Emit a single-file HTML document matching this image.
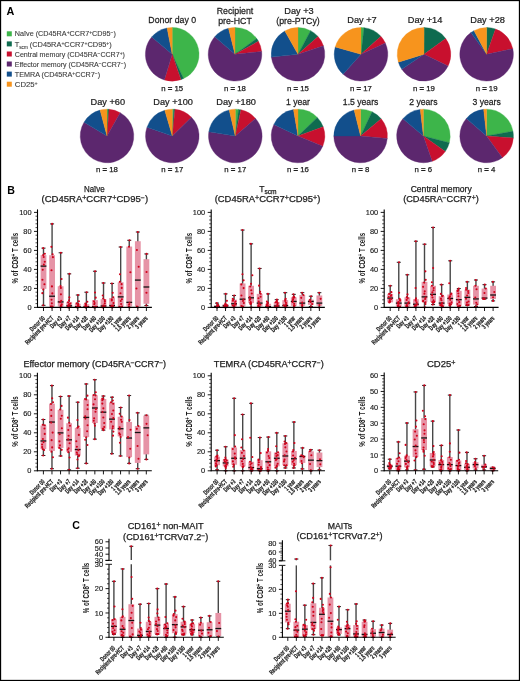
<!DOCTYPE html>
<html><head><meta charset="utf-8"><style>
html,body{margin:0;padding:0;background:#fff;}
svg{display:block;font-family:"Liberation Sans", sans-serif;will-change:transform;}
</style></head><body>
<svg width="520" height="681" viewBox="0 0 520 681">
<rect x="0.5" y="0.5" width="519" height="680" fill="#fff" stroke="#000" stroke-width="1.3"/>
<text x="6.6" y="14.7" font-size="10.8" font-weight="bold" fill="#000">A</text>
<rect x="6.8" y="31.3" width="5" height="5" fill="#3db54a"/>
<text x="14.8" y="36.4" font-size="7.3" textLength="101.1" lengthAdjust="spacingAndGlyphs" fill="#3a3a3a" stroke="#3a3a3a" stroke-width="0.1">Naïve (CD45RA<tspan baseline-shift="2.4" font-size="5">+</tspan>CCR7<tspan baseline-shift="2.4" font-size="5">+</tspan>CD95<tspan baseline-shift="2.4" font-size="5">−</tspan>)</text>
<rect x="6.8" y="41.4" width="5" height="5" fill="#0e6b4f"/>
<text x="14.8" y="46.5" font-size="7.3" textLength="97.0" lengthAdjust="spacingAndGlyphs" fill="#3a3a3a" stroke="#3a3a3a" stroke-width="0.1">T<tspan baseline-shift="-1.5" font-size="4.5">scm</tspan> (CD45RA<tspan baseline-shift="2.4" font-size="5">+</tspan>CCR7<tspan baseline-shift="2.4" font-size="5">+</tspan>CD95<tspan baseline-shift="2.4" font-size="5">+</tspan>)</text>
<rect x="6.8" y="51.5" width="5" height="5" fill="#c8102e"/>
<text x="14.8" y="56.6" font-size="7.3" textLength="110.1" lengthAdjust="spacingAndGlyphs" fill="#3a3a3a" stroke="#3a3a3a" stroke-width="0.1">Central memory (CD45RA<tspan baseline-shift="2.4" font-size="5">−</tspan>CCR7<tspan baseline-shift="2.4" font-size="5">+</tspan>)</text>
<rect x="6.8" y="61.5" width="5" height="5" fill="#5c276e"/>
<text x="14.8" y="66.6" font-size="7.3" textLength="111.2" lengthAdjust="spacingAndGlyphs" fill="#3a3a3a" stroke="#3a3a3a" stroke-width="0.1">Effector memory (CD45RA<tspan baseline-shift="2.4" font-size="5">−</tspan>CCR7<tspan baseline-shift="2.4" font-size="5">−</tspan>)</text>
<rect x="6.8" y="71.6" width="5" height="5" fill="#124f8c"/>
<text x="14.8" y="76.7" font-size="7.3" textLength="85.3" lengthAdjust="spacingAndGlyphs" fill="#3a3a3a" stroke="#3a3a3a" stroke-width="0.1">TEMRA (CD45RA<tspan baseline-shift="2.4" font-size="5">+</tspan>CCR7<tspan baseline-shift="2.4" font-size="5">−</tspan>)</text>
<rect x="6.8" y="81.7" width="5" height="5" fill="#f7941d"/>
<text x="14.8" y="86.8" font-size="7.3" textLength="22.9" lengthAdjust="spacingAndGlyphs" fill="#3a3a3a" stroke="#3a3a3a" stroke-width="0.1">CD25<tspan baseline-shift="2.4" font-size="5">+</tspan></text>
<path d="M172.2,54.3L172.20,27.50A26.8,26.8 0 0 1 183.53,78.59Z" fill="#3db54a" stroke="#3db54a" stroke-width="0.35" stroke-linejoin="bevel"/>
<path d="M172.2,54.3L183.53,78.59A26.8,26.8 0 0 1 180.93,79.64Z" fill="#0e6b4f" stroke="#0e6b4f" stroke-width="0.35" stroke-linejoin="bevel"/>
<path d="M172.2,54.3L180.93,79.64A26.8,26.8 0 0 1 164.36,79.93Z" fill="#c8102e" stroke="#c8102e" stroke-width="0.35" stroke-linejoin="bevel"/>
<path d="M172.2,54.3L164.36,79.93A26.8,26.8 0 0 1 151.67,37.07Z" fill="#5c276e" stroke="#5c276e" stroke-width="0.35" stroke-linejoin="bevel"/>
<path d="M172.2,54.3L151.67,37.07A26.8,26.8 0 0 1 167.09,27.99Z" fill="#124f8c" stroke="#124f8c" stroke-width="0.35" stroke-linejoin="bevel"/>
<path d="M172.2,54.3L167.09,27.99A26.8,26.8 0 0 1 172.20,27.50Z" fill="#f7941d" stroke="#f7941d" stroke-width="0.35" stroke-linejoin="bevel"/>
<text transform="translate(172.2,23.0) scale(0.935,1)" font-size="9.4" text-anchor="middle" fill="#1e1e1e" stroke="#1e1e1e" stroke-width="0.25">Donor day 0</text>
<text x="172.2" y="90.5" font-size="7.8" text-anchor="middle" fill="#1e1e1e" stroke="#1e1e1e" stroke-width="0.25">n <tspan font-weight="bold">=</tspan> 15</text>
<path d="M235.0,54.3L235.00,27.50A26.8,26.8 0 0 1 256.68,38.55Z" fill="#3db54a" stroke="#3db54a" stroke-width="0.35" stroke-linejoin="bevel"/>
<path d="M235.0,54.3L256.68,38.55A26.8,26.8 0 0 1 258.44,41.31Z" fill="#0e6b4f" stroke="#0e6b4f" stroke-width="0.35" stroke-linejoin="bevel"/>
<path d="M235.0,54.3L258.44,41.31A26.8,26.8 0 0 1 261.65,51.50Z" fill="#c8102e" stroke="#c8102e" stroke-width="0.35" stroke-linejoin="bevel"/>
<path d="M235.0,54.3L261.65,51.50A26.8,26.8 0 1 1 214.77,36.72Z" fill="#5c276e" stroke="#5c276e" stroke-width="0.35" stroke-linejoin="bevel"/>
<path d="M235.0,54.3L214.77,36.72A26.8,26.8 0 0 1 228.52,28.30Z" fill="#124f8c" stroke="#124f8c" stroke-width="0.35" stroke-linejoin="bevel"/>
<path d="M235.0,54.3L228.52,28.30A26.8,26.8 0 0 1 235.00,27.50Z" fill="#f7941d" stroke="#f7941d" stroke-width="0.35" stroke-linejoin="bevel"/>
<text transform="translate(235.0,13.9) scale(0.935,1)" font-size="9.4" text-anchor="middle" fill="#1e1e1e" stroke="#1e1e1e" stroke-width="0.25">Recipient</text>
<text transform="translate(235.0,24.0) scale(0.935,1)" font-size="9.4" text-anchor="middle" fill="#1e1e1e" stroke="#1e1e1e" stroke-width="0.25">pre-HCT</text>
<text x="235.0" y="90.5" font-size="7.8" text-anchor="middle" fill="#1e1e1e" stroke="#1e1e1e" stroke-width="0.25">n <tspan font-weight="bold">=</tspan> 18</text>
<path d="M298.0,54.3L298.00,27.50A26.8,26.8 0 0 1 310.58,30.64Z" fill="#3db54a" stroke="#3db54a" stroke-width="0.35" stroke-linejoin="bevel"/>
<path d="M298.0,54.3L310.58,30.64A26.8,26.8 0 0 1 318.07,36.54Z" fill="#0e6b4f" stroke="#0e6b4f" stroke-width="0.35" stroke-linejoin="bevel"/>
<path d="M298.0,54.3L318.07,36.54A26.8,26.8 0 0 1 323.42,45.80Z" fill="#c8102e" stroke="#c8102e" stroke-width="0.35" stroke-linejoin="bevel"/>
<path d="M298.0,54.3L323.42,45.80A26.8,26.8 0 1 1 271.35,57.10Z" fill="#5c276e" stroke="#5c276e" stroke-width="0.35" stroke-linejoin="bevel"/>
<path d="M298.0,54.3L271.35,57.10A26.8,26.8 0 0 1 284.84,30.95Z" fill="#124f8c" stroke="#124f8c" stroke-width="0.35" stroke-linejoin="bevel"/>
<path d="M298.0,54.3L284.84,30.95A26.8,26.8 0 0 1 298.00,27.50Z" fill="#f7941d" stroke="#f7941d" stroke-width="0.35" stroke-linejoin="bevel"/>
<text transform="translate(299.0,13.9) scale(0.98,1)" font-size="9.4" text-anchor="middle" fill="#1e1e1e" stroke="#1e1e1e" stroke-width="0.25">Day +3</text>
<text transform="translate(298.0,24.0) scale(0.935,1)" font-size="9.4" text-anchor="middle" fill="#1e1e1e" stroke="#1e1e1e" stroke-width="0.25">(pre-PTCy)</text>
<text x="298.0" y="90.5" font-size="7.8" text-anchor="middle" fill="#1e1e1e" stroke="#1e1e1e" stroke-width="0.25">n <tspan font-weight="bold">=</tspan> 15</text>
<path d="M361.0,54.3L361.00,27.50A26.8,26.8 0 0 1 363.99,27.67Z" fill="#3db54a" stroke="#3db54a" stroke-width="0.35" stroke-linejoin="bevel"/>
<path d="M361.0,54.3L363.99,27.67A26.8,26.8 0 0 1 380.92,36.37Z" fill="#0e6b4f" stroke="#0e6b4f" stroke-width="0.35" stroke-linejoin="bevel"/>
<path d="M361.0,54.3L380.92,36.37A26.8,26.8 0 0 1 385.29,42.97Z" fill="#c8102e" stroke="#c8102e" stroke-width="0.35" stroke-linejoin="bevel"/>
<path d="M361.0,54.3L385.29,42.97A26.8,26.8 0 0 1 343.07,74.22Z" fill="#5c276e" stroke="#5c276e" stroke-width="0.35" stroke-linejoin="bevel"/>
<path d="M361.0,54.3L343.07,74.22A26.8,26.8 0 0 1 335.24,46.91Z" fill="#124f8c" stroke="#124f8c" stroke-width="0.35" stroke-linejoin="bevel"/>
<path d="M361.0,54.3L335.24,46.91A26.8,26.8 0 0 1 361.00,27.50Z" fill="#f7941d" stroke="#f7941d" stroke-width="0.35" stroke-linejoin="bevel"/>
<text transform="translate(362.0,23.0) scale(0.98,1)" font-size="9.4" text-anchor="middle" fill="#1e1e1e" stroke="#1e1e1e" stroke-width="0.25">Day +7</text>
<text x="361.0" y="90.5" font-size="7.8" text-anchor="middle" fill="#1e1e1e" stroke="#1e1e1e" stroke-width="0.25">n <tspan font-weight="bold">=</tspan> 17</text>
<path d="M424.0,54.3L424.00,27.50A26.8,26.8 0 0 1 424.23,27.50Z" fill="#3db54a" stroke="#3db54a" stroke-width="0.35" stroke-linejoin="bevel"/>
<path d="M424.0,54.3L424.23,27.50A26.8,26.8 0 0 1 445.68,38.55Z" fill="#0e6b4f" stroke="#0e6b4f" stroke-width="0.35" stroke-linejoin="bevel"/>
<path d="M424.0,54.3L445.68,38.55A26.8,26.8 0 0 1 448.09,66.05Z" fill="#c8102e" stroke="#c8102e" stroke-width="0.35" stroke-linejoin="bevel"/>
<path d="M424.0,54.3L448.09,66.05A26.8,26.8 0 0 1 401.78,69.29Z" fill="#5c276e" stroke="#5c276e" stroke-width="0.35" stroke-linejoin="bevel"/>
<path d="M424.0,54.3L401.78,69.29A26.8,26.8 0 0 1 398.37,62.14Z" fill="#124f8c" stroke="#124f8c" stroke-width="0.35" stroke-linejoin="bevel"/>
<path d="M424.0,54.3L398.37,62.14A26.8,26.8 0 0 1 424.00,27.50Z" fill="#f7941d" stroke="#f7941d" stroke-width="0.35" stroke-linejoin="bevel"/>
<text transform="translate(425.0,23.0) scale(0.98,1)" font-size="9.4" text-anchor="middle" fill="#1e1e1e" stroke="#1e1e1e" stroke-width="0.25">Day +14</text>
<text x="424.0" y="90.5" font-size="7.8" text-anchor="middle" fill="#1e1e1e" stroke="#1e1e1e" stroke-width="0.25">n <tspan font-weight="bold">=</tspan> 19</text>
<path d="M486.6,54.3L486.60,27.50A26.8,26.8 0 0 1 487.07,27.50Z" fill="#3db54a" stroke="#3db54a" stroke-width="0.35" stroke-linejoin="bevel"/>
<path d="M486.6,54.3L487.07,27.50A26.8,26.8 0 0 1 495.50,29.02Z" fill="#0e6b4f" stroke="#0e6b4f" stroke-width="0.35" stroke-linejoin="bevel"/>
<path d="M486.6,54.3L495.50,29.02A26.8,26.8 0 0 1 512.81,48.73Z" fill="#c8102e" stroke="#c8102e" stroke-width="0.35" stroke-linejoin="bevel"/>
<path d="M486.6,54.3L512.81,48.73A26.8,26.8 0 1 1 470.85,32.62Z" fill="#5c276e" stroke="#5c276e" stroke-width="0.35" stroke-linejoin="bevel"/>
<path d="M486.6,54.3L470.85,32.62A26.8,26.8 0 0 1 474.02,30.64Z" fill="#124f8c" stroke="#124f8c" stroke-width="0.35" stroke-linejoin="bevel"/>
<path d="M486.6,54.3L474.02,30.64A26.8,26.8 0 0 1 486.60,27.50Z" fill="#f7941d" stroke="#f7941d" stroke-width="0.35" stroke-linejoin="bevel"/>
<text transform="translate(487.6,23.0) scale(0.98,1)" font-size="9.4" text-anchor="middle" fill="#1e1e1e" stroke="#1e1e1e" stroke-width="0.25">Day +28</text>
<text x="486.6" y="90.5" font-size="7.8" text-anchor="middle" fill="#1e1e1e" stroke="#1e1e1e" stroke-width="0.25">n <tspan font-weight="bold">=</tspan> 19</text>
<path d="M107.0,136.0L107.00,109.20A26.8,26.8 0 0 1 108.17,109.23Z" fill="#3db54a" stroke="#3db54a" stroke-width="0.35" stroke-linejoin="bevel"/>
<path d="M107.0,136.0L108.17,109.23A26.8,26.8 0 0 1 109.10,109.28Z" fill="#0e6b4f" stroke="#0e6b4f" stroke-width="0.35" stroke-linejoin="bevel"/>
<path d="M107.0,136.0L109.10,109.28A26.8,26.8 0 0 1 120.20,112.67Z" fill="#c8102e" stroke="#c8102e" stroke-width="0.35" stroke-linejoin="bevel"/>
<path d="M107.0,136.0L120.20,112.67A26.8,26.8 0 1 1 84.03,122.20Z" fill="#5c276e" stroke="#5c276e" stroke-width="0.35" stroke-linejoin="bevel"/>
<path d="M107.0,136.0L84.03,122.20A26.8,26.8 0 0 1 100.06,110.11Z" fill="#124f8c" stroke="#124f8c" stroke-width="0.35" stroke-linejoin="bevel"/>
<path d="M107.0,136.0L100.06,110.11A26.8,26.8 0 0 1 107.00,109.20Z" fill="#f7941d" stroke="#f7941d" stroke-width="0.35" stroke-linejoin="bevel"/>
<text transform="translate(107.8,105.3) scale(0.98,1)" font-size="9.4" text-anchor="middle" fill="#1e1e1e" stroke="#1e1e1e" stroke-width="0.25">Day +60</text>
<text x="107.0" y="172.1" font-size="7.8" text-anchor="middle" fill="#1e1e1e" stroke="#1e1e1e" stroke-width="0.25">n <tspan font-weight="bold">=</tspan> 18</text>
<path d="M172.3,136.0L172.30,109.20A26.8,26.8 0 0 1 173.70,109.24Z" fill="#3db54a" stroke="#3db54a" stroke-width="0.35" stroke-linejoin="bevel"/>
<path d="M172.3,136.0L173.70,109.24A26.8,26.8 0 0 1 175.01,109.34Z" fill="#0e6b4f" stroke="#0e6b4f" stroke-width="0.35" stroke-linejoin="bevel"/>
<path d="M172.3,136.0L175.01,109.34A26.8,26.8 0 0 1 191.45,117.25Z" fill="#c8102e" stroke="#c8102e" stroke-width="0.35" stroke-linejoin="bevel"/>
<path d="M172.3,136.0L191.45,117.25A26.8,26.8 0 1 1 146.96,127.27Z" fill="#5c276e" stroke="#5c276e" stroke-width="0.35" stroke-linejoin="bevel"/>
<path d="M172.3,136.0L146.96,127.27A26.8,26.8 0 0 1 164.78,110.28Z" fill="#124f8c" stroke="#124f8c" stroke-width="0.35" stroke-linejoin="bevel"/>
<path d="M172.3,136.0L164.78,110.28A26.8,26.8 0 0 1 172.30,109.20Z" fill="#f7941d" stroke="#f7941d" stroke-width="0.35" stroke-linejoin="bevel"/>
<text transform="translate(173.10000000000002,105.3) scale(0.98,1)" font-size="9.4" text-anchor="middle" fill="#1e1e1e" stroke="#1e1e1e" stroke-width="0.25">Day +100</text>
<text x="172.3" y="172.1" font-size="7.8" text-anchor="middle" fill="#1e1e1e" stroke="#1e1e1e" stroke-width="0.25">n <tspan font-weight="bold">=</tspan> 17</text>
<path d="M235.3,136.0L235.30,109.20A26.8,26.8 0 0 1 238.57,109.40Z" fill="#3db54a" stroke="#3db54a" stroke-width="0.35" stroke-linejoin="bevel"/>
<path d="M235.3,136.0L238.57,109.40A26.8,26.8 0 0 1 241.01,109.82Z" fill="#0e6b4f" stroke="#0e6b4f" stroke-width="0.35" stroke-linejoin="bevel"/>
<path d="M235.3,136.0L241.01,109.82A26.8,26.8 0 0 1 255.53,118.42Z" fill="#c8102e" stroke="#c8102e" stroke-width="0.35" stroke-linejoin="bevel"/>
<path d="M235.3,136.0L255.53,118.42A26.8,26.8 0 1 1 208.83,131.81Z" fill="#5c276e" stroke="#5c276e" stroke-width="0.35" stroke-linejoin="bevel"/>
<path d="M235.3,136.0L208.83,131.81A26.8,26.8 0 0 1 229.18,109.91Z" fill="#124f8c" stroke="#124f8c" stroke-width="0.35" stroke-linejoin="bevel"/>
<path d="M235.3,136.0L229.18,109.91A26.8,26.8 0 0 1 235.30,109.20Z" fill="#f7941d" stroke="#f7941d" stroke-width="0.35" stroke-linejoin="bevel"/>
<text transform="translate(236.10000000000002,105.3) scale(0.98,1)" font-size="9.4" text-anchor="middle" fill="#1e1e1e" stroke="#1e1e1e" stroke-width="0.25">Day +180</text>
<text x="235.3" y="172.1" font-size="7.8" text-anchor="middle" fill="#1e1e1e" stroke="#1e1e1e" stroke-width="0.25">n <tspan font-weight="bold">=</tspan> 17</text>
<path d="M298.0,136.0L298.00,109.20A26.8,26.8 0 0 1 317.28,117.38Z" fill="#3db54a" stroke="#3db54a" stroke-width="0.35" stroke-linejoin="bevel"/>
<path d="M298.0,136.0L317.28,117.38A26.8,26.8 0 0 1 323.18,126.83Z" fill="#0e6b4f" stroke="#0e6b4f" stroke-width="0.35" stroke-linejoin="bevel"/>
<path d="M298.0,136.0L323.18,126.83A26.8,26.8 0 0 1 322.74,146.30Z" fill="#c8102e" stroke="#c8102e" stroke-width="0.35" stroke-linejoin="bevel"/>
<path d="M298.0,136.0L322.74,146.30A26.8,26.8 0 1 1 273.85,124.38Z" fill="#5c276e" stroke="#5c276e" stroke-width="0.35" stroke-linejoin="bevel"/>
<path d="M298.0,136.0L273.85,124.38A26.8,26.8 0 0 1 293.48,109.58Z" fill="#124f8c" stroke="#124f8c" stroke-width="0.35" stroke-linejoin="bevel"/>
<path d="M298.0,136.0L293.48,109.58A26.8,26.8 0 0 1 298.00,109.20Z" fill="#f7941d" stroke="#f7941d" stroke-width="0.35" stroke-linejoin="bevel"/>
<text transform="translate(298.0,105.3) scale(0.92,1)" font-size="9.4" text-anchor="middle" fill="#1e1e1e" stroke="#1e1e1e" stroke-width="0.25">1 year</text>
<text x="298.0" y="172.1" font-size="7.8" text-anchor="middle" fill="#1e1e1e" stroke="#1e1e1e" stroke-width="0.25">n <tspan font-weight="bold">=</tspan> 16</text>
<path d="M360.6,136.0L360.60,109.20A26.8,26.8 0 0 1 372.05,111.77Z" fill="#3db54a" stroke="#3db54a" stroke-width="0.35" stroke-linejoin="bevel"/>
<path d="M360.6,136.0L372.05,111.77A26.8,26.8 0 0 1 381.19,118.85Z" fill="#0e6b4f" stroke="#0e6b4f" stroke-width="0.35" stroke-linejoin="bevel"/>
<path d="M360.6,136.0L381.19,118.85A26.8,26.8 0 0 1 387.29,138.43Z" fill="#c8102e" stroke="#c8102e" stroke-width="0.35" stroke-linejoin="bevel"/>
<path d="M360.6,136.0L387.29,138.43A26.8,26.8 0 0 1 333.80,136.00Z" fill="#5c276e" stroke="#5c276e" stroke-width="0.35" stroke-linejoin="bevel"/>
<path d="M360.6,136.0L333.80,136.00A26.8,26.8 0 0 1 354.12,110.00Z" fill="#124f8c" stroke="#124f8c" stroke-width="0.35" stroke-linejoin="bevel"/>
<path d="M360.6,136.0L354.12,110.00A26.8,26.8 0 0 1 360.60,109.20Z" fill="#f7941d" stroke="#f7941d" stroke-width="0.35" stroke-linejoin="bevel"/>
<text transform="translate(360.6,105.3) scale(0.92,1)" font-size="9.4" text-anchor="middle" fill="#1e1e1e" stroke="#1e1e1e" stroke-width="0.25">1.5 years</text>
<text x="360.6" y="172.1" font-size="7.8" text-anchor="middle" fill="#1e1e1e" stroke="#1e1e1e" stroke-width="0.25">n <tspan font-weight="bold">=</tspan> 8</text>
<path d="M423.4,136.0L423.40,109.20A26.8,26.8 0 0 1 449.33,142.76Z" fill="#3db54a" stroke="#3db54a" stroke-width="0.35" stroke-linejoin="bevel"/>
<path d="M423.4,136.0L449.33,142.76A26.8,26.8 0 0 1 445.25,151.52Z" fill="#0e6b4f" stroke="#0e6b4f" stroke-width="0.35" stroke-linejoin="bevel"/>
<path d="M423.4,136.0L445.25,151.52A26.8,26.8 0 0 1 432.17,161.32Z" fill="#c8102e" stroke="#c8102e" stroke-width="0.35" stroke-linejoin="bevel"/>
<path d="M423.4,136.0L432.17,161.32A26.8,26.8 0 0 1 402.87,118.77Z" fill="#5c276e" stroke="#5c276e" stroke-width="0.35" stroke-linejoin="bevel"/>
<path d="M423.4,136.0L402.87,118.77A26.8,26.8 0 0 1 420.27,109.38Z" fill="#124f8c" stroke="#124f8c" stroke-width="0.35" stroke-linejoin="bevel"/>
<path d="M423.4,136.0L420.27,109.38A26.8,26.8 0 0 1 423.40,109.20Z" fill="#f7941d" stroke="#f7941d" stroke-width="0.35" stroke-linejoin="bevel"/>
<text transform="translate(423.4,105.3) scale(0.92,1)" font-size="9.4" text-anchor="middle" fill="#1e1e1e" stroke="#1e1e1e" stroke-width="0.25">2 years</text>
<text x="423.4" y="172.1" font-size="7.8" text-anchor="middle" fill="#1e1e1e" stroke="#1e1e1e" stroke-width="0.25">n <tspan font-weight="bold">=</tspan> 6</text>
<path d="M486.6,136.0L486.60,109.20A26.8,26.8 0 0 1 512.97,131.21Z" fill="#3db54a" stroke="#3db54a" stroke-width="0.35" stroke-linejoin="bevel"/>
<path d="M486.6,136.0L512.97,131.21A26.8,26.8 0 0 1 513.32,138.01Z" fill="#0e6b4f" stroke="#0e6b4f" stroke-width="0.35" stroke-linejoin="bevel"/>
<path d="M486.6,136.0L513.32,138.01A26.8,26.8 0 0 1 502.39,157.65Z" fill="#c8102e" stroke="#c8102e" stroke-width="0.35" stroke-linejoin="bevel"/>
<path d="M486.6,136.0L502.39,157.65A26.8,26.8 0 0 1 466.37,118.42Z" fill="#5c276e" stroke="#5c276e" stroke-width="0.35" stroke-linejoin="bevel"/>
<path d="M486.6,136.0L466.37,118.42A26.8,26.8 0 0 1 483.66,109.36Z" fill="#124f8c" stroke="#124f8c" stroke-width="0.35" stroke-linejoin="bevel"/>
<path d="M486.6,136.0L483.66,109.36A26.8,26.8 0 0 1 486.60,109.20Z" fill="#f7941d" stroke="#f7941d" stroke-width="0.35" stroke-linejoin="bevel"/>
<text transform="translate(486.6,105.3) scale(0.92,1)" font-size="9.4" text-anchor="middle" fill="#1e1e1e" stroke="#1e1e1e" stroke-width="0.25">3 years</text>
<text x="486.6" y="172.1" font-size="7.8" text-anchor="middle" fill="#1e1e1e" stroke="#1e1e1e" stroke-width="0.25">n <tspan font-weight="bold">=</tspan> 4</text>
<line x1="43.50" y1="248.13" x2="43.50" y2="305.35" stroke="#474747" stroke-width="1.4"/>
<line x1="41.50" y1="248.13" x2="45.50" y2="248.13" stroke="#222" stroke-width="1"/>
<line x1="41.50" y1="305.35" x2="45.50" y2="305.35" stroke="#222" stroke-width="1"/>
<line x1="52.08" y1="223.90" x2="52.08" y2="307.40" stroke="#474747" stroke-width="1.4"/>
<line x1="50.08" y1="223.90" x2="54.08" y2="223.90" stroke="#222" stroke-width="1"/>
<line x1="50.08" y1="307.40" x2="54.08" y2="307.40" stroke="#222" stroke-width="1"/>
<line x1="60.65" y1="252.79" x2="60.65" y2="307.40" stroke="#474747" stroke-width="1.4"/>
<line x1="58.65" y1="252.79" x2="62.65" y2="252.79" stroke="#222" stroke-width="1"/>
<line x1="58.65" y1="307.40" x2="62.65" y2="307.40" stroke="#222" stroke-width="1"/>
<line x1="69.22" y1="273.85" x2="69.22" y2="307.40" stroke="#474747" stroke-width="1.4"/>
<line x1="67.22" y1="273.85" x2="71.22" y2="273.85" stroke="#222" stroke-width="1"/>
<line x1="67.22" y1="307.40" x2="71.22" y2="307.40" stroke="#222" stroke-width="1"/>
<line x1="77.80" y1="295.01" x2="77.80" y2="307.40" stroke="#474747" stroke-width="1.4"/>
<line x1="75.80" y1="295.01" x2="79.80" y2="295.01" stroke="#222" stroke-width="1"/>
<line x1="75.80" y1="307.40" x2="79.80" y2="307.40" stroke="#222" stroke-width="1"/>
<line x1="86.38" y1="292.21" x2="86.38" y2="307.40" stroke="#474747" stroke-width="1.4"/>
<line x1="84.38" y1="292.21" x2="88.38" y2="292.21" stroke="#222" stroke-width="1"/>
<line x1="84.38" y1="307.40" x2="88.38" y2="307.40" stroke="#222" stroke-width="1"/>
<line x1="94.95" y1="271.24" x2="94.95" y2="307.40" stroke="#474747" stroke-width="1.4"/>
<line x1="92.95" y1="271.24" x2="96.95" y2="271.24" stroke="#222" stroke-width="1"/>
<line x1="92.95" y1="307.40" x2="96.95" y2="307.40" stroke="#222" stroke-width="1"/>
<line x1="103.52" y1="282.98" x2="103.52" y2="307.40" stroke="#474747" stroke-width="1.4"/>
<line x1="101.52" y1="282.98" x2="105.52" y2="282.98" stroke="#222" stroke-width="1"/>
<line x1="101.52" y1="307.40" x2="105.52" y2="307.40" stroke="#222" stroke-width="1"/>
<line x1="112.10" y1="283.45" x2="112.10" y2="307.40" stroke="#474747" stroke-width="1.4"/>
<line x1="110.10" y1="283.45" x2="114.10" y2="283.45" stroke="#222" stroke-width="1"/>
<line x1="110.10" y1="307.40" x2="114.10" y2="307.40" stroke="#222" stroke-width="1"/>
<line x1="120.67" y1="247.01" x2="120.67" y2="307.40" stroke="#474747" stroke-width="1.4"/>
<line x1="118.67" y1="247.01" x2="122.67" y2="247.01" stroke="#222" stroke-width="1"/>
<line x1="118.67" y1="307.40" x2="122.67" y2="307.40" stroke="#222" stroke-width="1"/>
<line x1="129.25" y1="240.30" x2="129.25" y2="307.40" stroke="#474747" stroke-width="1.4"/>
<line x1="127.25" y1="240.30" x2="131.25" y2="240.30" stroke="#222" stroke-width="1"/>
<line x1="127.25" y1="307.40" x2="131.25" y2="307.40" stroke="#222" stroke-width="1"/>
<line x1="137.82" y1="232.01" x2="137.82" y2="307.40" stroke="#474747" stroke-width="1.4"/>
<line x1="135.82" y1="232.01" x2="139.82" y2="232.01" stroke="#222" stroke-width="1"/>
<line x1="135.82" y1="307.40" x2="139.82" y2="307.40" stroke="#222" stroke-width="1"/>
<line x1="146.40" y1="253.91" x2="146.40" y2="305.54" stroke="#474747" stroke-width="1.4"/>
<line x1="144.40" y1="253.91" x2="148.40" y2="253.91" stroke="#222" stroke-width="1"/>
<line x1="144.40" y1="305.54" x2="148.40" y2="305.54" stroke="#222" stroke-width="1"/>
<rect x="40.60" y="255.12" width="5.8" height="33.74" fill="#e693a6"/>
<rect x="49.18" y="255.21" width="5.8" height="51.26" fill="#e693a6"/>
<rect x="57.75" y="286.24" width="5.8" height="20.22" fill="#e693a6"/>
<rect x="66.32" y="301.90" width="5.8" height="5.22" fill="#e693a6"/>
<rect x="74.90" y="303.77" width="5.8" height="3.45" fill="#e693a6"/>
<rect x="83.47" y="304.23" width="5.8" height="2.98" fill="#e693a6"/>
<rect x="92.05" y="300.13" width="5.8" height="7.08" fill="#e693a6"/>
<rect x="100.62" y="299.20" width="5.8" height="7.92" fill="#e693a6"/>
<rect x="109.20" y="298.08" width="5.8" height="8.85" fill="#e693a6"/>
<rect x="117.77" y="282.24" width="5.8" height="24.23" fill="#e693a6"/>
<rect x="126.35" y="246.54" width="5.8" height="59.92" fill="#e693a6"/>
<rect x="134.92" y="241.23" width="5.8" height="65.24" fill="#e693a6"/>
<rect x="143.50" y="259.22" width="5.8" height="44.55" fill="#e693a6"/>
<line x1="40.60" y1="266.11" x2="46.40" y2="266.11" stroke="#111" stroke-width="1.3"/>
<line x1="49.18" y1="296.22" x2="54.98" y2="296.22" stroke="#111" stroke-width="1.3"/>
<line x1="57.75" y1="301.90" x2="63.55" y2="301.90" stroke="#111" stroke-width="1.3"/>
<line x1="66.32" y1="305.82" x2="72.12" y2="305.82" stroke="#111" stroke-width="1.3"/>
<line x1="74.90" y1="306.65" x2="80.70" y2="306.65" stroke="#111" stroke-width="1.3"/>
<line x1="83.47" y1="306.65" x2="89.28" y2="306.65" stroke="#111" stroke-width="1.3"/>
<line x1="92.05" y1="306.65" x2="97.85" y2="306.65" stroke="#111" stroke-width="1.3"/>
<line x1="100.62" y1="306.00" x2="106.42" y2="306.00" stroke="#111" stroke-width="1.3"/>
<line x1="109.20" y1="305.54" x2="115.00" y2="305.54" stroke="#111" stroke-width="1.3"/>
<line x1="117.77" y1="296.87" x2="123.58" y2="296.87" stroke="#111" stroke-width="1.3"/>
<line x1="126.35" y1="302.37" x2="132.15" y2="302.37" stroke="#111" stroke-width="1.3"/>
<line x1="134.92" y1="280.09" x2="140.72" y2="280.09" stroke="#111" stroke-width="1.3"/>
<line x1="143.50" y1="286.99" x2="149.30" y2="286.99" stroke="#111" stroke-width="1.3"/>
<circle cx="43.24" cy="305.35" r="1.05" fill="#d0021b"/>
<circle cx="42.35" cy="293.13" r="1.05" fill="#d0021b"/>
<circle cx="43.29" cy="289.62" r="1.05" fill="#d0021b"/>
<circle cx="44.42" cy="284.26" r="1.05" fill="#d0021b"/>
<circle cx="42.45" cy="279.75" r="1.05" fill="#d0021b"/>
<circle cx="42.73" cy="269.71" r="1.05" fill="#d0021b"/>
<circle cx="43.86" cy="264.63" r="1.05" fill="#d0021b"/>
<circle cx="44.75" cy="261.75" r="1.05" fill="#d0021b"/>
<circle cx="43.72" cy="256.93" r="1.05" fill="#d0021b"/>
<circle cx="43.21" cy="255.10" r="1.05" fill="#d0021b"/>
<circle cx="44.83" cy="253.70" r="1.05" fill="#d0021b"/>
<circle cx="43.23" cy="248.13" r="1.05" fill="#d0021b"/>
<circle cx="51.81" cy="307.40" r="1.05" fill="#d0021b"/>
<circle cx="50.84" cy="306.64" r="1.05" fill="#d0021b"/>
<circle cx="51.25" cy="306.52" r="1.05" fill="#d0021b"/>
<circle cx="52.58" cy="306.46" r="1.05" fill="#d0021b"/>
<circle cx="51.87" cy="303.37" r="1.05" fill="#d0021b"/>
<circle cx="51.55" cy="299.79" r="1.05" fill="#d0021b"/>
<circle cx="52.31" cy="293.42" r="1.05" fill="#d0021b"/>
<circle cx="51.94" cy="286.42" r="1.05" fill="#d0021b"/>
<circle cx="51.51" cy="270.26" r="1.05" fill="#d0021b"/>
<circle cx="52.90" cy="257.14" r="1.05" fill="#d0021b"/>
<circle cx="52.63" cy="254.27" r="1.05" fill="#d0021b"/>
<circle cx="51.36" cy="246.85" r="1.05" fill="#d0021b"/>
<circle cx="52.12" cy="223.90" r="1.05" fill="#d0021b"/>
<circle cx="60.37" cy="307.40" r="1.05" fill="#d0021b"/>
<circle cx="61.12" cy="306.67" r="1.05" fill="#d0021b"/>
<circle cx="61.39" cy="306.47" r="1.05" fill="#d0021b"/>
<circle cx="60.85" cy="305.46" r="1.05" fill="#d0021b"/>
<circle cx="61.70" cy="304.41" r="1.05" fill="#d0021b"/>
<circle cx="60.13" cy="302.15" r="1.05" fill="#d0021b"/>
<circle cx="61.20" cy="300.69" r="1.05" fill="#d0021b"/>
<circle cx="60.91" cy="294.37" r="1.05" fill="#d0021b"/>
<circle cx="60.87" cy="287.91" r="1.05" fill="#d0021b"/>
<circle cx="60.53" cy="286.10" r="1.05" fill="#d0021b"/>
<circle cx="61.60" cy="279.05" r="1.05" fill="#d0021b"/>
<circle cx="60.92" cy="252.79" r="1.05" fill="#d0021b"/>
<circle cx="69.20" cy="307.40" r="1.05" fill="#d0021b"/>
<circle cx="68.30" cy="307.19" r="1.05" fill="#d0021b"/>
<circle cx="68.15" cy="307.13" r="1.05" fill="#d0021b"/>
<circle cx="67.99" cy="307.12" r="1.05" fill="#d0021b"/>
<circle cx="69.98" cy="306.56" r="1.05" fill="#d0021b"/>
<circle cx="68.19" cy="306.18" r="1.05" fill="#d0021b"/>
<circle cx="68.52" cy="305.40" r="1.05" fill="#d0021b"/>
<circle cx="68.92" cy="304.34" r="1.05" fill="#d0021b"/>
<circle cx="70.26" cy="303.59" r="1.05" fill="#d0021b"/>
<circle cx="68.05" cy="302.30" r="1.05" fill="#d0021b"/>
<circle cx="69.08" cy="300.36" r="1.05" fill="#d0021b"/>
<circle cx="69.36" cy="297.39" r="1.05" fill="#d0021b"/>
<circle cx="69.46" cy="273.85" r="1.05" fill="#d0021b"/>
<circle cx="77.85" cy="307.40" r="1.05" fill="#d0021b"/>
<circle cx="77.14" cy="307.26" r="1.05" fill="#d0021b"/>
<circle cx="76.41" cy="307.22" r="1.05" fill="#d0021b"/>
<circle cx="77.57" cy="307.21" r="1.05" fill="#d0021b"/>
<circle cx="77.43" cy="307.06" r="1.05" fill="#d0021b"/>
<circle cx="77.99" cy="306.91" r="1.05" fill="#d0021b"/>
<circle cx="79.07" cy="306.69" r="1.05" fill="#d0021b"/>
<circle cx="78.33" cy="305.98" r="1.05" fill="#d0021b"/>
<circle cx="77.84" cy="305.62" r="1.05" fill="#d0021b"/>
<circle cx="78.13" cy="304.78" r="1.05" fill="#d0021b"/>
<circle cx="78.29" cy="303.92" r="1.05" fill="#d0021b"/>
<circle cx="76.55" cy="303.41" r="1.05" fill="#d0021b"/>
<circle cx="78.92" cy="301.24" r="1.05" fill="#d0021b"/>
<circle cx="77.97" cy="295.01" r="1.05" fill="#d0021b"/>
<circle cx="86.08" cy="307.40" r="1.05" fill="#d0021b"/>
<circle cx="85.40" cy="307.25" r="1.05" fill="#d0021b"/>
<circle cx="85.26" cy="307.22" r="1.05" fill="#d0021b"/>
<circle cx="85.99" cy="307.21" r="1.05" fill="#d0021b"/>
<circle cx="85.05" cy="307.07" r="1.05" fill="#d0021b"/>
<circle cx="87.42" cy="306.94" r="1.05" fill="#d0021b"/>
<circle cx="86.69" cy="306.72" r="1.05" fill="#d0021b"/>
<circle cx="85.39" cy="306.52" r="1.05" fill="#d0021b"/>
<circle cx="85.68" cy="305.83" r="1.05" fill="#d0021b"/>
<circle cx="85.95" cy="305.06" r="1.05" fill="#d0021b"/>
<circle cx="85.99" cy="304.40" r="1.05" fill="#d0021b"/>
<circle cx="85.32" cy="303.64" r="1.05" fill="#d0021b"/>
<circle cx="87.35" cy="301.82" r="1.05" fill="#d0021b"/>
<circle cx="86.67" cy="292.21" r="1.05" fill="#d0021b"/>
<circle cx="94.74" cy="307.40" r="1.05" fill="#d0021b"/>
<circle cx="95.07" cy="307.26" r="1.05" fill="#d0021b"/>
<circle cx="93.63" cy="307.22" r="1.05" fill="#d0021b"/>
<circle cx="95.03" cy="307.21" r="1.05" fill="#d0021b"/>
<circle cx="96.29" cy="307.05" r="1.05" fill="#d0021b"/>
<circle cx="95.97" cy="306.85" r="1.05" fill="#d0021b"/>
<circle cx="95.50" cy="306.68" r="1.05" fill="#d0021b"/>
<circle cx="94.28" cy="304.19" r="1.05" fill="#d0021b"/>
<circle cx="94.58" cy="303.12" r="1.05" fill="#d0021b"/>
<circle cx="94.02" cy="301.30" r="1.05" fill="#d0021b"/>
<circle cx="95.71" cy="297.65" r="1.05" fill="#d0021b"/>
<circle cx="95.04" cy="292.54" r="1.05" fill="#d0021b"/>
<circle cx="95.12" cy="271.24" r="1.05" fill="#d0021b"/>
<circle cx="103.24" cy="307.40" r="1.05" fill="#d0021b"/>
<circle cx="102.20" cy="307.20" r="1.05" fill="#d0021b"/>
<circle cx="102.91" cy="307.14" r="1.05" fill="#d0021b"/>
<circle cx="102.85" cy="306.96" r="1.05" fill="#d0021b"/>
<circle cx="104.06" cy="306.57" r="1.05" fill="#d0021b"/>
<circle cx="104.80" cy="306.26" r="1.05" fill="#d0021b"/>
<circle cx="103.38" cy="305.55" r="1.05" fill="#d0021b"/>
<circle cx="104.75" cy="303.44" r="1.05" fill="#d0021b"/>
<circle cx="104.89" cy="301.46" r="1.05" fill="#d0021b"/>
<circle cx="104.80" cy="300.12" r="1.05" fill="#d0021b"/>
<circle cx="103.15" cy="298.53" r="1.05" fill="#d0021b"/>
<circle cx="102.74" cy="295.55" r="1.05" fill="#d0021b"/>
<circle cx="103.36" cy="282.98" r="1.05" fill="#d0021b"/>
<circle cx="112.27" cy="307.40" r="1.05" fill="#d0021b"/>
<circle cx="112.80" cy="307.09" r="1.05" fill="#d0021b"/>
<circle cx="112.04" cy="306.97" r="1.05" fill="#d0021b"/>
<circle cx="111.20" cy="306.79" r="1.05" fill="#d0021b"/>
<circle cx="112.91" cy="306.28" r="1.05" fill="#d0021b"/>
<circle cx="111.63" cy="305.86" r="1.05" fill="#d0021b"/>
<circle cx="112.94" cy="305.54" r="1.05" fill="#d0021b"/>
<circle cx="113.42" cy="303.00" r="1.05" fill="#d0021b"/>
<circle cx="111.81" cy="300.47" r="1.05" fill="#d0021b"/>
<circle cx="111.82" cy="299.32" r="1.05" fill="#d0021b"/>
<circle cx="113.35" cy="297.29" r="1.05" fill="#d0021b"/>
<circle cx="112.73" cy="292.85" r="1.05" fill="#d0021b"/>
<circle cx="111.90" cy="283.45" r="1.05" fill="#d0021b"/>
<circle cx="120.45" cy="307.40" r="1.05" fill="#d0021b"/>
<circle cx="119.31" cy="306.76" r="1.05" fill="#d0021b"/>
<circle cx="121.99" cy="306.51" r="1.05" fill="#d0021b"/>
<circle cx="121.09" cy="303.96" r="1.05" fill="#d0021b"/>
<circle cx="120.75" cy="300.98" r="1.05" fill="#d0021b"/>
<circle cx="121.89" cy="299.26" r="1.05" fill="#d0021b"/>
<circle cx="120.49" cy="293.32" r="1.05" fill="#d0021b"/>
<circle cx="121.72" cy="287.91" r="1.05" fill="#d0021b"/>
<circle cx="121.59" cy="284.14" r="1.05" fill="#d0021b"/>
<circle cx="119.87" cy="281.83" r="1.05" fill="#d0021b"/>
<circle cx="119.98" cy="274.18" r="1.05" fill="#d0021b"/>
<circle cx="120.55" cy="247.01" r="1.05" fill="#d0021b"/>
<circle cx="129.50" cy="307.40" r="1.05" fill="#d0021b"/>
<circle cx="128.84" cy="306.51" r="1.05" fill="#d0021b"/>
<circle cx="129.13" cy="304.57" r="1.05" fill="#d0021b"/>
<circle cx="129.48" cy="302.76" r="1.05" fill="#d0021b"/>
<circle cx="130.38" cy="272.28" r="1.05" fill="#d0021b"/>
<circle cx="129.03" cy="246.81" r="1.05" fill="#d0021b"/>
<circle cx="129.50" cy="240.30" r="1.05" fill="#d0021b"/>
<circle cx="137.79" cy="307.40" r="1.05" fill="#d0021b"/>
<circle cx="136.94" cy="306.45" r="1.05" fill="#d0021b"/>
<circle cx="136.44" cy="288.49" r="1.05" fill="#d0021b"/>
<circle cx="138.66" cy="266.71" r="1.05" fill="#d0021b"/>
<circle cx="136.91" cy="249.96" r="1.05" fill="#d0021b"/>
<circle cx="137.81" cy="232.01" r="1.05" fill="#d0021b"/>
<circle cx="146.30" cy="305.54" r="1.05" fill="#d0021b"/>
<circle cx="146.45" cy="292.73" r="1.05" fill="#d0021b"/>
<circle cx="146.56" cy="272.01" r="1.05" fill="#d0021b"/>
<circle cx="146.57" cy="253.91" r="1.05" fill="#d0021b"/>
<line x1="37.0" y1="307.40" x2="151.90" y2="307.40" stroke="#000" stroke-width="1.1"/>
<line x1="43.50" y1="307.40" x2="43.50" y2="311.00" stroke="#000" stroke-width="0.9"/>
<line x1="52.08" y1="307.40" x2="52.08" y2="311.00" stroke="#000" stroke-width="0.9"/>
<line x1="60.65" y1="307.40" x2="60.65" y2="311.00" stroke="#000" stroke-width="0.9"/>
<line x1="69.22" y1="307.40" x2="69.22" y2="311.00" stroke="#000" stroke-width="0.9"/>
<line x1="77.80" y1="307.40" x2="77.80" y2="311.00" stroke="#000" stroke-width="0.9"/>
<line x1="86.38" y1="307.40" x2="86.38" y2="311.00" stroke="#000" stroke-width="0.9"/>
<line x1="94.95" y1="307.40" x2="94.95" y2="311.00" stroke="#000" stroke-width="0.9"/>
<line x1="103.52" y1="307.40" x2="103.52" y2="311.00" stroke="#000" stroke-width="0.9"/>
<line x1="112.10" y1="307.40" x2="112.10" y2="311.00" stroke="#000" stroke-width="0.9"/>
<line x1="120.67" y1="307.40" x2="120.67" y2="311.00" stroke="#000" stroke-width="0.9"/>
<line x1="129.25" y1="307.40" x2="129.25" y2="311.00" stroke="#000" stroke-width="0.9"/>
<line x1="137.82" y1="307.40" x2="137.82" y2="311.00" stroke="#000" stroke-width="0.9"/>
<line x1="146.40" y1="307.40" x2="146.40" y2="311.00" stroke="#000" stroke-width="0.9"/>
<line x1="37.5" y1="209.40" x2="37.5" y2="307.90" stroke="#000" stroke-width="1.1"/>
<line x1="34.0" y1="307.40" x2="37.5" y2="307.40" stroke="#000" stroke-width="0.9"/>
<text x="31.50" y="310.00" font-size="7.4" text-anchor="end" fill="#1a1a1a" stroke="#1a1a1a" stroke-width="0.15">0</text>
<line x1="35.5" y1="303.60" x2="37.5" y2="303.60" stroke="#000" stroke-width="0.7"/>
<line x1="35.5" y1="299.80" x2="37.5" y2="299.80" stroke="#000" stroke-width="0.7"/>
<line x1="35.5" y1="296.00" x2="37.5" y2="296.00" stroke="#000" stroke-width="0.7"/>
<line x1="35.5" y1="292.20" x2="37.5" y2="292.20" stroke="#000" stroke-width="0.7"/>
<line x1="34.0" y1="288.40" x2="37.5" y2="288.40" stroke="#000" stroke-width="0.9"/>
<text x="31.50" y="291.00" font-size="7.4" text-anchor="end" fill="#1a1a1a" stroke="#1a1a1a" stroke-width="0.15">20</text>
<line x1="35.5" y1="284.60" x2="37.5" y2="284.60" stroke="#000" stroke-width="0.7"/>
<line x1="35.5" y1="280.80" x2="37.5" y2="280.80" stroke="#000" stroke-width="0.7"/>
<line x1="35.5" y1="277.00" x2="37.5" y2="277.00" stroke="#000" stroke-width="0.7"/>
<line x1="35.5" y1="273.20" x2="37.5" y2="273.20" stroke="#000" stroke-width="0.7"/>
<line x1="34.0" y1="269.40" x2="37.5" y2="269.40" stroke="#000" stroke-width="0.9"/>
<text x="31.50" y="272.00" font-size="7.4" text-anchor="end" fill="#1a1a1a" stroke="#1a1a1a" stroke-width="0.15">40</text>
<line x1="35.5" y1="265.60" x2="37.5" y2="265.60" stroke="#000" stroke-width="0.7"/>
<line x1="35.5" y1="261.80" x2="37.5" y2="261.80" stroke="#000" stroke-width="0.7"/>
<line x1="35.5" y1="258.00" x2="37.5" y2="258.00" stroke="#000" stroke-width="0.7"/>
<line x1="35.5" y1="254.20" x2="37.5" y2="254.20" stroke="#000" stroke-width="0.7"/>
<line x1="34.0" y1="250.40" x2="37.5" y2="250.40" stroke="#000" stroke-width="0.9"/>
<text x="31.50" y="253.00" font-size="7.4" text-anchor="end" fill="#1a1a1a" stroke="#1a1a1a" stroke-width="0.15">60</text>
<line x1="35.5" y1="246.60" x2="37.5" y2="246.60" stroke="#000" stroke-width="0.7"/>
<line x1="35.5" y1="242.80" x2="37.5" y2="242.80" stroke="#000" stroke-width="0.7"/>
<line x1="35.5" y1="239.00" x2="37.5" y2="239.00" stroke="#000" stroke-width="0.7"/>
<line x1="35.5" y1="235.20" x2="37.5" y2="235.20" stroke="#000" stroke-width="0.7"/>
<line x1="34.0" y1="231.40" x2="37.5" y2="231.40" stroke="#000" stroke-width="0.9"/>
<text x="31.50" y="234.00" font-size="7.4" text-anchor="end" fill="#1a1a1a" stroke="#1a1a1a" stroke-width="0.15">80</text>
<line x1="35.5" y1="227.60" x2="37.5" y2="227.60" stroke="#000" stroke-width="0.7"/>
<line x1="35.5" y1="223.80" x2="37.5" y2="223.80" stroke="#000" stroke-width="0.7"/>
<line x1="35.5" y1="220.00" x2="37.5" y2="220.00" stroke="#000" stroke-width="0.7"/>
<line x1="35.5" y1="216.20" x2="37.5" y2="216.20" stroke="#000" stroke-width="0.7"/>
<line x1="34.0" y1="212.40" x2="37.5" y2="212.40" stroke="#000" stroke-width="0.9"/>
<text x="31.50" y="215.00" font-size="7.4" text-anchor="end" fill="#1a1a1a" stroke="#1a1a1a" stroke-width="0.15">100</text>
<text transform="translate(17.90,258.1) rotate(-90)" text-anchor="middle" font-size="9.4" font-weight="bold" textLength="50.6" lengthAdjust="spacingAndGlyphs" fill="#1a1a1a">% of CD8<tspan baseline-shift="2.2" font-size="6.4">+</tspan> T cells</text>
<text transform="translate(45.40,318.70) rotate(-45)" text-anchor="end" font-size="6.8" font-weight="bold" textLength="18.51" lengthAdjust="spacingAndGlyphs" fill="#1a1a1a" stroke="#1a1a1a" stroke-width="0.2">Donor 00</text>
<text transform="translate(53.98,318.70) rotate(-45)" text-anchor="end" font-size="6.8" font-weight="bold" textLength="37.26" lengthAdjust="spacingAndGlyphs" fill="#1a1a1a" stroke="#1a1a1a" stroke-width="0.2">Recipient pre-HCT</text>
<text transform="translate(62.55,318.70) rotate(-45)" text-anchor="end" font-size="6.8" font-weight="bold" textLength="14.39" lengthAdjust="spacingAndGlyphs" fill="#1a1a1a" stroke="#1a1a1a" stroke-width="0.2">Day +3</text>
<text transform="translate(71.12,318.70) rotate(-45)" text-anchor="end" font-size="6.8" font-weight="bold" textLength="14.39" lengthAdjust="spacingAndGlyphs" fill="#1a1a1a" stroke="#1a1a1a" stroke-width="0.2">Day +7</text>
<text transform="translate(79.70,318.70) rotate(-45)" text-anchor="end" font-size="6.8" font-weight="bold" textLength="16.89" lengthAdjust="spacingAndGlyphs" fill="#1a1a1a" stroke="#1a1a1a" stroke-width="0.2">Day +14</text>
<text transform="translate(88.28,318.70) rotate(-45)" text-anchor="end" font-size="6.8" font-weight="bold" textLength="16.89" lengthAdjust="spacingAndGlyphs" fill="#1a1a1a" stroke="#1a1a1a" stroke-width="0.2">Day +28</text>
<text transform="translate(96.85,318.70) rotate(-45)" text-anchor="end" font-size="6.8" font-weight="bold" textLength="16.89" lengthAdjust="spacingAndGlyphs" fill="#1a1a1a" stroke="#1a1a1a" stroke-width="0.2">Day +60</text>
<text transform="translate(105.42,318.70) rotate(-45)" text-anchor="end" font-size="6.8" font-weight="bold" textLength="19.39" lengthAdjust="spacingAndGlyphs" fill="#1a1a1a" stroke="#1a1a1a" stroke-width="0.2">Day +100</text>
<text transform="translate(114.00,318.70) rotate(-45)" text-anchor="end" font-size="6.8" font-weight="bold" textLength="19.39" lengthAdjust="spacingAndGlyphs" fill="#1a1a1a" stroke="#1a1a1a" stroke-width="0.2">Day +180</text>
<text transform="translate(122.58,318.70) rotate(-45)" text-anchor="end" font-size="6.8" font-weight="bold" textLength="12.51" lengthAdjust="spacingAndGlyphs" fill="#1a1a1a" stroke="#1a1a1a" stroke-width="0.2">1 year</text>
<text transform="translate(131.15,318.70) rotate(-45)" text-anchor="end" font-size="6.8" font-weight="bold" textLength="18.51" lengthAdjust="spacingAndGlyphs" fill="#1a1a1a" stroke="#1a1a1a" stroke-width="0.2">1.5 years</text>
<text transform="translate(139.72,318.70) rotate(-45)" text-anchor="end" font-size="6.8" font-weight="bold" textLength="14.76" lengthAdjust="spacingAndGlyphs" fill="#1a1a1a" stroke="#1a1a1a" stroke-width="0.2">2 years</text>
<text transform="translate(148.30,318.70) rotate(-45)" text-anchor="end" font-size="6.8" font-weight="bold" textLength="14.76" lengthAdjust="spacingAndGlyphs" fill="#1a1a1a" stroke="#1a1a1a" stroke-width="0.2">3 years</text>
<line x1="217.00" y1="303.11" x2="217.00" y2="307.40" stroke="#474747" stroke-width="1.4"/>
<line x1="215.00" y1="303.11" x2="219.00" y2="303.11" stroke="#222" stroke-width="1"/>
<line x1="215.00" y1="307.40" x2="219.00" y2="307.40" stroke="#222" stroke-width="1"/>
<line x1="225.53" y1="293.89" x2="225.53" y2="307.40" stroke="#474747" stroke-width="1.4"/>
<line x1="223.53" y1="293.89" x2="227.53" y2="293.89" stroke="#222" stroke-width="1"/>
<line x1="223.53" y1="307.40" x2="227.53" y2="307.40" stroke="#222" stroke-width="1"/>
<line x1="234.06" y1="295.47" x2="234.06" y2="307.40" stroke="#474747" stroke-width="1.4"/>
<line x1="232.06" y1="295.47" x2="236.06" y2="295.47" stroke="#222" stroke-width="1"/>
<line x1="232.06" y1="307.40" x2="236.06" y2="307.40" stroke="#222" stroke-width="1"/>
<line x1="242.59" y1="230.05" x2="242.59" y2="307.40" stroke="#474747" stroke-width="1.4"/>
<line x1="240.59" y1="230.05" x2="244.59" y2="230.05" stroke="#222" stroke-width="1"/>
<line x1="240.59" y1="307.40" x2="244.59" y2="307.40" stroke="#222" stroke-width="1"/>
<line x1="251.12" y1="243.84" x2="251.12" y2="307.40" stroke="#474747" stroke-width="1.4"/>
<line x1="249.12" y1="243.84" x2="253.12" y2="243.84" stroke="#222" stroke-width="1"/>
<line x1="249.12" y1="307.40" x2="253.12" y2="307.40" stroke="#222" stroke-width="1"/>
<line x1="259.65" y1="268.44" x2="259.65" y2="307.40" stroke="#474747" stroke-width="1.4"/>
<line x1="257.65" y1="268.44" x2="261.65" y2="268.44" stroke="#222" stroke-width="1"/>
<line x1="257.65" y1="307.40" x2="261.65" y2="307.40" stroke="#222" stroke-width="1"/>
<line x1="268.18" y1="293.89" x2="268.18" y2="307.40" stroke="#474747" stroke-width="1.4"/>
<line x1="266.18" y1="293.89" x2="270.18" y2="293.89" stroke="#222" stroke-width="1"/>
<line x1="266.18" y1="307.40" x2="270.18" y2="307.40" stroke="#222" stroke-width="1"/>
<line x1="276.71" y1="299.66" x2="276.71" y2="307.40" stroke="#474747" stroke-width="1.4"/>
<line x1="274.71" y1="299.66" x2="278.71" y2="299.66" stroke="#222" stroke-width="1"/>
<line x1="274.71" y1="307.40" x2="278.71" y2="307.40" stroke="#222" stroke-width="1"/>
<line x1="285.24" y1="292.68" x2="285.24" y2="307.40" stroke="#474747" stroke-width="1.4"/>
<line x1="283.24" y1="292.68" x2="287.24" y2="292.68" stroke="#222" stroke-width="1"/>
<line x1="283.24" y1="307.40" x2="287.24" y2="307.40" stroke="#222" stroke-width="1"/>
<line x1="293.77" y1="294.35" x2="293.77" y2="307.40" stroke="#474747" stroke-width="1.4"/>
<line x1="291.77" y1="294.35" x2="295.77" y2="294.35" stroke="#222" stroke-width="1"/>
<line x1="291.77" y1="307.40" x2="295.77" y2="307.40" stroke="#222" stroke-width="1"/>
<line x1="302.30" y1="292.68" x2="302.30" y2="307.40" stroke="#474747" stroke-width="1.4"/>
<line x1="300.30" y1="292.68" x2="304.30" y2="292.68" stroke="#222" stroke-width="1"/>
<line x1="300.30" y1="307.40" x2="304.30" y2="307.40" stroke="#222" stroke-width="1"/>
<line x1="310.83" y1="296.22" x2="310.83" y2="306.47" stroke="#474747" stroke-width="1.4"/>
<line x1="308.83" y1="296.22" x2="312.83" y2="296.22" stroke="#222" stroke-width="1"/>
<line x1="308.83" y1="306.47" x2="312.83" y2="306.47" stroke="#222" stroke-width="1"/>
<line x1="319.36" y1="292.68" x2="319.36" y2="307.40" stroke="#474747" stroke-width="1.4"/>
<line x1="317.36" y1="292.68" x2="321.36" y2="292.68" stroke="#222" stroke-width="1"/>
<line x1="317.36" y1="307.40" x2="321.36" y2="307.40" stroke="#222" stroke-width="1"/>
<rect x="214.10" y="305.54" width="5.8" height="1.58" fill="#e693a6"/>
<rect x="222.63" y="304.23" width="5.8" height="2.89" fill="#e693a6"/>
<rect x="231.16" y="299.66" width="5.8" height="6.80" fill="#e693a6"/>
<rect x="239.69" y="283.45" width="5.8" height="23.02" fill="#e693a6"/>
<rect x="248.22" y="285.78" width="5.8" height="17.33" fill="#e693a6"/>
<rect x="256.75" y="293.89" width="5.8" height="12.58" fill="#e693a6"/>
<rect x="265.28" y="303.77" width="5.8" height="3.45" fill="#e693a6"/>
<rect x="273.81" y="301.90" width="5.8" height="5.03" fill="#e693a6"/>
<rect x="282.34" y="300.13" width="5.8" height="6.80" fill="#e693a6"/>
<rect x="290.87" y="297.33" width="5.8" height="8.48" fill="#e693a6"/>
<rect x="299.40" y="295.01" width="5.8" height="10.81" fill="#e693a6"/>
<rect x="307.93" y="299.66" width="5.8" height="5.22" fill="#e693a6"/>
<rect x="316.46" y="295.47" width="5.8" height="10.34" fill="#e693a6"/>
<line x1="214.10" y1="306.47" x2="219.90" y2="306.47" stroke="#111" stroke-width="1.3"/>
<line x1="222.63" y1="305.82" x2="228.43" y2="305.82" stroke="#111" stroke-width="1.3"/>
<line x1="231.16" y1="303.77" x2="236.96" y2="303.77" stroke="#111" stroke-width="1.3"/>
<line x1="239.69" y1="299.20" x2="245.49" y2="299.20" stroke="#111" stroke-width="1.3"/>
<line x1="248.22" y1="297.80" x2="254.02" y2="297.80" stroke="#111" stroke-width="1.3"/>
<line x1="256.75" y1="303.11" x2="262.55" y2="303.11" stroke="#111" stroke-width="1.3"/>
<line x1="265.28" y1="306.65" x2="271.08" y2="306.65" stroke="#111" stroke-width="1.3"/>
<line x1="273.81" y1="306.00" x2="279.61" y2="306.00" stroke="#111" stroke-width="1.3"/>
<line x1="282.34" y1="305.54" x2="288.14" y2="305.54" stroke="#111" stroke-width="1.3"/>
<line x1="290.87" y1="301.44" x2="296.67" y2="301.44" stroke="#111" stroke-width="1.3"/>
<line x1="299.40" y1="303.11" x2="305.20" y2="303.11" stroke="#111" stroke-width="1.3"/>
<line x1="307.93" y1="301.44" x2="313.73" y2="301.44" stroke="#111" stroke-width="1.3"/>
<line x1="316.46" y1="303.11" x2="322.26" y2="303.11" stroke="#111" stroke-width="1.3"/>
<circle cx="217.07" cy="307.40" r="1.05" fill="#d0021b"/>
<circle cx="217.02" cy="307.21" r="1.05" fill="#d0021b"/>
<circle cx="217.03" cy="307.12" r="1.05" fill="#d0021b"/>
<circle cx="217.54" cy="307.05" r="1.05" fill="#d0021b"/>
<circle cx="216.87" cy="306.83" r="1.05" fill="#d0021b"/>
<circle cx="217.09" cy="306.54" r="1.05" fill="#d0021b"/>
<circle cx="216.94" cy="306.31" r="1.05" fill="#d0021b"/>
<circle cx="218.24" cy="305.99" r="1.05" fill="#d0021b"/>
<circle cx="217.56" cy="305.63" r="1.05" fill="#d0021b"/>
<circle cx="218.05" cy="305.41" r="1.05" fill="#d0021b"/>
<circle cx="218.24" cy="305.04" r="1.05" fill="#d0021b"/>
<circle cx="216.86" cy="303.11" r="1.05" fill="#d0021b"/>
<circle cx="225.77" cy="307.40" r="1.05" fill="#d0021b"/>
<circle cx="224.56" cy="307.19" r="1.05" fill="#d0021b"/>
<circle cx="226.14" cy="307.12" r="1.05" fill="#d0021b"/>
<circle cx="225.98" cy="306.92" r="1.05" fill="#d0021b"/>
<circle cx="224.53" cy="306.72" r="1.05" fill="#d0021b"/>
<circle cx="226.60" cy="306.32" r="1.05" fill="#d0021b"/>
<circle cx="226.84" cy="305.83" r="1.05" fill="#d0021b"/>
<circle cx="224.74" cy="305.47" r="1.05" fill="#d0021b"/>
<circle cx="226.80" cy="304.93" r="1.05" fill="#d0021b"/>
<circle cx="225.25" cy="304.50" r="1.05" fill="#d0021b"/>
<circle cx="225.49" cy="303.66" r="1.05" fill="#d0021b"/>
<circle cx="226.90" cy="300.87" r="1.05" fill="#d0021b"/>
<circle cx="225.73" cy="293.89" r="1.05" fill="#d0021b"/>
<circle cx="233.77" cy="307.40" r="1.05" fill="#d0021b"/>
<circle cx="233.59" cy="306.75" r="1.05" fill="#d0021b"/>
<circle cx="234.41" cy="306.49" r="1.05" fill="#d0021b"/>
<circle cx="234.09" cy="306.01" r="1.05" fill="#d0021b"/>
<circle cx="232.84" cy="305.22" r="1.05" fill="#d0021b"/>
<circle cx="235.42" cy="304.41" r="1.05" fill="#d0021b"/>
<circle cx="234.87" cy="303.26" r="1.05" fill="#d0021b"/>
<circle cx="235.38" cy="301.50" r="1.05" fill="#d0021b"/>
<circle cx="232.95" cy="300.81" r="1.05" fill="#d0021b"/>
<circle cx="233.40" cy="299.57" r="1.05" fill="#d0021b"/>
<circle cx="232.77" cy="298.81" r="1.05" fill="#d0021b"/>
<circle cx="234.23" cy="295.47" r="1.05" fill="#d0021b"/>
<circle cx="242.32" cy="307.40" r="1.05" fill="#d0021b"/>
<circle cx="243.12" cy="306.76" r="1.05" fill="#d0021b"/>
<circle cx="242.38" cy="306.54" r="1.05" fill="#d0021b"/>
<circle cx="241.39" cy="306.03" r="1.05" fill="#d0021b"/>
<circle cx="243.82" cy="303.03" r="1.05" fill="#d0021b"/>
<circle cx="242.97" cy="300.94" r="1.05" fill="#d0021b"/>
<circle cx="243.43" cy="299.58" r="1.05" fill="#d0021b"/>
<circle cx="241.42" cy="295.54" r="1.05" fill="#d0021b"/>
<circle cx="243.59" cy="288.08" r="1.05" fill="#d0021b"/>
<circle cx="241.38" cy="284.42" r="1.05" fill="#d0021b"/>
<circle cx="243.61" cy="280.36" r="1.05" fill="#d0021b"/>
<circle cx="242.46" cy="274.23" r="1.05" fill="#d0021b"/>
<circle cx="242.49" cy="230.05" r="1.05" fill="#d0021b"/>
<circle cx="251.28" cy="307.40" r="1.05" fill="#d0021b"/>
<circle cx="250.53" cy="304.31" r="1.05" fill="#d0021b"/>
<circle cx="251.12" cy="303.24" r="1.05" fill="#d0021b"/>
<circle cx="250.22" cy="303.12" r="1.05" fill="#d0021b"/>
<circle cx="250.69" cy="301.99" r="1.05" fill="#d0021b"/>
<circle cx="249.77" cy="300.05" r="1.05" fill="#d0021b"/>
<circle cx="250.42" cy="298.84" r="1.05" fill="#d0021b"/>
<circle cx="249.76" cy="297.02" r="1.05" fill="#d0021b"/>
<circle cx="251.77" cy="293.46" r="1.05" fill="#d0021b"/>
<circle cx="251.26" cy="290.29" r="1.05" fill="#d0021b"/>
<circle cx="250.25" cy="286.50" r="1.05" fill="#d0021b"/>
<circle cx="251.05" cy="283.83" r="1.05" fill="#d0021b"/>
<circle cx="252.34" cy="275.30" r="1.05" fill="#d0021b"/>
<circle cx="250.88" cy="243.84" r="1.05" fill="#d0021b"/>
<circle cx="259.59" cy="307.40" r="1.05" fill="#d0021b"/>
<circle cx="259.22" cy="306.68" r="1.05" fill="#d0021b"/>
<circle cx="258.40" cy="306.53" r="1.05" fill="#d0021b"/>
<circle cx="258.61" cy="306.47" r="1.05" fill="#d0021b"/>
<circle cx="258.45" cy="305.28" r="1.05" fill="#d0021b"/>
<circle cx="260.32" cy="304.62" r="1.05" fill="#d0021b"/>
<circle cx="258.97" cy="303.59" r="1.05" fill="#d0021b"/>
<circle cx="258.71" cy="301.45" r="1.05" fill="#d0021b"/>
<circle cx="258.49" cy="298.27" r="1.05" fill="#d0021b"/>
<circle cx="260.61" cy="296.81" r="1.05" fill="#d0021b"/>
<circle cx="260.69" cy="293.82" r="1.05" fill="#d0021b"/>
<circle cx="260.13" cy="291.71" r="1.05" fill="#d0021b"/>
<circle cx="259.04" cy="285.66" r="1.05" fill="#d0021b"/>
<circle cx="259.50" cy="268.44" r="1.05" fill="#d0021b"/>
<circle cx="268.09" cy="307.40" r="1.05" fill="#d0021b"/>
<circle cx="266.78" cy="307.27" r="1.05" fill="#d0021b"/>
<circle cx="267.85" cy="307.22" r="1.05" fill="#d0021b"/>
<circle cx="268.11" cy="307.21" r="1.05" fill="#d0021b"/>
<circle cx="268.19" cy="307.01" r="1.05" fill="#d0021b"/>
<circle cx="267.34" cy="306.86" r="1.05" fill="#d0021b"/>
<circle cx="268.19" cy="306.37" r="1.05" fill="#d0021b"/>
<circle cx="266.79" cy="305.47" r="1.05" fill="#d0021b"/>
<circle cx="267.52" cy="304.85" r="1.05" fill="#d0021b"/>
<circle cx="267.03" cy="304.15" r="1.05" fill="#d0021b"/>
<circle cx="267.90" cy="302.90" r="1.05" fill="#d0021b"/>
<circle cx="266.90" cy="301.64" r="1.05" fill="#d0021b"/>
<circle cx="267.89" cy="293.89" r="1.05" fill="#d0021b"/>
<circle cx="276.50" cy="307.40" r="1.05" fill="#d0021b"/>
<circle cx="277.34" cy="307.07" r="1.05" fill="#d0021b"/>
<circle cx="277.11" cy="306.96" r="1.05" fill="#d0021b"/>
<circle cx="275.43" cy="306.85" r="1.05" fill="#d0021b"/>
<circle cx="277.65" cy="306.57" r="1.05" fill="#d0021b"/>
<circle cx="277.81" cy="306.24" r="1.05" fill="#d0021b"/>
<circle cx="277.07" cy="305.86" r="1.05" fill="#d0021b"/>
<circle cx="277.36" cy="304.55" r="1.05" fill="#d0021b"/>
<circle cx="277.58" cy="303.14" r="1.05" fill="#d0021b"/>
<circle cx="275.70" cy="302.31" r="1.05" fill="#d0021b"/>
<circle cx="276.78" cy="301.84" r="1.05" fill="#d0021b"/>
<circle cx="276.72" cy="301.06" r="1.05" fill="#d0021b"/>
<circle cx="276.91" cy="299.66" r="1.05" fill="#d0021b"/>
<circle cx="285.44" cy="307.40" r="1.05" fill="#d0021b"/>
<circle cx="285.40" cy="307.02" r="1.05" fill="#d0021b"/>
<circle cx="285.60" cy="306.94" r="1.05" fill="#d0021b"/>
<circle cx="285.59" cy="306.80" r="1.05" fill="#d0021b"/>
<circle cx="285.75" cy="306.28" r="1.05" fill="#d0021b"/>
<circle cx="285.21" cy="305.91" r="1.05" fill="#d0021b"/>
<circle cx="283.85" cy="305.31" r="1.05" fill="#d0021b"/>
<circle cx="286.07" cy="304.19" r="1.05" fill="#d0021b"/>
<circle cx="285.94" cy="302.76" r="1.05" fill="#d0021b"/>
<circle cx="285.25" cy="300.97" r="1.05" fill="#d0021b"/>
<circle cx="285.34" cy="299.91" r="1.05" fill="#d0021b"/>
<circle cx="285.69" cy="298.82" r="1.05" fill="#d0021b"/>
<circle cx="284.98" cy="292.68" r="1.05" fill="#d0021b"/>
<circle cx="293.76" cy="307.40" r="1.05" fill="#d0021b"/>
<circle cx="294.28" cy="306.08" r="1.05" fill="#d0021b"/>
<circle cx="294.52" cy="305.87" r="1.05" fill="#d0021b"/>
<circle cx="294.10" cy="305.52" r="1.05" fill="#d0021b"/>
<circle cx="294.17" cy="303.87" r="1.05" fill="#d0021b"/>
<circle cx="292.59" cy="301.93" r="1.05" fill="#d0021b"/>
<circle cx="292.78" cy="301.03" r="1.05" fill="#d0021b"/>
<circle cx="293.08" cy="299.16" r="1.05" fill="#d0021b"/>
<circle cx="294.45" cy="297.56" r="1.05" fill="#d0021b"/>
<circle cx="293.22" cy="297.28" r="1.05" fill="#d0021b"/>
<circle cx="293.96" cy="296.76" r="1.05" fill="#d0021b"/>
<circle cx="293.48" cy="294.35" r="1.05" fill="#d0021b"/>
<circle cx="302.17" cy="307.40" r="1.05" fill="#d0021b"/>
<circle cx="302.35" cy="305.94" r="1.05" fill="#d0021b"/>
<circle cx="302.20" cy="304.91" r="1.05" fill="#d0021b"/>
<circle cx="302.21" cy="302.56" r="1.05" fill="#d0021b"/>
<circle cx="301.23" cy="297.86" r="1.05" fill="#d0021b"/>
<circle cx="303.40" cy="294.93" r="1.05" fill="#d0021b"/>
<circle cx="302.12" cy="292.68" r="1.05" fill="#d0021b"/>
<circle cx="311.02" cy="306.47" r="1.05" fill="#d0021b"/>
<circle cx="312.14" cy="304.11" r="1.05" fill="#d0021b"/>
<circle cx="310.69" cy="301.88" r="1.05" fill="#d0021b"/>
<circle cx="310.18" cy="301.24" r="1.05" fill="#d0021b"/>
<circle cx="310.02" cy="299.70" r="1.05" fill="#d0021b"/>
<circle cx="311.10" cy="296.22" r="1.05" fill="#d0021b"/>
<circle cx="319.15" cy="307.40" r="1.05" fill="#d0021b"/>
<circle cx="319.43" cy="305.01" r="1.05" fill="#d0021b"/>
<circle cx="320.63" cy="298.86" r="1.05" fill="#d0021b"/>
<circle cx="319.14" cy="292.68" r="1.05" fill="#d0021b"/>
<line x1="210.7" y1="307.40" x2="324.86" y2="307.40" stroke="#000" stroke-width="1.1"/>
<line x1="217.00" y1="307.40" x2="217.00" y2="311.00" stroke="#000" stroke-width="0.9"/>
<line x1="225.53" y1="307.40" x2="225.53" y2="311.00" stroke="#000" stroke-width="0.9"/>
<line x1="234.06" y1="307.40" x2="234.06" y2="311.00" stroke="#000" stroke-width="0.9"/>
<line x1="242.59" y1="307.40" x2="242.59" y2="311.00" stroke="#000" stroke-width="0.9"/>
<line x1="251.12" y1="307.40" x2="251.12" y2="311.00" stroke="#000" stroke-width="0.9"/>
<line x1="259.65" y1="307.40" x2="259.65" y2="311.00" stroke="#000" stroke-width="0.9"/>
<line x1="268.18" y1="307.40" x2="268.18" y2="311.00" stroke="#000" stroke-width="0.9"/>
<line x1="276.71" y1="307.40" x2="276.71" y2="311.00" stroke="#000" stroke-width="0.9"/>
<line x1="285.24" y1="307.40" x2="285.24" y2="311.00" stroke="#000" stroke-width="0.9"/>
<line x1="293.77" y1="307.40" x2="293.77" y2="311.00" stroke="#000" stroke-width="0.9"/>
<line x1="302.30" y1="307.40" x2="302.30" y2="311.00" stroke="#000" stroke-width="0.9"/>
<line x1="310.83" y1="307.40" x2="310.83" y2="311.00" stroke="#000" stroke-width="0.9"/>
<line x1="319.36" y1="307.40" x2="319.36" y2="311.00" stroke="#000" stroke-width="0.9"/>
<line x1="211.2" y1="209.40" x2="211.2" y2="307.90" stroke="#000" stroke-width="1.1"/>
<line x1="207.7" y1="307.40" x2="211.2" y2="307.40" stroke="#000" stroke-width="0.9"/>
<text x="205.20" y="310.00" font-size="7.4" text-anchor="end" fill="#1a1a1a" stroke="#1a1a1a" stroke-width="0.15">0</text>
<line x1="209.2" y1="303.60" x2="211.2" y2="303.60" stroke="#000" stroke-width="0.7"/>
<line x1="209.2" y1="299.80" x2="211.2" y2="299.80" stroke="#000" stroke-width="0.7"/>
<line x1="209.2" y1="296.00" x2="211.2" y2="296.00" stroke="#000" stroke-width="0.7"/>
<line x1="209.2" y1="292.20" x2="211.2" y2="292.20" stroke="#000" stroke-width="0.7"/>
<line x1="207.7" y1="288.40" x2="211.2" y2="288.40" stroke="#000" stroke-width="0.9"/>
<text x="205.20" y="291.00" font-size="7.4" text-anchor="end" fill="#1a1a1a" stroke="#1a1a1a" stroke-width="0.15">20</text>
<line x1="209.2" y1="284.60" x2="211.2" y2="284.60" stroke="#000" stroke-width="0.7"/>
<line x1="209.2" y1="280.80" x2="211.2" y2="280.80" stroke="#000" stroke-width="0.7"/>
<line x1="209.2" y1="277.00" x2="211.2" y2="277.00" stroke="#000" stroke-width="0.7"/>
<line x1="209.2" y1="273.20" x2="211.2" y2="273.20" stroke="#000" stroke-width="0.7"/>
<line x1="207.7" y1="269.40" x2="211.2" y2="269.40" stroke="#000" stroke-width="0.9"/>
<text x="205.20" y="272.00" font-size="7.4" text-anchor="end" fill="#1a1a1a" stroke="#1a1a1a" stroke-width="0.15">40</text>
<line x1="209.2" y1="265.60" x2="211.2" y2="265.60" stroke="#000" stroke-width="0.7"/>
<line x1="209.2" y1="261.80" x2="211.2" y2="261.80" stroke="#000" stroke-width="0.7"/>
<line x1="209.2" y1="258.00" x2="211.2" y2="258.00" stroke="#000" stroke-width="0.7"/>
<line x1="209.2" y1="254.20" x2="211.2" y2="254.20" stroke="#000" stroke-width="0.7"/>
<line x1="207.7" y1="250.40" x2="211.2" y2="250.40" stroke="#000" stroke-width="0.9"/>
<text x="205.20" y="253.00" font-size="7.4" text-anchor="end" fill="#1a1a1a" stroke="#1a1a1a" stroke-width="0.15">60</text>
<line x1="209.2" y1="246.60" x2="211.2" y2="246.60" stroke="#000" stroke-width="0.7"/>
<line x1="209.2" y1="242.80" x2="211.2" y2="242.80" stroke="#000" stroke-width="0.7"/>
<line x1="209.2" y1="239.00" x2="211.2" y2="239.00" stroke="#000" stroke-width="0.7"/>
<line x1="209.2" y1="235.20" x2="211.2" y2="235.20" stroke="#000" stroke-width="0.7"/>
<line x1="207.7" y1="231.40" x2="211.2" y2="231.40" stroke="#000" stroke-width="0.9"/>
<text x="205.20" y="234.00" font-size="7.4" text-anchor="end" fill="#1a1a1a" stroke="#1a1a1a" stroke-width="0.15">80</text>
<line x1="209.2" y1="227.60" x2="211.2" y2="227.60" stroke="#000" stroke-width="0.7"/>
<line x1="209.2" y1="223.80" x2="211.2" y2="223.80" stroke="#000" stroke-width="0.7"/>
<line x1="209.2" y1="220.00" x2="211.2" y2="220.00" stroke="#000" stroke-width="0.7"/>
<line x1="209.2" y1="216.20" x2="211.2" y2="216.20" stroke="#000" stroke-width="0.7"/>
<line x1="207.7" y1="212.40" x2="211.2" y2="212.40" stroke="#000" stroke-width="0.9"/>
<text x="205.20" y="215.00" font-size="7.4" text-anchor="end" fill="#1a1a1a" stroke="#1a1a1a" stroke-width="0.15">100</text>
<text transform="translate(191.60,258.1) rotate(-90)" text-anchor="middle" font-size="9.4" font-weight="bold" textLength="50.6" lengthAdjust="spacingAndGlyphs" fill="#1a1a1a">% of CD8<tspan baseline-shift="2.2" font-size="6.4">+</tspan> T cells</text>
<text transform="translate(218.90,318.70) rotate(-45)" text-anchor="end" font-size="6.8" font-weight="bold" textLength="18.51" lengthAdjust="spacingAndGlyphs" fill="#1a1a1a" stroke="#1a1a1a" stroke-width="0.2">Donor 00</text>
<text transform="translate(227.43,318.70) rotate(-45)" text-anchor="end" font-size="6.8" font-weight="bold" textLength="37.26" lengthAdjust="spacingAndGlyphs" fill="#1a1a1a" stroke="#1a1a1a" stroke-width="0.2">Recipient pre-HCT</text>
<text transform="translate(235.96,318.70) rotate(-45)" text-anchor="end" font-size="6.8" font-weight="bold" textLength="14.39" lengthAdjust="spacingAndGlyphs" fill="#1a1a1a" stroke="#1a1a1a" stroke-width="0.2">Day +3</text>
<text transform="translate(244.49,318.70) rotate(-45)" text-anchor="end" font-size="6.8" font-weight="bold" textLength="14.39" lengthAdjust="spacingAndGlyphs" fill="#1a1a1a" stroke="#1a1a1a" stroke-width="0.2">Day +7</text>
<text transform="translate(253.02,318.70) rotate(-45)" text-anchor="end" font-size="6.8" font-weight="bold" textLength="16.89" lengthAdjust="spacingAndGlyphs" fill="#1a1a1a" stroke="#1a1a1a" stroke-width="0.2">Day +14</text>
<text transform="translate(261.55,318.70) rotate(-45)" text-anchor="end" font-size="6.8" font-weight="bold" textLength="16.89" lengthAdjust="spacingAndGlyphs" fill="#1a1a1a" stroke="#1a1a1a" stroke-width="0.2">Day +28</text>
<text transform="translate(270.08,318.70) rotate(-45)" text-anchor="end" font-size="6.8" font-weight="bold" textLength="16.89" lengthAdjust="spacingAndGlyphs" fill="#1a1a1a" stroke="#1a1a1a" stroke-width="0.2">Day +60</text>
<text transform="translate(278.61,318.70) rotate(-45)" text-anchor="end" font-size="6.8" font-weight="bold" textLength="19.39" lengthAdjust="spacingAndGlyphs" fill="#1a1a1a" stroke="#1a1a1a" stroke-width="0.2">Day +100</text>
<text transform="translate(287.14,318.70) rotate(-45)" text-anchor="end" font-size="6.8" font-weight="bold" textLength="19.39" lengthAdjust="spacingAndGlyphs" fill="#1a1a1a" stroke="#1a1a1a" stroke-width="0.2">Day +180</text>
<text transform="translate(295.67,318.70) rotate(-45)" text-anchor="end" font-size="6.8" font-weight="bold" textLength="12.51" lengthAdjust="spacingAndGlyphs" fill="#1a1a1a" stroke="#1a1a1a" stroke-width="0.2">1 year</text>
<text transform="translate(304.20,318.70) rotate(-45)" text-anchor="end" font-size="6.8" font-weight="bold" textLength="18.51" lengthAdjust="spacingAndGlyphs" fill="#1a1a1a" stroke="#1a1a1a" stroke-width="0.2">1.5 years</text>
<text transform="translate(312.73,318.70) rotate(-45)" text-anchor="end" font-size="6.8" font-weight="bold" textLength="14.76" lengthAdjust="spacingAndGlyphs" fill="#1a1a1a" stroke="#1a1a1a" stroke-width="0.2">2 years</text>
<text transform="translate(321.26,318.70) rotate(-45)" text-anchor="end" font-size="6.8" font-weight="bold" textLength="14.76" lengthAdjust="spacingAndGlyphs" fill="#1a1a1a" stroke="#1a1a1a" stroke-width="0.2">3 years</text>
<line x1="390.20" y1="285.78" x2="390.20" y2="301.44" stroke="#474747" stroke-width="1.4"/>
<line x1="388.20" y1="285.78" x2="392.20" y2="285.78" stroke="#222" stroke-width="1"/>
<line x1="388.20" y1="301.44" x2="392.20" y2="301.44" stroke="#222" stroke-width="1"/>
<line x1="398.77" y1="262.29" x2="398.77" y2="307.40" stroke="#474747" stroke-width="1.4"/>
<line x1="396.77" y1="262.29" x2="400.77" y2="262.29" stroke="#222" stroke-width="1"/>
<line x1="396.77" y1="307.40" x2="400.77" y2="307.40" stroke="#222" stroke-width="1"/>
<line x1="407.35" y1="274.78" x2="407.35" y2="307.40" stroke="#474747" stroke-width="1.4"/>
<line x1="405.35" y1="274.78" x2="409.35" y2="274.78" stroke="#222" stroke-width="1"/>
<line x1="405.35" y1="307.40" x2="409.35" y2="307.40" stroke="#222" stroke-width="1"/>
<line x1="415.93" y1="241.23" x2="415.93" y2="307.40" stroke="#474747" stroke-width="1.4"/>
<line x1="413.93" y1="241.23" x2="417.93" y2="241.23" stroke="#222" stroke-width="1"/>
<line x1="413.93" y1="307.40" x2="417.93" y2="307.40" stroke="#222" stroke-width="1"/>
<line x1="424.50" y1="244.21" x2="424.50" y2="307.40" stroke="#474747" stroke-width="1.4"/>
<line x1="422.50" y1="244.21" x2="426.50" y2="244.21" stroke="#222" stroke-width="1"/>
<line x1="422.50" y1="307.40" x2="426.50" y2="307.40" stroke="#222" stroke-width="1"/>
<line x1="433.07" y1="227.44" x2="433.07" y2="304.60" stroke="#474747" stroke-width="1.4"/>
<line x1="431.07" y1="227.44" x2="435.07" y2="227.44" stroke="#222" stroke-width="1"/>
<line x1="431.07" y1="304.60" x2="435.07" y2="304.60" stroke="#222" stroke-width="1"/>
<line x1="441.65" y1="284.66" x2="441.65" y2="307.40" stroke="#474747" stroke-width="1.4"/>
<line x1="439.65" y1="284.66" x2="443.65" y2="284.66" stroke="#222" stroke-width="1"/>
<line x1="439.65" y1="307.40" x2="443.65" y2="307.40" stroke="#222" stroke-width="1"/>
<line x1="450.22" y1="260.80" x2="450.22" y2="307.40" stroke="#474747" stroke-width="1.4"/>
<line x1="448.22" y1="260.80" x2="452.22" y2="260.80" stroke="#222" stroke-width="1"/>
<line x1="448.22" y1="307.40" x2="452.22" y2="307.40" stroke="#222" stroke-width="1"/>
<line x1="458.80" y1="288.57" x2="458.80" y2="307.40" stroke="#474747" stroke-width="1.4"/>
<line x1="456.80" y1="288.57" x2="460.80" y2="288.57" stroke="#222" stroke-width="1"/>
<line x1="456.80" y1="307.40" x2="460.80" y2="307.40" stroke="#222" stroke-width="1"/>
<line x1="467.38" y1="281.86" x2="467.38" y2="305.54" stroke="#474747" stroke-width="1.4"/>
<line x1="465.38" y1="281.86" x2="469.38" y2="281.86" stroke="#222" stroke-width="1"/>
<line x1="465.38" y1="305.54" x2="469.38" y2="305.54" stroke="#222" stroke-width="1"/>
<line x1="475.95" y1="280.00" x2="475.95" y2="306.47" stroke="#474747" stroke-width="1.4"/>
<line x1="473.95" y1="280.00" x2="477.95" y2="280.00" stroke="#222" stroke-width="1"/>
<line x1="473.95" y1="306.47" x2="477.95" y2="306.47" stroke="#222" stroke-width="1"/>
<line x1="484.52" y1="284.66" x2="484.52" y2="299.01" stroke="#474747" stroke-width="1.4"/>
<line x1="482.52" y1="284.66" x2="486.52" y2="284.66" stroke="#222" stroke-width="1"/>
<line x1="482.52" y1="299.01" x2="486.52" y2="299.01" stroke="#222" stroke-width="1"/>
<line x1="493.10" y1="281.86" x2="493.10" y2="300.88" stroke="#474747" stroke-width="1.4"/>
<line x1="491.10" y1="281.86" x2="495.10" y2="281.86" stroke="#222" stroke-width="1"/>
<line x1="491.10" y1="300.88" x2="495.10" y2="300.88" stroke="#222" stroke-width="1"/>
<rect x="387.30" y="293.89" width="5.8" height="8.48" fill="#e693a6"/>
<rect x="395.88" y="299.20" width="5.8" height="7.27" fill="#e693a6"/>
<rect x="404.45" y="297.33" width="5.8" height="9.13" fill="#e693a6"/>
<rect x="413.03" y="299.20" width="5.8" height="7.27" fill="#e693a6"/>
<rect x="421.60" y="281.86" width="5.8" height="20.04" fill="#e693a6"/>
<rect x="430.18" y="285.78" width="5.8" height="16.12" fill="#e693a6"/>
<rect x="438.75" y="296.22" width="5.8" height="9.60" fill="#e693a6"/>
<rect x="447.32" y="294.54" width="5.8" height="9.69" fill="#e693a6"/>
<rect x="455.90" y="290.81" width="5.8" height="15.00" fill="#e693a6"/>
<rect x="464.48" y="289.69" width="5.8" height="15.00" fill="#e693a6"/>
<rect x="473.05" y="285.78" width="5.8" height="18.83" fill="#e693a6"/>
<rect x="481.62" y="288.57" width="5.8" height="10.34" fill="#e693a6"/>
<rect x="490.20" y="285.78" width="5.8" height="13.14" fill="#e693a6"/>
<line x1="387.30" y1="298.08" x2="393.10" y2="298.08" stroke="#111" stroke-width="1.3"/>
<line x1="395.88" y1="303.11" x2="401.67" y2="303.11" stroke="#111" stroke-width="1.3"/>
<line x1="404.45" y1="303.11" x2="410.25" y2="303.11" stroke="#111" stroke-width="1.3"/>
<line x1="413.03" y1="304.23" x2="418.82" y2="304.23" stroke="#111" stroke-width="1.3"/>
<line x1="421.60" y1="296.87" x2="427.40" y2="296.87" stroke="#111" stroke-width="1.3"/>
<line x1="430.18" y1="294.35" x2="435.97" y2="294.35" stroke="#111" stroke-width="1.3"/>
<line x1="438.75" y1="303.11" x2="444.55" y2="303.11" stroke="#111" stroke-width="1.3"/>
<line x1="447.32" y1="298.45" x2="453.12" y2="298.45" stroke="#111" stroke-width="1.3"/>
<line x1="455.90" y1="299.66" x2="461.70" y2="299.66" stroke="#111" stroke-width="1.3"/>
<line x1="464.48" y1="297.33" x2="470.27" y2="297.33" stroke="#111" stroke-width="1.3"/>
<line x1="473.05" y1="298.92" x2="478.85" y2="298.92" stroke="#111" stroke-width="1.3"/>
<line x1="481.62" y1="298.08" x2="487.42" y2="298.08" stroke="#111" stroke-width="1.3"/>
<line x1="490.20" y1="295.01" x2="496.00" y2="295.01" stroke="#111" stroke-width="1.3"/>
<circle cx="390.17" cy="301.44" r="1.05" fill="#d0021b"/>
<circle cx="389.65" cy="302.23" r="1.05" fill="#d0021b"/>
<circle cx="389.19" cy="302.35" r="1.05" fill="#d0021b"/>
<circle cx="389.76" cy="301.27" r="1.05" fill="#d0021b"/>
<circle cx="389.69" cy="300.02" r="1.05" fill="#d0021b"/>
<circle cx="391.15" cy="299.06" r="1.05" fill="#d0021b"/>
<circle cx="388.80" cy="296.99" r="1.05" fill="#d0021b"/>
<circle cx="390.90" cy="296.00" r="1.05" fill="#d0021b"/>
<circle cx="391.15" cy="295.05" r="1.05" fill="#d0021b"/>
<circle cx="389.14" cy="293.88" r="1.05" fill="#d0021b"/>
<circle cx="391.39" cy="292.14" r="1.05" fill="#d0021b"/>
<circle cx="390.33" cy="285.78" r="1.05" fill="#d0021b"/>
<circle cx="398.98" cy="307.40" r="1.05" fill="#d0021b"/>
<circle cx="398.17" cy="306.63" r="1.05" fill="#d0021b"/>
<circle cx="399.99" cy="306.52" r="1.05" fill="#d0021b"/>
<circle cx="398.07" cy="306.30" r="1.05" fill="#d0021b"/>
<circle cx="398.12" cy="305.26" r="1.05" fill="#d0021b"/>
<circle cx="398.81" cy="303.78" r="1.05" fill="#d0021b"/>
<circle cx="397.91" cy="303.04" r="1.05" fill="#d0021b"/>
<circle cx="398.42" cy="302.03" r="1.05" fill="#d0021b"/>
<circle cx="400.05" cy="300.76" r="1.05" fill="#d0021b"/>
<circle cx="399.85" cy="299.69" r="1.05" fill="#d0021b"/>
<circle cx="399.65" cy="298.76" r="1.05" fill="#d0021b"/>
<circle cx="399.14" cy="292.74" r="1.05" fill="#d0021b"/>
<circle cx="399.02" cy="262.29" r="1.05" fill="#d0021b"/>
<circle cx="407.61" cy="307.40" r="1.05" fill="#d0021b"/>
<circle cx="406.31" cy="306.59" r="1.05" fill="#d0021b"/>
<circle cx="407.27" cy="306.48" r="1.05" fill="#d0021b"/>
<circle cx="406.91" cy="305.74" r="1.05" fill="#d0021b"/>
<circle cx="406.78" cy="305.14" r="1.05" fill="#d0021b"/>
<circle cx="408.02" cy="303.49" r="1.05" fill="#d0021b"/>
<circle cx="408.68" cy="302.22" r="1.05" fill="#d0021b"/>
<circle cx="406.68" cy="299.88" r="1.05" fill="#d0021b"/>
<circle cx="407.79" cy="298.10" r="1.05" fill="#d0021b"/>
<circle cx="406.79" cy="297.13" r="1.05" fill="#d0021b"/>
<circle cx="407.51" cy="294.42" r="1.05" fill="#d0021b"/>
<circle cx="407.29" cy="274.78" r="1.05" fill="#d0021b"/>
<circle cx="415.68" cy="307.40" r="1.05" fill="#d0021b"/>
<circle cx="415.48" cy="306.78" r="1.05" fill="#d0021b"/>
<circle cx="414.78" cy="306.54" r="1.05" fill="#d0021b"/>
<circle cx="415.19" cy="306.44" r="1.05" fill="#d0021b"/>
<circle cx="415.25" cy="305.41" r="1.05" fill="#d0021b"/>
<circle cx="416.12" cy="304.92" r="1.05" fill="#d0021b"/>
<circle cx="417.01" cy="304.37" r="1.05" fill="#d0021b"/>
<circle cx="416.62" cy="302.24" r="1.05" fill="#d0021b"/>
<circle cx="415.68" cy="300.60" r="1.05" fill="#d0021b"/>
<circle cx="415.68" cy="299.64" r="1.05" fill="#d0021b"/>
<circle cx="415.99" cy="298.26" r="1.05" fill="#d0021b"/>
<circle cx="415.58" cy="288.07" r="1.05" fill="#d0021b"/>
<circle cx="415.83" cy="241.23" r="1.05" fill="#d0021b"/>
<circle cx="424.77" cy="307.40" r="1.05" fill="#d0021b"/>
<circle cx="425.48" cy="304.10" r="1.05" fill="#d0021b"/>
<circle cx="425.54" cy="302.38" r="1.05" fill="#d0021b"/>
<circle cx="423.16" cy="301.43" r="1.05" fill="#d0021b"/>
<circle cx="423.19" cy="300.84" r="1.05" fill="#d0021b"/>
<circle cx="425.09" cy="299.02" r="1.05" fill="#d0021b"/>
<circle cx="425.61" cy="297.46" r="1.05" fill="#d0021b"/>
<circle cx="424.43" cy="293.64" r="1.05" fill="#d0021b"/>
<circle cx="424.74" cy="291.29" r="1.05" fill="#d0021b"/>
<circle cx="423.10" cy="286.84" r="1.05" fill="#d0021b"/>
<circle cx="424.20" cy="282.62" r="1.05" fill="#d0021b"/>
<circle cx="425.70" cy="279.83" r="1.05" fill="#d0021b"/>
<circle cx="425.41" cy="271.33" r="1.05" fill="#d0021b"/>
<circle cx="424.71" cy="244.21" r="1.05" fill="#d0021b"/>
<circle cx="432.80" cy="304.60" r="1.05" fill="#d0021b"/>
<circle cx="433.87" cy="302.43" r="1.05" fill="#d0021b"/>
<circle cx="432.33" cy="302.15" r="1.05" fill="#d0021b"/>
<circle cx="434.25" cy="301.91" r="1.05" fill="#d0021b"/>
<circle cx="433.48" cy="300.27" r="1.05" fill="#d0021b"/>
<circle cx="432.53" cy="297.55" r="1.05" fill="#d0021b"/>
<circle cx="432.03" cy="295.16" r="1.05" fill="#d0021b"/>
<circle cx="432.38" cy="292.37" r="1.05" fill="#d0021b"/>
<circle cx="433.46" cy="290.30" r="1.05" fill="#d0021b"/>
<circle cx="433.63" cy="287.98" r="1.05" fill="#d0021b"/>
<circle cx="431.99" cy="285.69" r="1.05" fill="#d0021b"/>
<circle cx="431.87" cy="282.31" r="1.05" fill="#d0021b"/>
<circle cx="433.14" cy="268.06" r="1.05" fill="#d0021b"/>
<circle cx="433.12" cy="227.44" r="1.05" fill="#d0021b"/>
<circle cx="441.50" cy="307.40" r="1.05" fill="#d0021b"/>
<circle cx="442.94" cy="306.26" r="1.05" fill="#d0021b"/>
<circle cx="442.22" cy="305.92" r="1.05" fill="#d0021b"/>
<circle cx="441.11" cy="305.55" r="1.05" fill="#d0021b"/>
<circle cx="440.31" cy="305.06" r="1.05" fill="#d0021b"/>
<circle cx="441.65" cy="304.06" r="1.05" fill="#d0021b"/>
<circle cx="442.14" cy="303.14" r="1.05" fill="#d0021b"/>
<circle cx="441.43" cy="300.31" r="1.05" fill="#d0021b"/>
<circle cx="440.97" cy="298.65" r="1.05" fill="#d0021b"/>
<circle cx="442.12" cy="296.22" r="1.05" fill="#d0021b"/>
<circle cx="442.84" cy="295.78" r="1.05" fill="#d0021b"/>
<circle cx="440.89" cy="293.90" r="1.05" fill="#d0021b"/>
<circle cx="441.37" cy="284.66" r="1.05" fill="#d0021b"/>
<circle cx="450.06" cy="307.40" r="1.05" fill="#d0021b"/>
<circle cx="449.45" cy="305.16" r="1.05" fill="#d0021b"/>
<circle cx="450.95" cy="304.38" r="1.05" fill="#d0021b"/>
<circle cx="449.65" cy="303.56" r="1.05" fill="#d0021b"/>
<circle cx="451.49" cy="302.38" r="1.05" fill="#d0021b"/>
<circle cx="450.21" cy="299.86" r="1.05" fill="#d0021b"/>
<circle cx="449.35" cy="298.25" r="1.05" fill="#d0021b"/>
<circle cx="449.45" cy="297.24" r="1.05" fill="#d0021b"/>
<circle cx="449.99" cy="296.29" r="1.05" fill="#d0021b"/>
<circle cx="450.69" cy="294.53" r="1.05" fill="#d0021b"/>
<circle cx="451.48" cy="293.66" r="1.05" fill="#d0021b"/>
<circle cx="449.23" cy="283.27" r="1.05" fill="#d0021b"/>
<circle cx="450.16" cy="260.80" r="1.05" fill="#d0021b"/>
<circle cx="458.70" cy="307.40" r="1.05" fill="#d0021b"/>
<circle cx="457.92" cy="306.33" r="1.05" fill="#d0021b"/>
<circle cx="460.02" cy="305.83" r="1.05" fill="#d0021b"/>
<circle cx="459.49" cy="305.82" r="1.05" fill="#d0021b"/>
<circle cx="457.49" cy="304.04" r="1.05" fill="#d0021b"/>
<circle cx="459.26" cy="302.14" r="1.05" fill="#d0021b"/>
<circle cx="458.46" cy="299.81" r="1.05" fill="#d0021b"/>
<circle cx="458.45" cy="296.18" r="1.05" fill="#d0021b"/>
<circle cx="458.33" cy="293.49" r="1.05" fill="#d0021b"/>
<circle cx="457.87" cy="291.05" r="1.05" fill="#d0021b"/>
<circle cx="457.41" cy="290.61" r="1.05" fill="#d0021b"/>
<circle cx="458.18" cy="290.00" r="1.05" fill="#d0021b"/>
<circle cx="458.71" cy="288.57" r="1.05" fill="#d0021b"/>
<circle cx="467.30" cy="305.54" r="1.05" fill="#d0021b"/>
<circle cx="468.55" cy="304.81" r="1.05" fill="#d0021b"/>
<circle cx="466.52" cy="304.74" r="1.05" fill="#d0021b"/>
<circle cx="466.99" cy="302.67" r="1.05" fill="#d0021b"/>
<circle cx="468.49" cy="301.52" r="1.05" fill="#d0021b"/>
<circle cx="466.06" cy="298.81" r="1.05" fill="#d0021b"/>
<circle cx="467.13" cy="295.49" r="1.05" fill="#d0021b"/>
<circle cx="468.25" cy="292.94" r="1.05" fill="#d0021b"/>
<circle cx="468.12" cy="291.09" r="1.05" fill="#d0021b"/>
<circle cx="466.09" cy="289.68" r="1.05" fill="#d0021b"/>
<circle cx="466.07" cy="288.04" r="1.05" fill="#d0021b"/>
<circle cx="467.11" cy="281.86" r="1.05" fill="#d0021b"/>
<circle cx="475.81" cy="306.47" r="1.05" fill="#d0021b"/>
<circle cx="477.23" cy="304.46" r="1.05" fill="#d0021b"/>
<circle cx="476.28" cy="302.72" r="1.05" fill="#d0021b"/>
<circle cx="475.28" cy="297.62" r="1.05" fill="#d0021b"/>
<circle cx="476.56" cy="289.32" r="1.05" fill="#d0021b"/>
<circle cx="475.44" cy="285.76" r="1.05" fill="#d0021b"/>
<circle cx="475.82" cy="280.00" r="1.05" fill="#d0021b"/>
<circle cx="484.79" cy="299.01" r="1.05" fill="#d0021b"/>
<circle cx="483.19" cy="298.92" r="1.05" fill="#d0021b"/>
<circle cx="483.78" cy="298.26" r="1.05" fill="#d0021b"/>
<circle cx="484.46" cy="293.06" r="1.05" fill="#d0021b"/>
<circle cx="485.80" cy="288.57" r="1.05" fill="#d0021b"/>
<circle cx="484.80" cy="284.66" r="1.05" fill="#d0021b"/>
<circle cx="493.06" cy="300.88" r="1.05" fill="#d0021b"/>
<circle cx="493.08" cy="297.27" r="1.05" fill="#d0021b"/>
<circle cx="494.30" cy="292.00" r="1.05" fill="#d0021b"/>
<circle cx="492.91" cy="281.86" r="1.05" fill="#d0021b"/>
<line x1="383.7" y1="307.40" x2="498.60" y2="307.40" stroke="#000" stroke-width="1.1"/>
<line x1="390.20" y1="307.40" x2="390.20" y2="311.00" stroke="#000" stroke-width="0.9"/>
<line x1="398.77" y1="307.40" x2="398.77" y2="311.00" stroke="#000" stroke-width="0.9"/>
<line x1="407.35" y1="307.40" x2="407.35" y2="311.00" stroke="#000" stroke-width="0.9"/>
<line x1="415.93" y1="307.40" x2="415.93" y2="311.00" stroke="#000" stroke-width="0.9"/>
<line x1="424.50" y1="307.40" x2="424.50" y2="311.00" stroke="#000" stroke-width="0.9"/>
<line x1="433.07" y1="307.40" x2="433.07" y2="311.00" stroke="#000" stroke-width="0.9"/>
<line x1="441.65" y1="307.40" x2="441.65" y2="311.00" stroke="#000" stroke-width="0.9"/>
<line x1="450.22" y1="307.40" x2="450.22" y2="311.00" stroke="#000" stroke-width="0.9"/>
<line x1="458.80" y1="307.40" x2="458.80" y2="311.00" stroke="#000" stroke-width="0.9"/>
<line x1="467.38" y1="307.40" x2="467.38" y2="311.00" stroke="#000" stroke-width="0.9"/>
<line x1="475.95" y1="307.40" x2="475.95" y2="311.00" stroke="#000" stroke-width="0.9"/>
<line x1="484.52" y1="307.40" x2="484.52" y2="311.00" stroke="#000" stroke-width="0.9"/>
<line x1="493.10" y1="307.40" x2="493.10" y2="311.00" stroke="#000" stroke-width="0.9"/>
<line x1="384.2" y1="209.40" x2="384.2" y2="307.90" stroke="#000" stroke-width="1.1"/>
<line x1="380.7" y1="307.40" x2="384.2" y2="307.40" stroke="#000" stroke-width="0.9"/>
<text x="378.20" y="310.00" font-size="7.4" text-anchor="end" fill="#1a1a1a" stroke="#1a1a1a" stroke-width="0.15">0</text>
<line x1="382.2" y1="303.60" x2="384.2" y2="303.60" stroke="#000" stroke-width="0.7"/>
<line x1="382.2" y1="299.80" x2="384.2" y2="299.80" stroke="#000" stroke-width="0.7"/>
<line x1="382.2" y1="296.00" x2="384.2" y2="296.00" stroke="#000" stroke-width="0.7"/>
<line x1="382.2" y1="292.20" x2="384.2" y2="292.20" stroke="#000" stroke-width="0.7"/>
<line x1="380.7" y1="288.40" x2="384.2" y2="288.40" stroke="#000" stroke-width="0.9"/>
<text x="378.20" y="291.00" font-size="7.4" text-anchor="end" fill="#1a1a1a" stroke="#1a1a1a" stroke-width="0.15">20</text>
<line x1="382.2" y1="284.60" x2="384.2" y2="284.60" stroke="#000" stroke-width="0.7"/>
<line x1="382.2" y1="280.80" x2="384.2" y2="280.80" stroke="#000" stroke-width="0.7"/>
<line x1="382.2" y1="277.00" x2="384.2" y2="277.00" stroke="#000" stroke-width="0.7"/>
<line x1="382.2" y1="273.20" x2="384.2" y2="273.20" stroke="#000" stroke-width="0.7"/>
<line x1="380.7" y1="269.40" x2="384.2" y2="269.40" stroke="#000" stroke-width="0.9"/>
<text x="378.20" y="272.00" font-size="7.4" text-anchor="end" fill="#1a1a1a" stroke="#1a1a1a" stroke-width="0.15">40</text>
<line x1="382.2" y1="265.60" x2="384.2" y2="265.60" stroke="#000" stroke-width="0.7"/>
<line x1="382.2" y1="261.80" x2="384.2" y2="261.80" stroke="#000" stroke-width="0.7"/>
<line x1="382.2" y1="258.00" x2="384.2" y2="258.00" stroke="#000" stroke-width="0.7"/>
<line x1="382.2" y1="254.20" x2="384.2" y2="254.20" stroke="#000" stroke-width="0.7"/>
<line x1="380.7" y1="250.40" x2="384.2" y2="250.40" stroke="#000" stroke-width="0.9"/>
<text x="378.20" y="253.00" font-size="7.4" text-anchor="end" fill="#1a1a1a" stroke="#1a1a1a" stroke-width="0.15">60</text>
<line x1="382.2" y1="246.60" x2="384.2" y2="246.60" stroke="#000" stroke-width="0.7"/>
<line x1="382.2" y1="242.80" x2="384.2" y2="242.80" stroke="#000" stroke-width="0.7"/>
<line x1="382.2" y1="239.00" x2="384.2" y2="239.00" stroke="#000" stroke-width="0.7"/>
<line x1="382.2" y1="235.20" x2="384.2" y2="235.20" stroke="#000" stroke-width="0.7"/>
<line x1="380.7" y1="231.40" x2="384.2" y2="231.40" stroke="#000" stroke-width="0.9"/>
<text x="378.20" y="234.00" font-size="7.4" text-anchor="end" fill="#1a1a1a" stroke="#1a1a1a" stroke-width="0.15">80</text>
<line x1="382.2" y1="227.60" x2="384.2" y2="227.60" stroke="#000" stroke-width="0.7"/>
<line x1="382.2" y1="223.80" x2="384.2" y2="223.80" stroke="#000" stroke-width="0.7"/>
<line x1="382.2" y1="220.00" x2="384.2" y2="220.00" stroke="#000" stroke-width="0.7"/>
<line x1="382.2" y1="216.20" x2="384.2" y2="216.20" stroke="#000" stroke-width="0.7"/>
<line x1="380.7" y1="212.40" x2="384.2" y2="212.40" stroke="#000" stroke-width="0.9"/>
<text x="378.20" y="215.00" font-size="7.4" text-anchor="end" fill="#1a1a1a" stroke="#1a1a1a" stroke-width="0.15">100</text>
<text transform="translate(364.60,258.1) rotate(-90)" text-anchor="middle" font-size="9.4" font-weight="bold" textLength="50.6" lengthAdjust="spacingAndGlyphs" fill="#1a1a1a">% of CD8<tspan baseline-shift="2.2" font-size="6.4">+</tspan> T cells</text>
<text transform="translate(392.10,318.70) rotate(-45)" text-anchor="end" font-size="6.8" font-weight="bold" textLength="18.51" lengthAdjust="spacingAndGlyphs" fill="#1a1a1a" stroke="#1a1a1a" stroke-width="0.2">Donor 00</text>
<text transform="translate(400.67,318.70) rotate(-45)" text-anchor="end" font-size="6.8" font-weight="bold" textLength="37.26" lengthAdjust="spacingAndGlyphs" fill="#1a1a1a" stroke="#1a1a1a" stroke-width="0.2">Recipient pre-HCT</text>
<text transform="translate(409.25,318.70) rotate(-45)" text-anchor="end" font-size="6.8" font-weight="bold" textLength="14.39" lengthAdjust="spacingAndGlyphs" fill="#1a1a1a" stroke="#1a1a1a" stroke-width="0.2">Day +3</text>
<text transform="translate(417.82,318.70) rotate(-45)" text-anchor="end" font-size="6.8" font-weight="bold" textLength="14.39" lengthAdjust="spacingAndGlyphs" fill="#1a1a1a" stroke="#1a1a1a" stroke-width="0.2">Day +7</text>
<text transform="translate(426.40,318.70) rotate(-45)" text-anchor="end" font-size="6.8" font-weight="bold" textLength="16.89" lengthAdjust="spacingAndGlyphs" fill="#1a1a1a" stroke="#1a1a1a" stroke-width="0.2">Day +14</text>
<text transform="translate(434.97,318.70) rotate(-45)" text-anchor="end" font-size="6.8" font-weight="bold" textLength="16.89" lengthAdjust="spacingAndGlyphs" fill="#1a1a1a" stroke="#1a1a1a" stroke-width="0.2">Day +28</text>
<text transform="translate(443.55,318.70) rotate(-45)" text-anchor="end" font-size="6.8" font-weight="bold" textLength="16.89" lengthAdjust="spacingAndGlyphs" fill="#1a1a1a" stroke="#1a1a1a" stroke-width="0.2">Day +60</text>
<text transform="translate(452.12,318.70) rotate(-45)" text-anchor="end" font-size="6.8" font-weight="bold" textLength="19.39" lengthAdjust="spacingAndGlyphs" fill="#1a1a1a" stroke="#1a1a1a" stroke-width="0.2">Day +100</text>
<text transform="translate(460.70,318.70) rotate(-45)" text-anchor="end" font-size="6.8" font-weight="bold" textLength="19.39" lengthAdjust="spacingAndGlyphs" fill="#1a1a1a" stroke="#1a1a1a" stroke-width="0.2">Day +180</text>
<text transform="translate(469.27,318.70) rotate(-45)" text-anchor="end" font-size="6.8" font-weight="bold" textLength="12.51" lengthAdjust="spacingAndGlyphs" fill="#1a1a1a" stroke="#1a1a1a" stroke-width="0.2">1 year</text>
<text transform="translate(477.85,318.70) rotate(-45)" text-anchor="end" font-size="6.8" font-weight="bold" textLength="18.51" lengthAdjust="spacingAndGlyphs" fill="#1a1a1a" stroke="#1a1a1a" stroke-width="0.2">1.5 years</text>
<text transform="translate(486.42,318.70) rotate(-45)" text-anchor="end" font-size="6.8" font-weight="bold" textLength="14.76" lengthAdjust="spacingAndGlyphs" fill="#1a1a1a" stroke="#1a1a1a" stroke-width="0.2">2 years</text>
<text transform="translate(495.00,318.70) rotate(-45)" text-anchor="end" font-size="6.8" font-weight="bold" textLength="14.76" lengthAdjust="spacingAndGlyphs" fill="#1a1a1a" stroke="#1a1a1a" stroke-width="0.2">3 years</text>
<line x1="43.40" y1="419.50" x2="43.40" y2="455.50" stroke="#474747" stroke-width="1.4"/>
<line x1="41.40" y1="419.50" x2="45.40" y2="419.50" stroke="#222" stroke-width="1"/>
<line x1="41.40" y1="455.50" x2="45.40" y2="455.50" stroke="#222" stroke-width="1"/>
<line x1="51.97" y1="385.59" x2="51.97" y2="468.71" stroke="#474747" stroke-width="1.4"/>
<line x1="49.97" y1="385.59" x2="53.97" y2="385.59" stroke="#222" stroke-width="1"/>
<line x1="49.97" y1="468.71" x2="53.97" y2="468.71" stroke="#222" stroke-width="1"/>
<line x1="60.55" y1="396.51" x2="60.55" y2="455.98" stroke="#474747" stroke-width="1.4"/>
<line x1="58.55" y1="396.51" x2="62.55" y2="396.51" stroke="#222" stroke-width="1"/>
<line x1="58.55" y1="455.98" x2="62.55" y2="455.98" stroke="#222" stroke-width="1"/>
<line x1="69.12" y1="396.04" x2="69.12" y2="469.85" stroke="#474747" stroke-width="1.4"/>
<line x1="67.12" y1="396.04" x2="71.12" y2="396.04" stroke="#222" stroke-width="1"/>
<line x1="67.12" y1="469.85" x2="71.12" y2="469.85" stroke="#222" stroke-width="1"/>
<line x1="77.70" y1="402.21" x2="77.70" y2="468.24" stroke="#474747" stroke-width="1.4"/>
<line x1="75.70" y1="402.21" x2="79.70" y2="402.21" stroke="#222" stroke-width="1"/>
<line x1="75.70" y1="468.24" x2="79.70" y2="468.24" stroke="#222" stroke-width="1"/>
<line x1="86.28" y1="383.97" x2="86.28" y2="463.39" stroke="#474747" stroke-width="1.4"/>
<line x1="84.28" y1="383.97" x2="88.28" y2="383.97" stroke="#222" stroke-width="1"/>
<line x1="84.28" y1="463.39" x2="88.28" y2="463.39" stroke="#222" stroke-width="1"/>
<line x1="94.85" y1="379.69" x2="94.85" y2="439.17" stroke="#474747" stroke-width="1.4"/>
<line x1="92.85" y1="379.69" x2="96.85" y2="379.69" stroke="#222" stroke-width="1"/>
<line x1="92.85" y1="439.17" x2="96.85" y2="439.17" stroke="#222" stroke-width="1"/>
<line x1="103.42" y1="396.04" x2="103.42" y2="430.14" stroke="#474747" stroke-width="1.4"/>
<line x1="101.42" y1="396.04" x2="105.42" y2="396.04" stroke="#222" stroke-width="1"/>
<line x1="101.42" y1="430.14" x2="105.42" y2="430.14" stroke="#222" stroke-width="1"/>
<line x1="112.00" y1="397.18" x2="112.00" y2="453.70" stroke="#474747" stroke-width="1.4"/>
<line x1="110.00" y1="397.18" x2="114.00" y2="397.18" stroke="#222" stroke-width="1"/>
<line x1="110.00" y1="453.70" x2="114.00" y2="453.70" stroke="#222" stroke-width="1"/>
<line x1="120.57" y1="407.53" x2="120.57" y2="455.98" stroke="#474747" stroke-width="1.4"/>
<line x1="118.57" y1="407.53" x2="122.57" y2="407.53" stroke="#222" stroke-width="1"/>
<line x1="118.57" y1="455.98" x2="122.57" y2="455.98" stroke="#222" stroke-width="1"/>
<line x1="129.15" y1="395.56" x2="129.15" y2="463.39" stroke="#474747" stroke-width="1.4"/>
<line x1="127.15" y1="395.56" x2="131.15" y2="395.56" stroke="#222" stroke-width="1"/>
<line x1="127.15" y1="463.39" x2="131.15" y2="463.39" stroke="#222" stroke-width="1"/>
<line x1="137.72" y1="412.85" x2="137.72" y2="468.71" stroke="#474747" stroke-width="1.4"/>
<line x1="135.72" y1="412.85" x2="139.72" y2="412.85" stroke="#222" stroke-width="1"/>
<line x1="135.72" y1="468.71" x2="139.72" y2="468.71" stroke="#222" stroke-width="1"/>
<line x1="146.30" y1="415.23" x2="146.30" y2="459.40" stroke="#474747" stroke-width="1.4"/>
<line x1="144.30" y1="415.23" x2="148.30" y2="415.23" stroke="#222" stroke-width="1"/>
<line x1="144.30" y1="459.40" x2="148.30" y2="459.40" stroke="#222" stroke-width="1"/>
<rect x="40.50" y="425.49" width="5.8" height="23.56" fill="#e693a6"/>
<rect x="49.07" y="403.63" width="5.8" height="47.31" fill="#e693a6"/>
<rect x="57.65" y="409.81" width="5.8" height="38.10" fill="#e693a6"/>
<rect x="66.22" y="423.21" width="5.8" height="28.59" fill="#e693a6"/>
<rect x="74.80" y="427.86" width="5.8" height="27.64" fill="#e693a6"/>
<rect x="83.38" y="399.46" width="5.8" height="37.62" fill="#e693a6"/>
<rect x="91.95" y="395.28" width="5.8" height="27.74" fill="#e693a6"/>
<rect x="100.52" y="398.98" width="5.8" height="29.74" fill="#e693a6"/>
<rect x="109.10" y="402.50" width="5.8" height="26.98" fill="#e693a6"/>
<rect x="117.67" y="416.75" width="5.8" height="19.67" fill="#e693a6"/>
<rect x="126.25" y="421.88" width="5.8" height="35.25" fill="#e693a6"/>
<rect x="134.82" y="425.96" width="5.8" height="36.95" fill="#e693a6"/>
<rect x="143.40" y="415.61" width="5.8" height="38.76" fill="#e693a6"/>
<line x1="40.50" y1="440.97" x2="46.30" y2="440.97" stroke="#111" stroke-width="1.3"/>
<line x1="49.07" y1="422.06" x2="54.87" y2="422.06" stroke="#111" stroke-width="1.3"/>
<line x1="57.65" y1="432.90" x2="63.45" y2="432.90" stroke="#111" stroke-width="1.3"/>
<line x1="66.22" y1="439.83" x2="72.03" y2="439.83" stroke="#111" stroke-width="1.3"/>
<line x1="74.80" y1="449.52" x2="80.60" y2="449.52" stroke="#111" stroke-width="1.3"/>
<line x1="83.38" y1="417.41" x2="89.18" y2="417.41" stroke="#111" stroke-width="1.3"/>
<line x1="91.95" y1="408.00" x2="97.75" y2="408.00" stroke="#111" stroke-width="1.3"/>
<line x1="100.52" y1="412.19" x2="106.32" y2="412.19" stroke="#111" stroke-width="1.3"/>
<line x1="109.10" y1="419.12" x2="114.90" y2="419.12" stroke="#111" stroke-width="1.3"/>
<line x1="117.67" y1="428.72" x2="123.47" y2="428.72" stroke="#111" stroke-width="1.3"/>
<line x1="126.25" y1="438.03" x2="132.05" y2="438.03" stroke="#111" stroke-width="1.3"/>
<line x1="134.82" y1="432.51" x2="140.62" y2="432.51" stroke="#111" stroke-width="1.3"/>
<line x1="143.40" y1="427.86" x2="149.20" y2="427.86" stroke="#111" stroke-width="1.3"/>
<circle cx="43.22" cy="455.50" r="1.05" fill="#d0021b"/>
<circle cx="44.11" cy="450.05" r="1.05" fill="#d0021b"/>
<circle cx="42.69" cy="449.10" r="1.05" fill="#d0021b"/>
<circle cx="42.18" cy="447.09" r="1.05" fill="#d0021b"/>
<circle cx="42.09" cy="444.49" r="1.05" fill="#d0021b"/>
<circle cx="43.55" cy="442.11" r="1.05" fill="#d0021b"/>
<circle cx="42.91" cy="439.01" r="1.05" fill="#d0021b"/>
<circle cx="44.74" cy="433.88" r="1.05" fill="#d0021b"/>
<circle cx="44.47" cy="428.56" r="1.05" fill="#d0021b"/>
<circle cx="44.77" cy="425.24" r="1.05" fill="#d0021b"/>
<circle cx="42.74" cy="424.68" r="1.05" fill="#d0021b"/>
<circle cx="43.15" cy="419.50" r="1.05" fill="#d0021b"/>
<circle cx="51.75" cy="468.71" r="1.05" fill="#d0021b"/>
<circle cx="52.93" cy="457.27" r="1.05" fill="#d0021b"/>
<circle cx="51.40" cy="451.65" r="1.05" fill="#d0021b"/>
<circle cx="52.16" cy="447.42" r="1.05" fill="#d0021b"/>
<circle cx="51.62" cy="440.17" r="1.05" fill="#d0021b"/>
<circle cx="52.64" cy="432.60" r="1.05" fill="#d0021b"/>
<circle cx="51.13" cy="422.58" r="1.05" fill="#d0021b"/>
<circle cx="51.27" cy="415.92" r="1.05" fill="#d0021b"/>
<circle cx="51.26" cy="410.03" r="1.05" fill="#d0021b"/>
<circle cx="51.00" cy="404.07" r="1.05" fill="#d0021b"/>
<circle cx="53.05" cy="402.31" r="1.05" fill="#d0021b"/>
<circle cx="52.19" cy="398.32" r="1.05" fill="#d0021b"/>
<circle cx="51.87" cy="385.59" r="1.05" fill="#d0021b"/>
<circle cx="60.75" cy="455.98" r="1.05" fill="#d0021b"/>
<circle cx="61.71" cy="449.86" r="1.05" fill="#d0021b"/>
<circle cx="59.26" cy="447.92" r="1.05" fill="#d0021b"/>
<circle cx="59.97" cy="445.38" r="1.05" fill="#d0021b"/>
<circle cx="59.48" cy="441.34" r="1.05" fill="#d0021b"/>
<circle cx="59.68" cy="434.32" r="1.05" fill="#d0021b"/>
<circle cx="61.87" cy="428.22" r="1.05" fill="#d0021b"/>
<circle cx="60.78" cy="418.71" r="1.05" fill="#d0021b"/>
<circle cx="61.75" cy="415.80" r="1.05" fill="#d0021b"/>
<circle cx="60.19" cy="409.57" r="1.05" fill="#d0021b"/>
<circle cx="61.58" cy="405.88" r="1.05" fill="#d0021b"/>
<circle cx="60.52" cy="396.51" r="1.05" fill="#d0021b"/>
<circle cx="69.18" cy="469.85" r="1.05" fill="#d0021b"/>
<circle cx="69.55" cy="457.46" r="1.05" fill="#d0021b"/>
<circle cx="68.29" cy="452.17" r="1.05" fill="#d0021b"/>
<circle cx="67.76" cy="449.73" r="1.05" fill="#d0021b"/>
<circle cx="68.64" cy="448.21" r="1.05" fill="#d0021b"/>
<circle cx="69.62" cy="443.27" r="1.05" fill="#d0021b"/>
<circle cx="68.24" cy="439.40" r="1.05" fill="#d0021b"/>
<circle cx="68.60" cy="435.73" r="1.05" fill="#d0021b"/>
<circle cx="68.29" cy="430.07" r="1.05" fill="#d0021b"/>
<circle cx="69.95" cy="425.77" r="1.05" fill="#d0021b"/>
<circle cx="69.26" cy="422.68" r="1.05" fill="#d0021b"/>
<circle cx="67.90" cy="417.66" r="1.05" fill="#d0021b"/>
<circle cx="68.89" cy="396.04" r="1.05" fill="#d0021b"/>
<circle cx="77.61" cy="468.24" r="1.05" fill="#d0021b"/>
<circle cx="77.47" cy="459.53" r="1.05" fill="#d0021b"/>
<circle cx="78.72" cy="456.25" r="1.05" fill="#d0021b"/>
<circle cx="79.09" cy="455.34" r="1.05" fill="#d0021b"/>
<circle cx="77.32" cy="454.28" r="1.05" fill="#d0021b"/>
<circle cx="76.85" cy="452.49" r="1.05" fill="#d0021b"/>
<circle cx="78.34" cy="450.14" r="1.05" fill="#d0021b"/>
<circle cx="76.87" cy="446.82" r="1.05" fill="#d0021b"/>
<circle cx="76.32" cy="441.18" r="1.05" fill="#d0021b"/>
<circle cx="78.82" cy="434.88" r="1.05" fill="#d0021b"/>
<circle cx="77.49" cy="427.73" r="1.05" fill="#d0021b"/>
<circle cx="78.60" cy="426.66" r="1.05" fill="#d0021b"/>
<circle cx="77.44" cy="419.98" r="1.05" fill="#d0021b"/>
<circle cx="77.93" cy="402.21" r="1.05" fill="#d0021b"/>
<circle cx="86.29" cy="463.39" r="1.05" fill="#d0021b"/>
<circle cx="87.47" cy="444.99" r="1.05" fill="#d0021b"/>
<circle cx="85.18" cy="439.74" r="1.05" fill="#d0021b"/>
<circle cx="86.25" cy="437.23" r="1.05" fill="#d0021b"/>
<circle cx="87.13" cy="431.25" r="1.05" fill="#d0021b"/>
<circle cx="87.58" cy="425.28" r="1.05" fill="#d0021b"/>
<circle cx="85.43" cy="418.61" r="1.05" fill="#d0021b"/>
<circle cx="85.23" cy="416.32" r="1.05" fill="#d0021b"/>
<circle cx="87.52" cy="409.28" r="1.05" fill="#d0021b"/>
<circle cx="87.61" cy="405.05" r="1.05" fill="#d0021b"/>
<circle cx="86.23" cy="399.45" r="1.05" fill="#d0021b"/>
<circle cx="85.02" cy="398.93" r="1.05" fill="#d0021b"/>
<circle cx="87.47" cy="395.65" r="1.05" fill="#d0021b"/>
<circle cx="86.21" cy="383.97" r="1.05" fill="#d0021b"/>
<circle cx="94.79" cy="439.17" r="1.05" fill="#d0021b"/>
<circle cx="94.90" cy="425.82" r="1.05" fill="#d0021b"/>
<circle cx="94.52" cy="423.51" r="1.05" fill="#d0021b"/>
<circle cx="93.79" cy="420.81" r="1.05" fill="#d0021b"/>
<circle cx="94.14" cy="418.34" r="1.05" fill="#d0021b"/>
<circle cx="95.48" cy="411.70" r="1.05" fill="#d0021b"/>
<circle cx="95.96" cy="408.90" r="1.05" fill="#d0021b"/>
<circle cx="93.57" cy="404.35" r="1.05" fill="#d0021b"/>
<circle cx="95.02" cy="399.22" r="1.05" fill="#d0021b"/>
<circle cx="95.57" cy="395.35" r="1.05" fill="#d0021b"/>
<circle cx="93.56" cy="394.99" r="1.05" fill="#d0021b"/>
<circle cx="95.80" cy="392.21" r="1.05" fill="#d0021b"/>
<circle cx="94.62" cy="379.69" r="1.05" fill="#d0021b"/>
<circle cx="103.50" cy="430.14" r="1.05" fill="#d0021b"/>
<circle cx="103.40" cy="429.05" r="1.05" fill="#d0021b"/>
<circle cx="102.68" cy="428.77" r="1.05" fill="#d0021b"/>
<circle cx="104.16" cy="426.99" r="1.05" fill="#d0021b"/>
<circle cx="104.21" cy="423.05" r="1.05" fill="#d0021b"/>
<circle cx="103.31" cy="417.56" r="1.05" fill="#d0021b"/>
<circle cx="102.53" cy="411.95" r="1.05" fill="#d0021b"/>
<circle cx="103.35" cy="408.33" r="1.05" fill="#d0021b"/>
<circle cx="102.32" cy="403.61" r="1.05" fill="#d0021b"/>
<circle cx="102.38" cy="400.15" r="1.05" fill="#d0021b"/>
<circle cx="103.23" cy="398.88" r="1.05" fill="#d0021b"/>
<circle cx="102.28" cy="398.51" r="1.05" fill="#d0021b"/>
<circle cx="103.39" cy="396.04" r="1.05" fill="#d0021b"/>
<circle cx="111.78" cy="453.70" r="1.05" fill="#d0021b"/>
<circle cx="113.00" cy="435.63" r="1.05" fill="#d0021b"/>
<circle cx="113.39" cy="431.58" r="1.05" fill="#d0021b"/>
<circle cx="112.65" cy="428.37" r="1.05" fill="#d0021b"/>
<circle cx="112.88" cy="426.42" r="1.05" fill="#d0021b"/>
<circle cx="111.14" cy="421.79" r="1.05" fill="#d0021b"/>
<circle cx="113.35" cy="418.13" r="1.05" fill="#d0021b"/>
<circle cx="111.98" cy="413.96" r="1.05" fill="#d0021b"/>
<circle cx="113.28" cy="410.49" r="1.05" fill="#d0021b"/>
<circle cx="113.16" cy="403.76" r="1.05" fill="#d0021b"/>
<circle cx="111.06" cy="402.33" r="1.05" fill="#d0021b"/>
<circle cx="112.81" cy="400.53" r="1.05" fill="#d0021b"/>
<circle cx="112.26" cy="397.18" r="1.05" fill="#d0021b"/>
<circle cx="120.40" cy="455.98" r="1.05" fill="#d0021b"/>
<circle cx="119.91" cy="442.80" r="1.05" fill="#d0021b"/>
<circle cx="120.59" cy="436.99" r="1.05" fill="#d0021b"/>
<circle cx="120.07" cy="434.67" r="1.05" fill="#d0021b"/>
<circle cx="119.28" cy="433.18" r="1.05" fill="#d0021b"/>
<circle cx="119.68" cy="429.29" r="1.05" fill="#d0021b"/>
<circle cx="119.63" cy="427.35" r="1.05" fill="#d0021b"/>
<circle cx="121.80" cy="421.85" r="1.05" fill="#d0021b"/>
<circle cx="121.08" cy="419.74" r="1.05" fill="#d0021b"/>
<circle cx="121.68" cy="416.56" r="1.05" fill="#d0021b"/>
<circle cx="119.65" cy="413.77" r="1.05" fill="#d0021b"/>
<circle cx="120.75" cy="407.53" r="1.05" fill="#d0021b"/>
<circle cx="129.18" cy="463.39" r="1.05" fill="#d0021b"/>
<circle cx="129.37" cy="457.55" r="1.05" fill="#d0021b"/>
<circle cx="130.22" cy="448.70" r="1.05" fill="#d0021b"/>
<circle cx="128.04" cy="437.14" r="1.05" fill="#d0021b"/>
<circle cx="130.53" cy="429.70" r="1.05" fill="#d0021b"/>
<circle cx="129.51" cy="420.12" r="1.05" fill="#d0021b"/>
<circle cx="129.09" cy="395.56" r="1.05" fill="#d0021b"/>
<circle cx="137.64" cy="468.71" r="1.05" fill="#d0021b"/>
<circle cx="138.47" cy="458.69" r="1.05" fill="#d0021b"/>
<circle cx="137.56" cy="445.99" r="1.05" fill="#d0021b"/>
<circle cx="136.82" cy="428.83" r="1.05" fill="#d0021b"/>
<circle cx="138.41" cy="425.95" r="1.05" fill="#d0021b"/>
<circle cx="137.45" cy="412.85" r="1.05" fill="#d0021b"/>
<circle cx="146.38" cy="459.40" r="1.05" fill="#d0021b"/>
<circle cx="147.66" cy="435.18" r="1.05" fill="#d0021b"/>
<circle cx="146.54" cy="423.85" r="1.05" fill="#d0021b"/>
<circle cx="146.40" cy="415.23" r="1.05" fill="#d0021b"/>
<line x1="36.9" y1="470.80" x2="151.80" y2="470.80" stroke="#000" stroke-width="1.1"/>
<line x1="43.40" y1="470.80" x2="43.40" y2="474.40" stroke="#000" stroke-width="0.9"/>
<line x1="51.97" y1="470.80" x2="51.97" y2="474.40" stroke="#000" stroke-width="0.9"/>
<line x1="60.55" y1="470.80" x2="60.55" y2="474.40" stroke="#000" stroke-width="0.9"/>
<line x1="69.12" y1="470.80" x2="69.12" y2="474.40" stroke="#000" stroke-width="0.9"/>
<line x1="77.70" y1="470.80" x2="77.70" y2="474.40" stroke="#000" stroke-width="0.9"/>
<line x1="86.28" y1="470.80" x2="86.28" y2="474.40" stroke="#000" stroke-width="0.9"/>
<line x1="94.85" y1="470.80" x2="94.85" y2="474.40" stroke="#000" stroke-width="0.9"/>
<line x1="103.42" y1="470.80" x2="103.42" y2="474.40" stroke="#000" stroke-width="0.9"/>
<line x1="112.00" y1="470.80" x2="112.00" y2="474.40" stroke="#000" stroke-width="0.9"/>
<line x1="120.57" y1="470.80" x2="120.57" y2="474.40" stroke="#000" stroke-width="0.9"/>
<line x1="129.15" y1="470.80" x2="129.15" y2="474.40" stroke="#000" stroke-width="0.9"/>
<line x1="137.72" y1="470.80" x2="137.72" y2="474.40" stroke="#000" stroke-width="0.9"/>
<line x1="146.30" y1="470.80" x2="146.30" y2="474.40" stroke="#000" stroke-width="0.9"/>
<line x1="37.4" y1="372.80" x2="37.4" y2="471.30" stroke="#000" stroke-width="1.1"/>
<line x1="33.9" y1="470.80" x2="37.4" y2="470.80" stroke="#000" stroke-width="0.9"/>
<text x="31.40" y="473.40" font-size="7.4" text-anchor="end" fill="#1a1a1a" stroke="#1a1a1a" stroke-width="0.15">0</text>
<line x1="35.4" y1="467.00" x2="37.4" y2="467.00" stroke="#000" stroke-width="0.7"/>
<line x1="35.4" y1="463.20" x2="37.4" y2="463.20" stroke="#000" stroke-width="0.7"/>
<line x1="35.4" y1="459.40" x2="37.4" y2="459.40" stroke="#000" stroke-width="0.7"/>
<line x1="35.4" y1="455.60" x2="37.4" y2="455.60" stroke="#000" stroke-width="0.7"/>
<line x1="33.9" y1="451.80" x2="37.4" y2="451.80" stroke="#000" stroke-width="0.9"/>
<text x="31.40" y="454.40" font-size="7.4" text-anchor="end" fill="#1a1a1a" stroke="#1a1a1a" stroke-width="0.15">20</text>
<line x1="35.4" y1="448.00" x2="37.4" y2="448.00" stroke="#000" stroke-width="0.7"/>
<line x1="35.4" y1="444.20" x2="37.4" y2="444.20" stroke="#000" stroke-width="0.7"/>
<line x1="35.4" y1="440.40" x2="37.4" y2="440.40" stroke="#000" stroke-width="0.7"/>
<line x1="35.4" y1="436.60" x2="37.4" y2="436.60" stroke="#000" stroke-width="0.7"/>
<line x1="33.9" y1="432.80" x2="37.4" y2="432.80" stroke="#000" stroke-width="0.9"/>
<text x="31.40" y="435.40" font-size="7.4" text-anchor="end" fill="#1a1a1a" stroke="#1a1a1a" stroke-width="0.15">40</text>
<line x1="35.4" y1="429.00" x2="37.4" y2="429.00" stroke="#000" stroke-width="0.7"/>
<line x1="35.4" y1="425.20" x2="37.4" y2="425.20" stroke="#000" stroke-width="0.7"/>
<line x1="35.4" y1="421.40" x2="37.4" y2="421.40" stroke="#000" stroke-width="0.7"/>
<line x1="35.4" y1="417.60" x2="37.4" y2="417.60" stroke="#000" stroke-width="0.7"/>
<line x1="33.9" y1="413.80" x2="37.4" y2="413.80" stroke="#000" stroke-width="0.9"/>
<text x="31.40" y="416.40" font-size="7.4" text-anchor="end" fill="#1a1a1a" stroke="#1a1a1a" stroke-width="0.15">60</text>
<line x1="35.4" y1="410.00" x2="37.4" y2="410.00" stroke="#000" stroke-width="0.7"/>
<line x1="35.4" y1="406.20" x2="37.4" y2="406.20" stroke="#000" stroke-width="0.7"/>
<line x1="35.4" y1="402.40" x2="37.4" y2="402.40" stroke="#000" stroke-width="0.7"/>
<line x1="35.4" y1="398.60" x2="37.4" y2="398.60" stroke="#000" stroke-width="0.7"/>
<line x1="33.9" y1="394.80" x2="37.4" y2="394.80" stroke="#000" stroke-width="0.9"/>
<text x="31.40" y="397.40" font-size="7.4" text-anchor="end" fill="#1a1a1a" stroke="#1a1a1a" stroke-width="0.15">80</text>
<line x1="35.4" y1="391.00" x2="37.4" y2="391.00" stroke="#000" stroke-width="0.7"/>
<line x1="35.4" y1="387.20" x2="37.4" y2="387.20" stroke="#000" stroke-width="0.7"/>
<line x1="35.4" y1="383.40" x2="37.4" y2="383.40" stroke="#000" stroke-width="0.7"/>
<line x1="35.4" y1="379.60" x2="37.4" y2="379.60" stroke="#000" stroke-width="0.7"/>
<line x1="33.9" y1="375.80" x2="37.4" y2="375.80" stroke="#000" stroke-width="0.9"/>
<text x="31.40" y="378.40" font-size="7.4" text-anchor="end" fill="#1a1a1a" stroke="#1a1a1a" stroke-width="0.15">100</text>
<text transform="translate(17.80,421.5) rotate(-90)" text-anchor="middle" font-size="9.4" font-weight="bold" textLength="50.6" lengthAdjust="spacingAndGlyphs" fill="#1a1a1a">% of CD8<tspan baseline-shift="2.2" font-size="6.4">+</tspan> T cells</text>
<text transform="translate(45.30,482.10) rotate(-45)" text-anchor="end" font-size="6.8" font-weight="bold" textLength="18.51" lengthAdjust="spacingAndGlyphs" fill="#1a1a1a" stroke="#1a1a1a" stroke-width="0.2">Donor 00</text>
<text transform="translate(53.87,482.10) rotate(-45)" text-anchor="end" font-size="6.8" font-weight="bold" textLength="37.26" lengthAdjust="spacingAndGlyphs" fill="#1a1a1a" stroke="#1a1a1a" stroke-width="0.2">Recipient pre-HCT</text>
<text transform="translate(62.45,482.10) rotate(-45)" text-anchor="end" font-size="6.8" font-weight="bold" textLength="14.39" lengthAdjust="spacingAndGlyphs" fill="#1a1a1a" stroke="#1a1a1a" stroke-width="0.2">Day +3</text>
<text transform="translate(71.03,482.10) rotate(-45)" text-anchor="end" font-size="6.8" font-weight="bold" textLength="14.39" lengthAdjust="spacingAndGlyphs" fill="#1a1a1a" stroke="#1a1a1a" stroke-width="0.2">Day +7</text>
<text transform="translate(79.60,482.10) rotate(-45)" text-anchor="end" font-size="6.8" font-weight="bold" textLength="16.89" lengthAdjust="spacingAndGlyphs" fill="#1a1a1a" stroke="#1a1a1a" stroke-width="0.2">Day +14</text>
<text transform="translate(88.18,482.10) rotate(-45)" text-anchor="end" font-size="6.8" font-weight="bold" textLength="16.89" lengthAdjust="spacingAndGlyphs" fill="#1a1a1a" stroke="#1a1a1a" stroke-width="0.2">Day +28</text>
<text transform="translate(96.75,482.10) rotate(-45)" text-anchor="end" font-size="6.8" font-weight="bold" textLength="16.89" lengthAdjust="spacingAndGlyphs" fill="#1a1a1a" stroke="#1a1a1a" stroke-width="0.2">Day +60</text>
<text transform="translate(105.32,482.10) rotate(-45)" text-anchor="end" font-size="6.8" font-weight="bold" textLength="19.39" lengthAdjust="spacingAndGlyphs" fill="#1a1a1a" stroke="#1a1a1a" stroke-width="0.2">Day +100</text>
<text transform="translate(113.90,482.10) rotate(-45)" text-anchor="end" font-size="6.8" font-weight="bold" textLength="19.39" lengthAdjust="spacingAndGlyphs" fill="#1a1a1a" stroke="#1a1a1a" stroke-width="0.2">Day +180</text>
<text transform="translate(122.47,482.10) rotate(-45)" text-anchor="end" font-size="6.8" font-weight="bold" textLength="12.51" lengthAdjust="spacingAndGlyphs" fill="#1a1a1a" stroke="#1a1a1a" stroke-width="0.2">1 year</text>
<text transform="translate(131.05,482.10) rotate(-45)" text-anchor="end" font-size="6.8" font-weight="bold" textLength="18.51" lengthAdjust="spacingAndGlyphs" fill="#1a1a1a" stroke="#1a1a1a" stroke-width="0.2">1.5 years</text>
<text transform="translate(139.62,482.10) rotate(-45)" text-anchor="end" font-size="6.8" font-weight="bold" textLength="14.76" lengthAdjust="spacingAndGlyphs" fill="#1a1a1a" stroke="#1a1a1a" stroke-width="0.2">2 years</text>
<text transform="translate(148.20,482.10) rotate(-45)" text-anchor="end" font-size="6.8" font-weight="bold" textLength="14.76" lengthAdjust="spacingAndGlyphs" fill="#1a1a1a" stroke="#1a1a1a" stroke-width="0.2">3 years</text>
<line x1="217.10" y1="450.19" x2="217.10" y2="469.85" stroke="#474747" stroke-width="1.4"/>
<line x1="215.10" y1="450.19" x2="219.10" y2="450.19" stroke="#222" stroke-width="1"/>
<line x1="215.10" y1="469.85" x2="219.10" y2="469.85" stroke="#222" stroke-width="1"/>
<line x1="225.63" y1="446.76" x2="225.63" y2="470.80" stroke="#474747" stroke-width="1.4"/>
<line x1="223.63" y1="446.76" x2="227.63" y2="446.76" stroke="#222" stroke-width="1"/>
<line x1="223.63" y1="470.80" x2="227.63" y2="470.80" stroke="#222" stroke-width="1"/>
<line x1="234.16" y1="398.31" x2="234.16" y2="470.80" stroke="#474747" stroke-width="1.4"/>
<line x1="232.16" y1="398.31" x2="236.16" y2="398.31" stroke="#222" stroke-width="1"/>
<line x1="232.16" y1="470.80" x2="236.16" y2="470.80" stroke="#222" stroke-width="1"/>
<line x1="242.69" y1="414.47" x2="242.69" y2="470.80" stroke="#474747" stroke-width="1.4"/>
<line x1="240.69" y1="414.47" x2="244.69" y2="414.47" stroke="#222" stroke-width="1"/>
<line x1="240.69" y1="470.80" x2="244.69" y2="470.80" stroke="#222" stroke-width="1"/>
<line x1="251.22" y1="403.35" x2="251.22" y2="470.80" stroke="#474747" stroke-width="1.4"/>
<line x1="249.22" y1="403.35" x2="253.22" y2="403.35" stroke="#222" stroke-width="1"/>
<line x1="249.22" y1="470.80" x2="253.22" y2="470.80" stroke="#222" stroke-width="1"/>
<line x1="259.75" y1="437.55" x2="259.75" y2="470.80" stroke="#474747" stroke-width="1.4"/>
<line x1="257.75" y1="437.55" x2="261.75" y2="437.55" stroke="#222" stroke-width="1"/>
<line x1="257.75" y1="470.80" x2="261.75" y2="470.80" stroke="#222" stroke-width="1"/>
<line x1="268.28" y1="437.07" x2="268.28" y2="470.80" stroke="#474747" stroke-width="1.4"/>
<line x1="266.28" y1="437.07" x2="270.28" y2="437.07" stroke="#222" stroke-width="1"/>
<line x1="266.28" y1="470.80" x2="270.28" y2="470.80" stroke="#222" stroke-width="1"/>
<line x1="276.81" y1="432.90" x2="276.81" y2="470.80" stroke="#474747" stroke-width="1.4"/>
<line x1="274.81" y1="432.90" x2="278.81" y2="432.90" stroke="#222" stroke-width="1"/>
<line x1="274.81" y1="470.80" x2="278.81" y2="470.80" stroke="#222" stroke-width="1"/>
<line x1="285.34" y1="435.94" x2="285.34" y2="467.95" stroke="#474747" stroke-width="1.4"/>
<line x1="283.34" y1="435.94" x2="287.34" y2="435.94" stroke="#222" stroke-width="1"/>
<line x1="283.34" y1="467.95" x2="287.34" y2="467.95" stroke="#222" stroke-width="1"/>
<line x1="293.87" y1="422.06" x2="293.87" y2="467.95" stroke="#474747" stroke-width="1.4"/>
<line x1="291.87" y1="422.06" x2="295.87" y2="422.06" stroke="#222" stroke-width="1"/>
<line x1="291.87" y1="467.95" x2="295.87" y2="467.95" stroke="#222" stroke-width="1"/>
<line x1="302.40" y1="447.91" x2="302.40" y2="468.90" stroke="#474747" stroke-width="1.4"/>
<line x1="300.40" y1="447.91" x2="304.40" y2="447.91" stroke="#222" stroke-width="1"/>
<line x1="300.40" y1="468.90" x2="304.40" y2="468.90" stroke="#222" stroke-width="1"/>
<line x1="310.93" y1="449.71" x2="310.93" y2="470.80" stroke="#474747" stroke-width="1.4"/>
<line x1="308.93" y1="449.71" x2="312.93" y2="449.71" stroke="#222" stroke-width="1"/>
<line x1="308.93" y1="470.80" x2="312.93" y2="470.80" stroke="#222" stroke-width="1"/>
<line x1="319.46" y1="450.19" x2="319.46" y2="469.85" stroke="#474747" stroke-width="1.4"/>
<line x1="317.46" y1="450.19" x2="321.46" y2="450.19" stroke="#222" stroke-width="1"/>
<line x1="317.46" y1="469.85" x2="321.46" y2="469.85" stroke="#222" stroke-width="1"/>
<rect x="214.20" y="456.65" width="5.8" height="8.55" fill="#e693a6"/>
<rect x="222.73" y="459.50" width="5.8" height="6.84" fill="#e693a6"/>
<rect x="231.26" y="447.43" width="5.8" height="17.29" fill="#e693a6"/>
<rect x="239.79" y="450.19" width="5.8" height="16.15" fill="#e693a6"/>
<rect x="248.32" y="461.78" width="5.8" height="8.55" fill="#e693a6"/>
<rect x="256.85" y="460.16" width="5.8" height="10.16" fill="#e693a6"/>
<rect x="265.38" y="451.32" width="5.8" height="19.00" fill="#e693a6"/>
<rect x="273.91" y="452.56" width="5.8" height="13.78" fill="#e693a6"/>
<rect x="282.44" y="443.25" width="5.8" height="21.94" fill="#e693a6"/>
<rect x="290.97" y="450.94" width="5.8" height="14.25" fill="#e693a6"/>
<rect x="299.50" y="455.50" width="5.8" height="7.41" fill="#e693a6"/>
<rect x="308.03" y="451.32" width="5.8" height="19.00" fill="#e693a6"/>
<rect x="316.56" y="452.56" width="5.8" height="14.54" fill="#e693a6"/>
<line x1="214.20" y1="460.63" x2="220.00" y2="460.63" stroke="#111" stroke-width="1.3"/>
<line x1="222.73" y1="462.92" x2="228.53" y2="462.92" stroke="#111" stroke-width="1.3"/>
<line x1="231.26" y1="458.26" x2="237.06" y2="458.26" stroke="#111" stroke-width="1.3"/>
<line x1="239.79" y1="458.26" x2="245.59" y2="458.26" stroke="#111" stroke-width="1.3"/>
<line x1="248.32" y1="467.57" x2="254.12" y2="467.57" stroke="#111" stroke-width="1.3"/>
<line x1="256.85" y1="468.71" x2="262.65" y2="468.71" stroke="#111" stroke-width="1.3"/>
<line x1="265.38" y1="461.78" x2="271.18" y2="461.78" stroke="#111" stroke-width="1.3"/>
<line x1="273.91" y1="458.26" x2="279.71" y2="458.26" stroke="#111" stroke-width="1.3"/>
<line x1="282.44" y1="455.98" x2="288.24" y2="455.98" stroke="#111" stroke-width="1.3"/>
<line x1="290.97" y1="458.74" x2="296.77" y2="458.74" stroke="#111" stroke-width="1.3"/>
<line x1="299.50" y1="456.46" x2="305.30" y2="456.46" stroke="#111" stroke-width="1.3"/>
<line x1="308.03" y1="460.16" x2="313.83" y2="460.16" stroke="#111" stroke-width="1.3"/>
<line x1="316.56" y1="460.63" x2="322.36" y2="460.63" stroke="#111" stroke-width="1.3"/>
<circle cx="217.19" cy="469.85" r="1.05" fill="#d0021b"/>
<circle cx="215.76" cy="466.41" r="1.05" fill="#d0021b"/>
<circle cx="215.71" cy="465.48" r="1.05" fill="#d0021b"/>
<circle cx="216.69" cy="464.93" r="1.05" fill="#d0021b"/>
<circle cx="216.00" cy="463.29" r="1.05" fill="#d0021b"/>
<circle cx="216.70" cy="461.27" r="1.05" fill="#d0021b"/>
<circle cx="216.33" cy="460.03" r="1.05" fill="#d0021b"/>
<circle cx="217.33" cy="458.63" r="1.05" fill="#d0021b"/>
<circle cx="217.35" cy="456.94" r="1.05" fill="#d0021b"/>
<circle cx="216.27" cy="456.62" r="1.05" fill="#d0021b"/>
<circle cx="217.45" cy="455.60" r="1.05" fill="#d0021b"/>
<circle cx="217.08" cy="450.19" r="1.05" fill="#d0021b"/>
<circle cx="225.72" cy="470.80" r="1.05" fill="#d0021b"/>
<circle cx="225.80" cy="467.88" r="1.05" fill="#d0021b"/>
<circle cx="225.21" cy="466.39" r="1.05" fill="#d0021b"/>
<circle cx="226.04" cy="466.26" r="1.05" fill="#d0021b"/>
<circle cx="225.47" cy="465.28" r="1.05" fill="#d0021b"/>
<circle cx="226.85" cy="464.27" r="1.05" fill="#d0021b"/>
<circle cx="226.28" cy="462.81" r="1.05" fill="#d0021b"/>
<circle cx="224.93" cy="461.59" r="1.05" fill="#d0021b"/>
<circle cx="226.76" cy="460.60" r="1.05" fill="#d0021b"/>
<circle cx="224.35" cy="459.83" r="1.05" fill="#d0021b"/>
<circle cx="225.72" cy="459.20" r="1.05" fill="#d0021b"/>
<circle cx="225.37" cy="457.47" r="1.05" fill="#d0021b"/>
<circle cx="225.47" cy="446.76" r="1.05" fill="#d0021b"/>
<circle cx="234.35" cy="470.80" r="1.05" fill="#d0021b"/>
<circle cx="233.25" cy="466.72" r="1.05" fill="#d0021b"/>
<circle cx="233.63" cy="464.76" r="1.05" fill="#d0021b"/>
<circle cx="233.60" cy="464.38" r="1.05" fill="#d0021b"/>
<circle cx="232.90" cy="461.41" r="1.05" fill="#d0021b"/>
<circle cx="235.25" cy="458.67" r="1.05" fill="#d0021b"/>
<circle cx="234.95" cy="457.36" r="1.05" fill="#d0021b"/>
<circle cx="234.76" cy="453.60" r="1.05" fill="#d0021b"/>
<circle cx="232.78" cy="448.96" r="1.05" fill="#d0021b"/>
<circle cx="235.12" cy="446.46" r="1.05" fill="#d0021b"/>
<circle cx="234.85" cy="435.13" r="1.05" fill="#d0021b"/>
<circle cx="234.14" cy="398.31" r="1.05" fill="#d0021b"/>
<circle cx="242.55" cy="470.80" r="1.05" fill="#d0021b"/>
<circle cx="242.84" cy="467.25" r="1.05" fill="#d0021b"/>
<circle cx="242.51" cy="466.53" r="1.05" fill="#d0021b"/>
<circle cx="243.50" cy="466.19" r="1.05" fill="#d0021b"/>
<circle cx="242.76" cy="463.92" r="1.05" fill="#d0021b"/>
<circle cx="242.03" cy="461.21" r="1.05" fill="#d0021b"/>
<circle cx="243.09" cy="459.06" r="1.05" fill="#d0021b"/>
<circle cx="243.99" cy="456.06" r="1.05" fill="#d0021b"/>
<circle cx="241.90" cy="452.86" r="1.05" fill="#d0021b"/>
<circle cx="243.75" cy="450.47" r="1.05" fill="#d0021b"/>
<circle cx="241.33" cy="447.56" r="1.05" fill="#d0021b"/>
<circle cx="242.02" cy="439.24" r="1.05" fill="#d0021b"/>
<circle cx="242.53" cy="414.47" r="1.05" fill="#d0021b"/>
<circle cx="251.20" cy="470.80" r="1.05" fill="#d0021b"/>
<circle cx="252.17" cy="470.44" r="1.05" fill="#d0021b"/>
<circle cx="251.77" cy="470.34" r="1.05" fill="#d0021b"/>
<circle cx="252.22" cy="470.19" r="1.05" fill="#d0021b"/>
<circle cx="251.04" cy="469.63" r="1.05" fill="#d0021b"/>
<circle cx="251.85" cy="468.54" r="1.05" fill="#d0021b"/>
<circle cx="251.42" cy="468.06" r="1.05" fill="#d0021b"/>
<circle cx="250.68" cy="467.04" r="1.05" fill="#d0021b"/>
<circle cx="250.41" cy="464.61" r="1.05" fill="#d0021b"/>
<circle cx="251.56" cy="463.28" r="1.05" fill="#d0021b"/>
<circle cx="250.04" cy="461.73" r="1.05" fill="#d0021b"/>
<circle cx="252.37" cy="457.05" r="1.05" fill="#d0021b"/>
<circle cx="250.22" cy="437.79" r="1.05" fill="#d0021b"/>
<circle cx="250.94" cy="403.35" r="1.05" fill="#d0021b"/>
<circle cx="259.67" cy="470.80" r="1.05" fill="#d0021b"/>
<circle cx="260.64" cy="470.51" r="1.05" fill="#d0021b"/>
<circle cx="260.64" cy="470.34" r="1.05" fill="#d0021b"/>
<circle cx="260.85" cy="470.33" r="1.05" fill="#d0021b"/>
<circle cx="258.53" cy="469.98" r="1.05" fill="#d0021b"/>
<circle cx="260.78" cy="469.55" r="1.05" fill="#d0021b"/>
<circle cx="260.91" cy="469.09" r="1.05" fill="#d0021b"/>
<circle cx="260.99" cy="467.16" r="1.05" fill="#d0021b"/>
<circle cx="258.65" cy="464.82" r="1.05" fill="#d0021b"/>
<circle cx="258.93" cy="462.27" r="1.05" fill="#d0021b"/>
<circle cx="258.66" cy="460.13" r="1.05" fill="#d0021b"/>
<circle cx="258.45" cy="459.51" r="1.05" fill="#d0021b"/>
<circle cx="260.72" cy="453.09" r="1.05" fill="#d0021b"/>
<circle cx="259.94" cy="437.55" r="1.05" fill="#d0021b"/>
<circle cx="268.13" cy="470.80" r="1.05" fill="#d0021b"/>
<circle cx="267.67" cy="470.43" r="1.05" fill="#d0021b"/>
<circle cx="268.88" cy="470.33" r="1.05" fill="#d0021b"/>
<circle cx="267.91" cy="469.43" r="1.05" fill="#d0021b"/>
<circle cx="267.78" cy="467.43" r="1.05" fill="#d0021b"/>
<circle cx="269.58" cy="465.14" r="1.05" fill="#d0021b"/>
<circle cx="268.29" cy="462.52" r="1.05" fill="#d0021b"/>
<circle cx="269.26" cy="457.98" r="1.05" fill="#d0021b"/>
<circle cx="268.61" cy="456.01" r="1.05" fill="#d0021b"/>
<circle cx="266.97" cy="452.54" r="1.05" fill="#d0021b"/>
<circle cx="268.04" cy="450.84" r="1.05" fill="#d0021b"/>
<circle cx="268.10" cy="449.04" r="1.05" fill="#d0021b"/>
<circle cx="268.44" cy="437.07" r="1.05" fill="#d0021b"/>
<circle cx="277.10" cy="470.80" r="1.05" fill="#d0021b"/>
<circle cx="275.42" cy="467.64" r="1.05" fill="#d0021b"/>
<circle cx="276.78" cy="466.45" r="1.05" fill="#d0021b"/>
<circle cx="276.79" cy="465.65" r="1.05" fill="#d0021b"/>
<circle cx="277.64" cy="463.72" r="1.05" fill="#d0021b"/>
<circle cx="275.93" cy="460.11" r="1.05" fill="#d0021b"/>
<circle cx="276.79" cy="458.97" r="1.05" fill="#d0021b"/>
<circle cx="276.38" cy="456.11" r="1.05" fill="#d0021b"/>
<circle cx="277.74" cy="455.16" r="1.05" fill="#d0021b"/>
<circle cx="276.14" cy="453.61" r="1.05" fill="#d0021b"/>
<circle cx="278.05" cy="452.18" r="1.05" fill="#d0021b"/>
<circle cx="276.20" cy="446.29" r="1.05" fill="#d0021b"/>
<circle cx="276.64" cy="432.90" r="1.05" fill="#d0021b"/>
<circle cx="285.28" cy="467.95" r="1.05" fill="#d0021b"/>
<circle cx="286.43" cy="465.78" r="1.05" fill="#d0021b"/>
<circle cx="284.18" cy="465.30" r="1.05" fill="#d0021b"/>
<circle cx="286.43" cy="465.20" r="1.05" fill="#d0021b"/>
<circle cx="284.01" cy="461.38" r="1.05" fill="#d0021b"/>
<circle cx="284.52" cy="459.65" r="1.05" fill="#d0021b"/>
<circle cx="284.68" cy="455.19" r="1.05" fill="#d0021b"/>
<circle cx="286.46" cy="451.52" r="1.05" fill="#d0021b"/>
<circle cx="285.34" cy="447.36" r="1.05" fill="#d0021b"/>
<circle cx="285.00" cy="443.88" r="1.05" fill="#d0021b"/>
<circle cx="286.42" cy="443.04" r="1.05" fill="#d0021b"/>
<circle cx="284.59" cy="441.54" r="1.05" fill="#d0021b"/>
<circle cx="285.32" cy="435.94" r="1.05" fill="#d0021b"/>
<circle cx="293.67" cy="467.95" r="1.05" fill="#d0021b"/>
<circle cx="293.70" cy="465.78" r="1.05" fill="#d0021b"/>
<circle cx="294.64" cy="465.22" r="1.05" fill="#d0021b"/>
<circle cx="294.09" cy="463.74" r="1.05" fill="#d0021b"/>
<circle cx="292.82" cy="461.74" r="1.05" fill="#d0021b"/>
<circle cx="293.76" cy="460.04" r="1.05" fill="#d0021b"/>
<circle cx="294.95" cy="457.75" r="1.05" fill="#d0021b"/>
<circle cx="293.14" cy="455.47" r="1.05" fill="#d0021b"/>
<circle cx="293.01" cy="451.62" r="1.05" fill="#d0021b"/>
<circle cx="293.31" cy="450.07" r="1.05" fill="#d0021b"/>
<circle cx="294.44" cy="442.99" r="1.05" fill="#d0021b"/>
<circle cx="294.08" cy="422.06" r="1.05" fill="#d0021b"/>
<circle cx="302.20" cy="468.90" r="1.05" fill="#d0021b"/>
<circle cx="301.92" cy="463.28" r="1.05" fill="#d0021b"/>
<circle cx="301.53" cy="461.04" r="1.05" fill="#d0021b"/>
<circle cx="303.73" cy="457.11" r="1.05" fill="#d0021b"/>
<circle cx="303.04" cy="455.98" r="1.05" fill="#d0021b"/>
<circle cx="301.29" cy="455.39" r="1.05" fill="#d0021b"/>
<circle cx="302.68" cy="447.91" r="1.05" fill="#d0021b"/>
<circle cx="311.07" cy="470.80" r="1.05" fill="#d0021b"/>
<circle cx="310.75" cy="470.34" r="1.05" fill="#d0021b"/>
<circle cx="310.08" cy="464.10" r="1.05" fill="#d0021b"/>
<circle cx="311.32" cy="455.22" r="1.05" fill="#d0021b"/>
<circle cx="309.83" cy="451.30" r="1.05" fill="#d0021b"/>
<circle cx="310.75" cy="449.71" r="1.05" fill="#d0021b"/>
<circle cx="319.40" cy="469.85" r="1.05" fill="#d0021b"/>
<circle cx="320.27" cy="464.37" r="1.05" fill="#d0021b"/>
<circle cx="320.00" cy="459.23" r="1.05" fill="#d0021b"/>
<circle cx="319.46" cy="450.19" r="1.05" fill="#d0021b"/>
<line x1="210.7" y1="470.80" x2="324.96" y2="470.80" stroke="#000" stroke-width="1.1"/>
<line x1="217.10" y1="470.80" x2="217.10" y2="474.40" stroke="#000" stroke-width="0.9"/>
<line x1="225.63" y1="470.80" x2="225.63" y2="474.40" stroke="#000" stroke-width="0.9"/>
<line x1="234.16" y1="470.80" x2="234.16" y2="474.40" stroke="#000" stroke-width="0.9"/>
<line x1="242.69" y1="470.80" x2="242.69" y2="474.40" stroke="#000" stroke-width="0.9"/>
<line x1="251.22" y1="470.80" x2="251.22" y2="474.40" stroke="#000" stroke-width="0.9"/>
<line x1="259.75" y1="470.80" x2="259.75" y2="474.40" stroke="#000" stroke-width="0.9"/>
<line x1="268.28" y1="470.80" x2="268.28" y2="474.40" stroke="#000" stroke-width="0.9"/>
<line x1="276.81" y1="470.80" x2="276.81" y2="474.40" stroke="#000" stroke-width="0.9"/>
<line x1="285.34" y1="470.80" x2="285.34" y2="474.40" stroke="#000" stroke-width="0.9"/>
<line x1="293.87" y1="470.80" x2="293.87" y2="474.40" stroke="#000" stroke-width="0.9"/>
<line x1="302.40" y1="470.80" x2="302.40" y2="474.40" stroke="#000" stroke-width="0.9"/>
<line x1="310.93" y1="470.80" x2="310.93" y2="474.40" stroke="#000" stroke-width="0.9"/>
<line x1="319.46" y1="470.80" x2="319.46" y2="474.40" stroke="#000" stroke-width="0.9"/>
<line x1="211.2" y1="372.80" x2="211.2" y2="471.30" stroke="#000" stroke-width="1.1"/>
<line x1="207.7" y1="470.80" x2="211.2" y2="470.80" stroke="#000" stroke-width="0.9"/>
<text x="205.20" y="473.40" font-size="7.4" text-anchor="end" fill="#1a1a1a" stroke="#1a1a1a" stroke-width="0.15">0</text>
<line x1="209.2" y1="467.00" x2="211.2" y2="467.00" stroke="#000" stroke-width="0.7"/>
<line x1="209.2" y1="463.20" x2="211.2" y2="463.20" stroke="#000" stroke-width="0.7"/>
<line x1="209.2" y1="459.40" x2="211.2" y2="459.40" stroke="#000" stroke-width="0.7"/>
<line x1="209.2" y1="455.60" x2="211.2" y2="455.60" stroke="#000" stroke-width="0.7"/>
<line x1="207.7" y1="451.80" x2="211.2" y2="451.80" stroke="#000" stroke-width="0.9"/>
<text x="205.20" y="454.40" font-size="7.4" text-anchor="end" fill="#1a1a1a" stroke="#1a1a1a" stroke-width="0.15">20</text>
<line x1="209.2" y1="448.00" x2="211.2" y2="448.00" stroke="#000" stroke-width="0.7"/>
<line x1="209.2" y1="444.20" x2="211.2" y2="444.20" stroke="#000" stroke-width="0.7"/>
<line x1="209.2" y1="440.40" x2="211.2" y2="440.40" stroke="#000" stroke-width="0.7"/>
<line x1="209.2" y1="436.60" x2="211.2" y2="436.60" stroke="#000" stroke-width="0.7"/>
<line x1="207.7" y1="432.80" x2="211.2" y2="432.80" stroke="#000" stroke-width="0.9"/>
<text x="205.20" y="435.40" font-size="7.4" text-anchor="end" fill="#1a1a1a" stroke="#1a1a1a" stroke-width="0.15">40</text>
<line x1="209.2" y1="429.00" x2="211.2" y2="429.00" stroke="#000" stroke-width="0.7"/>
<line x1="209.2" y1="425.20" x2="211.2" y2="425.20" stroke="#000" stroke-width="0.7"/>
<line x1="209.2" y1="421.40" x2="211.2" y2="421.40" stroke="#000" stroke-width="0.7"/>
<line x1="209.2" y1="417.60" x2="211.2" y2="417.60" stroke="#000" stroke-width="0.7"/>
<line x1="207.7" y1="413.80" x2="211.2" y2="413.80" stroke="#000" stroke-width="0.9"/>
<text x="205.20" y="416.40" font-size="7.4" text-anchor="end" fill="#1a1a1a" stroke="#1a1a1a" stroke-width="0.15">60</text>
<line x1="209.2" y1="410.00" x2="211.2" y2="410.00" stroke="#000" stroke-width="0.7"/>
<line x1="209.2" y1="406.20" x2="211.2" y2="406.20" stroke="#000" stroke-width="0.7"/>
<line x1="209.2" y1="402.40" x2="211.2" y2="402.40" stroke="#000" stroke-width="0.7"/>
<line x1="209.2" y1="398.60" x2="211.2" y2="398.60" stroke="#000" stroke-width="0.7"/>
<line x1="207.7" y1="394.80" x2="211.2" y2="394.80" stroke="#000" stroke-width="0.9"/>
<text x="205.20" y="397.40" font-size="7.4" text-anchor="end" fill="#1a1a1a" stroke="#1a1a1a" stroke-width="0.15">80</text>
<line x1="209.2" y1="391.00" x2="211.2" y2="391.00" stroke="#000" stroke-width="0.7"/>
<line x1="209.2" y1="387.20" x2="211.2" y2="387.20" stroke="#000" stroke-width="0.7"/>
<line x1="209.2" y1="383.40" x2="211.2" y2="383.40" stroke="#000" stroke-width="0.7"/>
<line x1="209.2" y1="379.60" x2="211.2" y2="379.60" stroke="#000" stroke-width="0.7"/>
<line x1="207.7" y1="375.80" x2="211.2" y2="375.80" stroke="#000" stroke-width="0.9"/>
<text x="205.20" y="378.40" font-size="7.4" text-anchor="end" fill="#1a1a1a" stroke="#1a1a1a" stroke-width="0.15">100</text>
<text transform="translate(191.60,421.5) rotate(-90)" text-anchor="middle" font-size="9.4" font-weight="bold" textLength="50.6" lengthAdjust="spacingAndGlyphs" fill="#1a1a1a">% of CD8<tspan baseline-shift="2.2" font-size="6.4">+</tspan> T cells</text>
<text transform="translate(219.00,482.10) rotate(-45)" text-anchor="end" font-size="6.8" font-weight="bold" textLength="18.51" lengthAdjust="spacingAndGlyphs" fill="#1a1a1a" stroke="#1a1a1a" stroke-width="0.2">Donor 00</text>
<text transform="translate(227.53,482.10) rotate(-45)" text-anchor="end" font-size="6.8" font-weight="bold" textLength="37.26" lengthAdjust="spacingAndGlyphs" fill="#1a1a1a" stroke="#1a1a1a" stroke-width="0.2">Recipient pre-HCT</text>
<text transform="translate(236.06,482.10) rotate(-45)" text-anchor="end" font-size="6.8" font-weight="bold" textLength="14.39" lengthAdjust="spacingAndGlyphs" fill="#1a1a1a" stroke="#1a1a1a" stroke-width="0.2">Day +3</text>
<text transform="translate(244.59,482.10) rotate(-45)" text-anchor="end" font-size="6.8" font-weight="bold" textLength="14.39" lengthAdjust="spacingAndGlyphs" fill="#1a1a1a" stroke="#1a1a1a" stroke-width="0.2">Day +7</text>
<text transform="translate(253.12,482.10) rotate(-45)" text-anchor="end" font-size="6.8" font-weight="bold" textLength="16.89" lengthAdjust="spacingAndGlyphs" fill="#1a1a1a" stroke="#1a1a1a" stroke-width="0.2">Day +14</text>
<text transform="translate(261.65,482.10) rotate(-45)" text-anchor="end" font-size="6.8" font-weight="bold" textLength="16.89" lengthAdjust="spacingAndGlyphs" fill="#1a1a1a" stroke="#1a1a1a" stroke-width="0.2">Day +28</text>
<text transform="translate(270.18,482.10) rotate(-45)" text-anchor="end" font-size="6.8" font-weight="bold" textLength="16.89" lengthAdjust="spacingAndGlyphs" fill="#1a1a1a" stroke="#1a1a1a" stroke-width="0.2">Day +60</text>
<text transform="translate(278.71,482.10) rotate(-45)" text-anchor="end" font-size="6.8" font-weight="bold" textLength="19.39" lengthAdjust="spacingAndGlyphs" fill="#1a1a1a" stroke="#1a1a1a" stroke-width="0.2">Day +100</text>
<text transform="translate(287.24,482.10) rotate(-45)" text-anchor="end" font-size="6.8" font-weight="bold" textLength="19.39" lengthAdjust="spacingAndGlyphs" fill="#1a1a1a" stroke="#1a1a1a" stroke-width="0.2">Day +180</text>
<text transform="translate(295.77,482.10) rotate(-45)" text-anchor="end" font-size="6.8" font-weight="bold" textLength="12.51" lengthAdjust="spacingAndGlyphs" fill="#1a1a1a" stroke="#1a1a1a" stroke-width="0.2">1 year</text>
<text transform="translate(304.30,482.10) rotate(-45)" text-anchor="end" font-size="6.8" font-weight="bold" textLength="18.51" lengthAdjust="spacingAndGlyphs" fill="#1a1a1a" stroke="#1a1a1a" stroke-width="0.2">1.5 years</text>
<text transform="translate(312.83,482.10) rotate(-45)" text-anchor="end" font-size="6.8" font-weight="bold" textLength="14.76" lengthAdjust="spacingAndGlyphs" fill="#1a1a1a" stroke="#1a1a1a" stroke-width="0.2">2 years</text>
<text transform="translate(321.36,482.10) rotate(-45)" text-anchor="end" font-size="6.8" font-weight="bold" textLength="14.76" lengthAdjust="spacingAndGlyphs" fill="#1a1a1a" stroke="#1a1a1a" stroke-width="0.2">3 years</text>
<line x1="389.80" y1="459.21" x2="389.80" y2="468.90" stroke="#474747" stroke-width="1.4"/>
<line x1="387.80" y1="459.21" x2="391.80" y2="459.21" stroke="#222" stroke-width="1"/>
<line x1="387.80" y1="468.90" x2="391.80" y2="468.90" stroke="#222" stroke-width="1"/>
<line x1="398.38" y1="441.92" x2="398.38" y2="470.80" stroke="#474747" stroke-width="1.4"/>
<line x1="396.38" y1="441.92" x2="400.38" y2="441.92" stroke="#222" stroke-width="1"/>
<line x1="396.38" y1="470.80" x2="400.38" y2="470.80" stroke="#222" stroke-width="1"/>
<line x1="406.95" y1="423.03" x2="406.95" y2="470.01" stroke="#474747" stroke-width="1.4"/>
<line x1="404.95" y1="423.03" x2="408.95" y2="423.03" stroke="#222" stroke-width="1"/>
<line x1="404.95" y1="470.01" x2="408.95" y2="470.01" stroke="#222" stroke-width="1"/>
<line x1="415.53" y1="391.93" x2="415.53" y2="470.01" stroke="#474747" stroke-width="1.4"/>
<line x1="413.53" y1="391.93" x2="417.53" y2="391.93" stroke="#222" stroke-width="1"/>
<line x1="413.53" y1="470.01" x2="417.53" y2="470.01" stroke="#222" stroke-width="1"/>
<line x1="424.10" y1="385.42" x2="424.10" y2="469.21" stroke="#474747" stroke-width="1.4"/>
<line x1="422.10" y1="385.42" x2="426.10" y2="385.42" stroke="#222" stroke-width="1"/>
<line x1="422.10" y1="469.21" x2="426.10" y2="469.21" stroke="#222" stroke-width="1"/>
<line x1="432.68" y1="421.13" x2="432.68" y2="466.99" stroke="#474747" stroke-width="1.4"/>
<line x1="430.68" y1="421.13" x2="434.68" y2="421.13" stroke="#222" stroke-width="1"/>
<line x1="430.68" y1="466.99" x2="434.68" y2="466.99" stroke="#222" stroke-width="1"/>
<line x1="441.25" y1="445.41" x2="441.25" y2="470.80" stroke="#474747" stroke-width="1.4"/>
<line x1="439.25" y1="445.41" x2="443.25" y2="445.41" stroke="#222" stroke-width="1"/>
<line x1="439.25" y1="470.80" x2="443.25" y2="470.80" stroke="#222" stroke-width="1"/>
<line x1="449.82" y1="395.10" x2="449.82" y2="470.80" stroke="#474747" stroke-width="1.4"/>
<line x1="447.82" y1="395.10" x2="451.82" y2="395.10" stroke="#222" stroke-width="1"/>
<line x1="447.82" y1="470.80" x2="451.82" y2="470.80" stroke="#222" stroke-width="1"/>
<line x1="458.40" y1="430.01" x2="458.40" y2="470.80" stroke="#474747" stroke-width="1.4"/>
<line x1="456.40" y1="430.01" x2="460.40" y2="430.01" stroke="#222" stroke-width="1"/>
<line x1="456.40" y1="470.80" x2="460.40" y2="470.80" stroke="#222" stroke-width="1"/>
<line x1="466.98" y1="452.39" x2="466.98" y2="470.80" stroke="#474747" stroke-width="1.4"/>
<line x1="464.98" y1="452.39" x2="468.98" y2="452.39" stroke="#222" stroke-width="1"/>
<line x1="464.98" y1="470.80" x2="468.98" y2="470.80" stroke="#222" stroke-width="1"/>
<line x1="475.55" y1="458.74" x2="475.55" y2="470.01" stroke="#474747" stroke-width="1.4"/>
<line x1="473.55" y1="458.74" x2="477.55" y2="458.74" stroke="#222" stroke-width="1"/>
<line x1="473.55" y1="470.01" x2="477.55" y2="470.01" stroke="#222" stroke-width="1"/>
<line x1="484.12" y1="455.72" x2="484.12" y2="470.01" stroke="#474747" stroke-width="1.4"/>
<line x1="482.12" y1="455.72" x2="486.12" y2="455.72" stroke="#222" stroke-width="1"/>
<line x1="482.12" y1="470.01" x2="486.12" y2="470.01" stroke="#222" stroke-width="1"/>
<line x1="492.70" y1="467.31" x2="492.70" y2="470.80" stroke="#474747" stroke-width="1.4"/>
<line x1="490.70" y1="467.31" x2="494.70" y2="467.31" stroke="#222" stroke-width="1"/>
<line x1="490.70" y1="470.80" x2="494.70" y2="470.80" stroke="#222" stroke-width="1"/>
<rect x="386.90" y="464.61" width="5.8" height="3.17" fill="#e693a6"/>
<rect x="395.48" y="458.10" width="5.8" height="11.59" fill="#e693a6"/>
<rect x="404.05" y="455.72" width="5.8" height="11.59" fill="#e693a6"/>
<rect x="412.63" y="429.22" width="5.8" height="27.77" fill="#e693a6"/>
<rect x="421.20" y="418.11" width="5.8" height="31.90" fill="#e693a6"/>
<rect x="429.78" y="453.03" width="5.8" height="13.17" fill="#e693a6"/>
<rect x="438.35" y="460.01" width="5.8" height="10.00" fill="#e693a6"/>
<rect x="446.93" y="456.99" width="5.8" height="13.01" fill="#e693a6"/>
<rect x="455.50" y="460.48" width="5.8" height="9.52" fill="#e693a6"/>
<rect x="464.08" y="463.82" width="5.8" height="6.19" fill="#e693a6"/>
<rect x="472.65" y="462.23" width="5.8" height="6.19" fill="#e693a6"/>
<rect x="481.23" y="464.61" width="5.8" height="3.17" fill="#e693a6"/>
<rect x="489.80" y="466.83" width="5.8" height="3.49" fill="#e693a6"/>
<line x1="386.90" y1="466.20" x2="392.70" y2="466.20" stroke="#111" stroke-width="1.3"/>
<line x1="395.48" y1="466.20" x2="401.27" y2="466.20" stroke="#111" stroke-width="1.3"/>
<line x1="404.05" y1="461.12" x2="409.85" y2="461.12" stroke="#111" stroke-width="1.3"/>
<line x1="412.63" y1="446.52" x2="418.43" y2="446.52" stroke="#111" stroke-width="1.3"/>
<line x1="421.20" y1="437.95" x2="427.00" y2="437.95" stroke="#111" stroke-width="1.3"/>
<line x1="429.78" y1="460.01" x2="435.57" y2="460.01" stroke="#111" stroke-width="1.3"/>
<line x1="438.35" y1="464.61" x2="444.15" y2="464.61" stroke="#111" stroke-width="1.3"/>
<line x1="446.93" y1="464.61" x2="452.72" y2="464.61" stroke="#111" stroke-width="1.3"/>
<line x1="455.50" y1="465.56" x2="461.30" y2="465.56" stroke="#111" stroke-width="1.3"/>
<line x1="464.08" y1="467.31" x2="469.88" y2="467.31" stroke="#111" stroke-width="1.3"/>
<line x1="472.65" y1="464.61" x2="478.45" y2="464.61" stroke="#111" stroke-width="1.3"/>
<line x1="481.23" y1="466.83" x2="487.02" y2="466.83" stroke="#111" stroke-width="1.3"/>
<line x1="489.80" y1="468.42" x2="495.60" y2="468.42" stroke="#111" stroke-width="1.3"/>
<circle cx="389.75" cy="468.90" r="1.05" fill="#d0021b"/>
<circle cx="389.04" cy="467.99" r="1.05" fill="#d0021b"/>
<circle cx="390.42" cy="467.81" r="1.05" fill="#d0021b"/>
<circle cx="390.86" cy="467.65" r="1.05" fill="#d0021b"/>
<circle cx="390.57" cy="466.95" r="1.05" fill="#d0021b"/>
<circle cx="390.36" cy="466.50" r="1.05" fill="#d0021b"/>
<circle cx="390.79" cy="465.84" r="1.05" fill="#d0021b"/>
<circle cx="390.30" cy="465.25" r="1.05" fill="#d0021b"/>
<circle cx="390.20" cy="464.90" r="1.05" fill="#d0021b"/>
<circle cx="389.67" cy="464.48" r="1.05" fill="#d0021b"/>
<circle cx="389.28" cy="463.11" r="1.05" fill="#d0021b"/>
<circle cx="389.88" cy="459.21" r="1.05" fill="#d0021b"/>
<circle cx="398.63" cy="470.80" r="1.05" fill="#d0021b"/>
<circle cx="397.49" cy="470.08" r="1.05" fill="#d0021b"/>
<circle cx="398.81" cy="469.74" r="1.05" fill="#d0021b"/>
<circle cx="399.15" cy="469.21" r="1.05" fill="#d0021b"/>
<circle cx="398.06" cy="468.19" r="1.05" fill="#d0021b"/>
<circle cx="398.35" cy="467.17" r="1.05" fill="#d0021b"/>
<circle cx="399.70" cy="466.39" r="1.05" fill="#d0021b"/>
<circle cx="397.08" cy="463.84" r="1.05" fill="#d0021b"/>
<circle cx="398.50" cy="461.30" r="1.05" fill="#d0021b"/>
<circle cx="397.43" cy="458.51" r="1.05" fill="#d0021b"/>
<circle cx="399.16" cy="457.57" r="1.05" fill="#d0021b"/>
<circle cx="399.61" cy="453.29" r="1.05" fill="#d0021b"/>
<circle cx="398.39" cy="441.92" r="1.05" fill="#d0021b"/>
<circle cx="406.78" cy="470.01" r="1.05" fill="#d0021b"/>
<circle cx="407.47" cy="468.16" r="1.05" fill="#d0021b"/>
<circle cx="406.65" cy="467.35" r="1.05" fill="#d0021b"/>
<circle cx="407.69" cy="466.22" r="1.05" fill="#d0021b"/>
<circle cx="405.89" cy="463.90" r="1.05" fill="#d0021b"/>
<circle cx="408.31" cy="462.13" r="1.05" fill="#d0021b"/>
<circle cx="406.55" cy="460.04" r="1.05" fill="#d0021b"/>
<circle cx="405.71" cy="458.01" r="1.05" fill="#d0021b"/>
<circle cx="406.32" cy="456.60" r="1.05" fill="#d0021b"/>
<circle cx="406.67" cy="455.25" r="1.05" fill="#d0021b"/>
<circle cx="405.59" cy="444.92" r="1.05" fill="#d0021b"/>
<circle cx="406.90" cy="423.03" r="1.05" fill="#d0021b"/>
<circle cx="415.35" cy="470.01" r="1.05" fill="#d0021b"/>
<circle cx="414.49" cy="460.56" r="1.05" fill="#d0021b"/>
<circle cx="416.30" cy="457.32" r="1.05" fill="#d0021b"/>
<circle cx="416.39" cy="456.52" r="1.05" fill="#d0021b"/>
<circle cx="415.90" cy="453.49" r="1.05" fill="#d0021b"/>
<circle cx="415.44" cy="450.36" r="1.05" fill="#d0021b"/>
<circle cx="415.70" cy="445.62" r="1.05" fill="#d0021b"/>
<circle cx="414.76" cy="439.56" r="1.05" fill="#d0021b"/>
<circle cx="416.82" cy="435.77" r="1.05" fill="#d0021b"/>
<circle cx="415.11" cy="431.60" r="1.05" fill="#d0021b"/>
<circle cx="415.91" cy="426.66" r="1.05" fill="#d0021b"/>
<circle cx="416.42" cy="420.55" r="1.05" fill="#d0021b"/>
<circle cx="415.71" cy="391.93" r="1.05" fill="#d0021b"/>
<circle cx="423.80" cy="469.21" r="1.05" fill="#d0021b"/>
<circle cx="424.72" cy="455.76" r="1.05" fill="#d0021b"/>
<circle cx="423.49" cy="451.65" r="1.05" fill="#d0021b"/>
<circle cx="423.39" cy="449.89" r="1.05" fill="#d0021b"/>
<circle cx="423.55" cy="447.47" r="1.05" fill="#d0021b"/>
<circle cx="424.04" cy="442.31" r="1.05" fill="#d0021b"/>
<circle cx="423.90" cy="440.02" r="1.05" fill="#d0021b"/>
<circle cx="424.48" cy="433.72" r="1.05" fill="#d0021b"/>
<circle cx="424.55" cy="430.37" r="1.05" fill="#d0021b"/>
<circle cx="423.71" cy="424.27" r="1.05" fill="#d0021b"/>
<circle cx="425.30" cy="419.09" r="1.05" fill="#d0021b"/>
<circle cx="425.09" cy="416.26" r="1.05" fill="#d0021b"/>
<circle cx="422.86" cy="410.72" r="1.05" fill="#d0021b"/>
<circle cx="424.30" cy="385.42" r="1.05" fill="#d0021b"/>
<circle cx="432.52" cy="466.99" r="1.05" fill="#d0021b"/>
<circle cx="433.45" cy="466.36" r="1.05" fill="#d0021b"/>
<circle cx="432.25" cy="466.23" r="1.05" fill="#d0021b"/>
<circle cx="431.70" cy="466.20" r="1.05" fill="#d0021b"/>
<circle cx="433.81" cy="464.02" r="1.05" fill="#d0021b"/>
<circle cx="433.49" cy="462.50" r="1.05" fill="#d0021b"/>
<circle cx="431.75" cy="461.49" r="1.05" fill="#d0021b"/>
<circle cx="433.77" cy="459.69" r="1.05" fill="#d0021b"/>
<circle cx="432.98" cy="456.38" r="1.05" fill="#d0021b"/>
<circle cx="433.46" cy="454.80" r="1.05" fill="#d0021b"/>
<circle cx="433.15" cy="453.37" r="1.05" fill="#d0021b"/>
<circle cx="433.78" cy="452.04" r="1.05" fill="#d0021b"/>
<circle cx="433.48" cy="446.08" r="1.05" fill="#d0021b"/>
<circle cx="432.88" cy="421.13" r="1.05" fill="#d0021b"/>
<circle cx="440.99" cy="470.80" r="1.05" fill="#d0021b"/>
<circle cx="441.16" cy="470.27" r="1.05" fill="#d0021b"/>
<circle cx="440.25" cy="470.03" r="1.05" fill="#d0021b"/>
<circle cx="441.23" cy="469.56" r="1.05" fill="#d0021b"/>
<circle cx="441.24" cy="467.65" r="1.05" fill="#d0021b"/>
<circle cx="441.36" cy="466.34" r="1.05" fill="#d0021b"/>
<circle cx="442.27" cy="464.23" r="1.05" fill="#d0021b"/>
<circle cx="439.87" cy="463.14" r="1.05" fill="#d0021b"/>
<circle cx="442.20" cy="462.01" r="1.05" fill="#d0021b"/>
<circle cx="441.16" cy="460.63" r="1.05" fill="#d0021b"/>
<circle cx="441.43" cy="459.77" r="1.05" fill="#d0021b"/>
<circle cx="441.71" cy="456.29" r="1.05" fill="#d0021b"/>
<circle cx="441.45" cy="445.41" r="1.05" fill="#d0021b"/>
<circle cx="450.11" cy="470.80" r="1.05" fill="#d0021b"/>
<circle cx="449.85" cy="470.23" r="1.05" fill="#d0021b"/>
<circle cx="449.78" cy="470.04" r="1.05" fill="#d0021b"/>
<circle cx="450.94" cy="469.06" r="1.05" fill="#d0021b"/>
<circle cx="448.52" cy="468.42" r="1.05" fill="#d0021b"/>
<circle cx="450.44" cy="466.11" r="1.05" fill="#d0021b"/>
<circle cx="450.18" cy="464.39" r="1.05" fill="#d0021b"/>
<circle cx="449.37" cy="463.04" r="1.05" fill="#d0021b"/>
<circle cx="450.84" cy="459.74" r="1.05" fill="#d0021b"/>
<circle cx="449.45" cy="457.28" r="1.05" fill="#d0021b"/>
<circle cx="449.75" cy="451.82" r="1.05" fill="#d0021b"/>
<circle cx="449.90" cy="443.41" r="1.05" fill="#d0021b"/>
<circle cx="449.99" cy="395.10" r="1.05" fill="#d0021b"/>
<circle cx="458.68" cy="470.80" r="1.05" fill="#d0021b"/>
<circle cx="458.83" cy="470.27" r="1.05" fill="#d0021b"/>
<circle cx="459.22" cy="470.04" r="1.05" fill="#d0021b"/>
<circle cx="457.93" cy="469.74" r="1.05" fill="#d0021b"/>
<circle cx="457.89" cy="468.25" r="1.05" fill="#d0021b"/>
<circle cx="457.84" cy="466.62" r="1.05" fill="#d0021b"/>
<circle cx="458.64" cy="465.76" r="1.05" fill="#d0021b"/>
<circle cx="458.78" cy="463.64" r="1.05" fill="#d0021b"/>
<circle cx="459.20" cy="462.54" r="1.05" fill="#d0021b"/>
<circle cx="457.11" cy="460.87" r="1.05" fill="#d0021b"/>
<circle cx="459.02" cy="459.77" r="1.05" fill="#d0021b"/>
<circle cx="459.48" cy="452.63" r="1.05" fill="#d0021b"/>
<circle cx="458.43" cy="430.01" r="1.05" fill="#d0021b"/>
<circle cx="467.05" cy="470.80" r="1.05" fill="#d0021b"/>
<circle cx="467.33" cy="470.27" r="1.05" fill="#d0021b"/>
<circle cx="467.52" cy="470.03" r="1.05" fill="#d0021b"/>
<circle cx="467.24" cy="469.87" r="1.05" fill="#d0021b"/>
<circle cx="467.48" cy="468.85" r="1.05" fill="#d0021b"/>
<circle cx="466.17" cy="467.49" r="1.05" fill="#d0021b"/>
<circle cx="467.44" cy="466.64" r="1.05" fill="#d0021b"/>
<circle cx="466.86" cy="465.43" r="1.05" fill="#d0021b"/>
<circle cx="467.71" cy="464.16" r="1.05" fill="#d0021b"/>
<circle cx="465.86" cy="463.22" r="1.05" fill="#d0021b"/>
<circle cx="466.08" cy="461.04" r="1.05" fill="#d0021b"/>
<circle cx="466.70" cy="452.39" r="1.05" fill="#d0021b"/>
<circle cx="475.72" cy="470.01" r="1.05" fill="#d0021b"/>
<circle cx="475.72" cy="468.42" r="1.05" fill="#d0021b"/>
<circle cx="474.87" cy="466.16" r="1.05" fill="#d0021b"/>
<circle cx="475.00" cy="464.46" r="1.05" fill="#d0021b"/>
<circle cx="475.33" cy="463.38" r="1.05" fill="#d0021b"/>
<circle cx="475.04" cy="462.03" r="1.05" fill="#d0021b"/>
<circle cx="475.51" cy="458.74" r="1.05" fill="#d0021b"/>
<circle cx="483.85" cy="470.01" r="1.05" fill="#d0021b"/>
<circle cx="483.06" cy="467.72" r="1.05" fill="#d0021b"/>
<circle cx="484.99" cy="466.96" r="1.05" fill="#d0021b"/>
<circle cx="484.34" cy="466.55" r="1.05" fill="#d0021b"/>
<circle cx="485.30" cy="464.61" r="1.05" fill="#d0021b"/>
<circle cx="484.09" cy="455.72" r="1.05" fill="#d0021b"/>
<circle cx="492.76" cy="470.80" r="1.05" fill="#d0021b"/>
<circle cx="493.93" cy="470.02" r="1.05" fill="#d0021b"/>
<circle cx="494.05" cy="467.75" r="1.05" fill="#d0021b"/>
<circle cx="492.69" cy="467.31" r="1.05" fill="#d0021b"/>
<line x1="383.7" y1="470.80" x2="498.20" y2="470.80" stroke="#000" stroke-width="1.1"/>
<line x1="389.80" y1="470.80" x2="389.80" y2="474.40" stroke="#000" stroke-width="0.9"/>
<line x1="398.38" y1="470.80" x2="398.38" y2="474.40" stroke="#000" stroke-width="0.9"/>
<line x1="406.95" y1="470.80" x2="406.95" y2="474.40" stroke="#000" stroke-width="0.9"/>
<line x1="415.53" y1="470.80" x2="415.53" y2="474.40" stroke="#000" stroke-width="0.9"/>
<line x1="424.10" y1="470.80" x2="424.10" y2="474.40" stroke="#000" stroke-width="0.9"/>
<line x1="432.68" y1="470.80" x2="432.68" y2="474.40" stroke="#000" stroke-width="0.9"/>
<line x1="441.25" y1="470.80" x2="441.25" y2="474.40" stroke="#000" stroke-width="0.9"/>
<line x1="449.82" y1="470.80" x2="449.82" y2="474.40" stroke="#000" stroke-width="0.9"/>
<line x1="458.40" y1="470.80" x2="458.40" y2="474.40" stroke="#000" stroke-width="0.9"/>
<line x1="466.98" y1="470.80" x2="466.98" y2="474.40" stroke="#000" stroke-width="0.9"/>
<line x1="475.55" y1="470.80" x2="475.55" y2="474.40" stroke="#000" stroke-width="0.9"/>
<line x1="484.12" y1="470.80" x2="484.12" y2="474.40" stroke="#000" stroke-width="0.9"/>
<line x1="492.70" y1="470.80" x2="492.70" y2="474.40" stroke="#000" stroke-width="0.9"/>
<line x1="384.2" y1="372.58" x2="384.2" y2="471.30" stroke="#000" stroke-width="1.1"/>
<line x1="380.7" y1="470.80" x2="384.2" y2="470.80" stroke="#000" stroke-width="0.9"/>
<text x="378.20" y="473.40" font-size="7.4" text-anchor="end" fill="#1a1a1a" stroke="#1a1a1a" stroke-width="0.15">0</text>
<line x1="382.2" y1="467.63" x2="384.2" y2="467.63" stroke="#000" stroke-width="0.7"/>
<line x1="382.2" y1="464.45" x2="384.2" y2="464.45" stroke="#000" stroke-width="0.7"/>
<line x1="382.2" y1="461.28" x2="384.2" y2="461.28" stroke="#000" stroke-width="0.7"/>
<line x1="382.2" y1="458.10" x2="384.2" y2="458.10" stroke="#000" stroke-width="0.7"/>
<line x1="380.7" y1="454.93" x2="384.2" y2="454.93" stroke="#000" stroke-width="0.9"/>
<text x="378.20" y="457.53" font-size="7.4" text-anchor="end" fill="#1a1a1a" stroke="#1a1a1a" stroke-width="0.15">10</text>
<line x1="382.2" y1="451.76" x2="384.2" y2="451.76" stroke="#000" stroke-width="0.7"/>
<line x1="382.2" y1="448.58" x2="384.2" y2="448.58" stroke="#000" stroke-width="0.7"/>
<line x1="382.2" y1="445.41" x2="384.2" y2="445.41" stroke="#000" stroke-width="0.7"/>
<line x1="382.2" y1="442.23" x2="384.2" y2="442.23" stroke="#000" stroke-width="0.7"/>
<line x1="380.7" y1="439.06" x2="384.2" y2="439.06" stroke="#000" stroke-width="0.9"/>
<text x="378.20" y="441.66" font-size="7.4" text-anchor="end" fill="#1a1a1a" stroke="#1a1a1a" stroke-width="0.15">20</text>
<line x1="382.2" y1="435.89" x2="384.2" y2="435.89" stroke="#000" stroke-width="0.7"/>
<line x1="382.2" y1="432.71" x2="384.2" y2="432.71" stroke="#000" stroke-width="0.7"/>
<line x1="382.2" y1="429.54" x2="384.2" y2="429.54" stroke="#000" stroke-width="0.7"/>
<line x1="382.2" y1="426.36" x2="384.2" y2="426.36" stroke="#000" stroke-width="0.7"/>
<line x1="380.7" y1="423.19" x2="384.2" y2="423.19" stroke="#000" stroke-width="0.9"/>
<text x="378.20" y="425.79" font-size="7.4" text-anchor="end" fill="#1a1a1a" stroke="#1a1a1a" stroke-width="0.15">30</text>
<line x1="382.2" y1="420.02" x2="384.2" y2="420.02" stroke="#000" stroke-width="0.7"/>
<line x1="382.2" y1="416.84" x2="384.2" y2="416.84" stroke="#000" stroke-width="0.7"/>
<line x1="382.2" y1="413.67" x2="384.2" y2="413.67" stroke="#000" stroke-width="0.7"/>
<line x1="382.2" y1="410.49" x2="384.2" y2="410.49" stroke="#000" stroke-width="0.7"/>
<line x1="380.7" y1="407.32" x2="384.2" y2="407.32" stroke="#000" stroke-width="0.9"/>
<text x="378.20" y="409.92" font-size="7.4" text-anchor="end" fill="#1a1a1a" stroke="#1a1a1a" stroke-width="0.15">40</text>
<line x1="382.2" y1="404.15" x2="384.2" y2="404.15" stroke="#000" stroke-width="0.7"/>
<line x1="382.2" y1="400.97" x2="384.2" y2="400.97" stroke="#000" stroke-width="0.7"/>
<line x1="382.2" y1="397.80" x2="384.2" y2="397.80" stroke="#000" stroke-width="0.7"/>
<line x1="382.2" y1="394.62" x2="384.2" y2="394.62" stroke="#000" stroke-width="0.7"/>
<line x1="380.7" y1="391.45" x2="384.2" y2="391.45" stroke="#000" stroke-width="0.9"/>
<text x="378.20" y="394.05" font-size="7.4" text-anchor="end" fill="#1a1a1a" stroke="#1a1a1a" stroke-width="0.15">50</text>
<line x1="382.2" y1="388.28" x2="384.2" y2="388.28" stroke="#000" stroke-width="0.7"/>
<line x1="382.2" y1="385.10" x2="384.2" y2="385.10" stroke="#000" stroke-width="0.7"/>
<line x1="382.2" y1="381.93" x2="384.2" y2="381.93" stroke="#000" stroke-width="0.7"/>
<line x1="382.2" y1="378.75" x2="384.2" y2="378.75" stroke="#000" stroke-width="0.7"/>
<line x1="380.7" y1="375.58" x2="384.2" y2="375.58" stroke="#000" stroke-width="0.9"/>
<text x="378.20" y="378.18" font-size="7.4" text-anchor="end" fill="#1a1a1a" stroke="#1a1a1a" stroke-width="0.15">60</text>
<text transform="translate(364.60,421.5) rotate(-90)" text-anchor="middle" font-size="9.4" font-weight="bold" textLength="50.6" lengthAdjust="spacingAndGlyphs" fill="#1a1a1a">% of CD8<tspan baseline-shift="2.2" font-size="6.4">+</tspan> T cells</text>
<text transform="translate(391.70,482.10) rotate(-45)" text-anchor="end" font-size="6.8" font-weight="bold" textLength="18.51" lengthAdjust="spacingAndGlyphs" fill="#1a1a1a" stroke="#1a1a1a" stroke-width="0.2">Donor 00</text>
<text transform="translate(400.27,482.10) rotate(-45)" text-anchor="end" font-size="6.8" font-weight="bold" textLength="37.26" lengthAdjust="spacingAndGlyphs" fill="#1a1a1a" stroke="#1a1a1a" stroke-width="0.2">Recipient pre-HCT</text>
<text transform="translate(408.85,482.10) rotate(-45)" text-anchor="end" font-size="6.8" font-weight="bold" textLength="14.39" lengthAdjust="spacingAndGlyphs" fill="#1a1a1a" stroke="#1a1a1a" stroke-width="0.2">Day +3</text>
<text transform="translate(417.43,482.10) rotate(-45)" text-anchor="end" font-size="6.8" font-weight="bold" textLength="14.39" lengthAdjust="spacingAndGlyphs" fill="#1a1a1a" stroke="#1a1a1a" stroke-width="0.2">Day +7</text>
<text transform="translate(426.00,482.10) rotate(-45)" text-anchor="end" font-size="6.8" font-weight="bold" textLength="16.89" lengthAdjust="spacingAndGlyphs" fill="#1a1a1a" stroke="#1a1a1a" stroke-width="0.2">Day +14</text>
<text transform="translate(434.57,482.10) rotate(-45)" text-anchor="end" font-size="6.8" font-weight="bold" textLength="16.89" lengthAdjust="spacingAndGlyphs" fill="#1a1a1a" stroke="#1a1a1a" stroke-width="0.2">Day +28</text>
<text transform="translate(443.15,482.10) rotate(-45)" text-anchor="end" font-size="6.8" font-weight="bold" textLength="16.89" lengthAdjust="spacingAndGlyphs" fill="#1a1a1a" stroke="#1a1a1a" stroke-width="0.2">Day +60</text>
<text transform="translate(451.72,482.10) rotate(-45)" text-anchor="end" font-size="6.8" font-weight="bold" textLength="19.39" lengthAdjust="spacingAndGlyphs" fill="#1a1a1a" stroke="#1a1a1a" stroke-width="0.2">Day +100</text>
<text transform="translate(460.30,482.10) rotate(-45)" text-anchor="end" font-size="6.8" font-weight="bold" textLength="19.39" lengthAdjust="spacingAndGlyphs" fill="#1a1a1a" stroke="#1a1a1a" stroke-width="0.2">Day +180</text>
<text transform="translate(468.88,482.10) rotate(-45)" text-anchor="end" font-size="6.8" font-weight="bold" textLength="12.51" lengthAdjust="spacingAndGlyphs" fill="#1a1a1a" stroke="#1a1a1a" stroke-width="0.2">1 year</text>
<text transform="translate(477.45,482.10) rotate(-45)" text-anchor="end" font-size="6.8" font-weight="bold" textLength="18.51" lengthAdjust="spacingAndGlyphs" fill="#1a1a1a" stroke="#1a1a1a" stroke-width="0.2">1.5 years</text>
<text transform="translate(486.02,482.10) rotate(-45)" text-anchor="end" font-size="6.8" font-weight="bold" textLength="14.76" lengthAdjust="spacingAndGlyphs" fill="#1a1a1a" stroke="#1a1a1a" stroke-width="0.2">2 years</text>
<text transform="translate(494.60,482.10) rotate(-45)" text-anchor="end" font-size="6.8" font-weight="bold" textLength="14.76" lengthAdjust="spacingAndGlyphs" fill="#1a1a1a" stroke="#1a1a1a" stroke-width="0.2">3 years</text>
<line x1="113.90" y1="581.34" x2="113.90" y2="634.38" stroke="#474747" stroke-width="1.4"/>
<line x1="111.90" y1="581.34" x2="115.90" y2="581.34" stroke="#222" stroke-width="1"/>
<line x1="111.90" y1="634.38" x2="115.90" y2="634.38" stroke="#222" stroke-width="1"/>
<line x1="122.60" y1="568.93" x2="122.60" y2="637.30" stroke="#474747" stroke-width="1.4"/>
<line x1="120.60" y1="568.93" x2="124.60" y2="568.93" stroke="#222" stroke-width="1"/>
<line x1="120.60" y1="637.30" x2="124.60" y2="637.30" stroke="#222" stroke-width="1"/>
<line x1="131.30" y1="546.33" x2="131.30" y2="559.90" stroke="#474747" stroke-width="1.4"/>
<line x1="131.30" y1="564.31" x2="131.30" y2="637.30" stroke="#474747" stroke-width="1.4"/>
<line x1="129.30" y1="546.33" x2="133.30" y2="546.33" stroke="#222" stroke-width="1"/>
<line x1="129.30" y1="637.30" x2="133.30" y2="637.30" stroke="#222" stroke-width="1"/>
<line x1="140.00" y1="604.21" x2="140.00" y2="637.30" stroke="#474747" stroke-width="1.4"/>
<line x1="138.00" y1="604.21" x2="142.00" y2="604.21" stroke="#222" stroke-width="1"/>
<line x1="138.00" y1="637.30" x2="142.00" y2="637.30" stroke="#222" stroke-width="1"/>
<line x1="148.70" y1="603.48" x2="148.70" y2="636.81" stroke="#474747" stroke-width="1.4"/>
<line x1="146.70" y1="603.48" x2="150.70" y2="603.48" stroke="#222" stroke-width="1"/>
<line x1="146.70" y1="636.81" x2="150.70" y2="636.81" stroke="#222" stroke-width="1"/>
<line x1="157.40" y1="588.64" x2="157.40" y2="634.38" stroke="#474747" stroke-width="1.4"/>
<line x1="155.40" y1="588.64" x2="159.40" y2="588.64" stroke="#222" stroke-width="1"/>
<line x1="155.40" y1="634.38" x2="159.40" y2="634.38" stroke="#222" stroke-width="1"/>
<line x1="166.10" y1="584.02" x2="166.10" y2="637.30" stroke="#474747" stroke-width="1.4"/>
<line x1="164.10" y1="584.02" x2="168.10" y2="584.02" stroke="#222" stroke-width="1"/>
<line x1="164.10" y1="637.30" x2="168.10" y2="637.30" stroke="#222" stroke-width="1"/>
<line x1="174.80" y1="596.91" x2="174.80" y2="637.30" stroke="#474747" stroke-width="1.4"/>
<line x1="172.80" y1="596.91" x2="176.80" y2="596.91" stroke="#222" stroke-width="1"/>
<line x1="172.80" y1="637.30" x2="176.80" y2="637.30" stroke="#222" stroke-width="1"/>
<line x1="183.50" y1="606.64" x2="183.50" y2="634.87" stroke="#474747" stroke-width="1.4"/>
<line x1="181.50" y1="606.64" x2="185.50" y2="606.64" stroke="#222" stroke-width="1"/>
<line x1="181.50" y1="634.87" x2="185.50" y2="634.87" stroke="#222" stroke-width="1"/>
<line x1="192.20" y1="620.03" x2="192.20" y2="634.87" stroke="#474747" stroke-width="1.4"/>
<line x1="190.20" y1="620.03" x2="194.20" y2="620.03" stroke="#222" stroke-width="1"/>
<line x1="190.20" y1="634.87" x2="194.20" y2="634.87" stroke="#222" stroke-width="1"/>
<line x1="200.90" y1="617.59" x2="200.90" y2="637.30" stroke="#474747" stroke-width="1.4"/>
<line x1="198.90" y1="617.59" x2="202.90" y2="617.59" stroke="#222" stroke-width="1"/>
<line x1="198.90" y1="637.30" x2="202.90" y2="637.30" stroke="#222" stroke-width="1"/>
<line x1="209.60" y1="615.89" x2="209.60" y2="636.57" stroke="#474747" stroke-width="1.4"/>
<line x1="207.60" y1="615.89" x2="211.60" y2="615.89" stroke="#222" stroke-width="1"/>
<line x1="207.60" y1="636.57" x2="211.60" y2="636.57" stroke="#222" stroke-width="1"/>
<line x1="218.30" y1="581.34" x2="218.30" y2="636.57" stroke="#474747" stroke-width="1.4"/>
<line x1="216.30" y1="581.34" x2="220.30" y2="581.34" stroke="#222" stroke-width="1"/>
<line x1="216.30" y1="636.57" x2="220.30" y2="636.57" stroke="#222" stroke-width="1"/>
<rect x="111.00" y="619.30" width="5.8" height="13.87" fill="#e693a6"/>
<rect x="119.70" y="616.86" width="5.8" height="18.49" fill="#e693a6"/>
<rect x="128.40" y="604.21" width="5.8" height="32.36" fill="#e693a6"/>
<rect x="137.10" y="628.54" width="5.8" height="8.27" fill="#e693a6"/>
<rect x="145.80" y="621.73" width="5.8" height="14.35" fill="#e693a6"/>
<rect x="154.50" y="616.86" width="5.8" height="17.03" fill="#e693a6"/>
<rect x="163.20" y="623.92" width="5.8" height="12.16" fill="#e693a6"/>
<rect x="171.90" y="614.19" width="5.8" height="18.98" fill="#e693a6"/>
<rect x="180.60" y="621.73" width="5.8" height="12.65" fill="#e693a6"/>
<rect x="189.30" y="623.92" width="5.8" height="9.25" fill="#e693a6"/>
<rect x="198.00" y="622.70" width="5.8" height="13.38" fill="#e693a6"/>
<rect x="206.70" y="622.22" width="5.8" height="13.87" fill="#e693a6"/>
<rect x="215.40" y="612.97" width="5.8" height="23.11" fill="#e693a6"/>
<line x1="111.00" y1="626.35" x2="116.80" y2="626.35" stroke="#111" stroke-width="1.3"/>
<line x1="119.70" y1="629.27" x2="125.50" y2="629.27" stroke="#111" stroke-width="1.3"/>
<line x1="128.40" y1="620.51" x2="134.20" y2="620.51" stroke="#111" stroke-width="1.3"/>
<line x1="137.10" y1="635.35" x2="142.90" y2="635.35" stroke="#111" stroke-width="1.3"/>
<line x1="145.80" y1="631.46" x2="151.60" y2="631.46" stroke="#111" stroke-width="1.3"/>
<line x1="154.50" y1="625.13" x2="160.30" y2="625.13" stroke="#111" stroke-width="1.3"/>
<line x1="163.20" y1="628.54" x2="169.00" y2="628.54" stroke="#111" stroke-width="1.3"/>
<line x1="171.90" y1="624.65" x2="177.70" y2="624.65" stroke="#111" stroke-width="1.3"/>
<line x1="180.60" y1="626.84" x2="186.40" y2="626.84" stroke="#111" stroke-width="1.3"/>
<line x1="189.30" y1="629.76" x2="195.10" y2="629.76" stroke="#111" stroke-width="1.3"/>
<line x1="198.00" y1="630.24" x2="203.80" y2="630.24" stroke="#111" stroke-width="1.3"/>
<line x1="206.70" y1="629.76" x2="212.50" y2="629.76" stroke="#111" stroke-width="1.3"/>
<line x1="215.40" y1="628.54" x2="221.20" y2="628.54" stroke="#111" stroke-width="1.3"/>
<circle cx="113.65" cy="634.38" r="1.05" fill="#d0021b"/>
<circle cx="114.93" cy="633.45" r="1.05" fill="#d0021b"/>
<circle cx="112.86" cy="633.23" r="1.05" fill="#d0021b"/>
<circle cx="112.55" cy="631.80" r="1.05" fill="#d0021b"/>
<circle cx="114.51" cy="630.22" r="1.05" fill="#d0021b"/>
<circle cx="113.18" cy="628.04" r="1.05" fill="#d0021b"/>
<circle cx="114.55" cy="625.97" r="1.05" fill="#d0021b"/>
<circle cx="113.02" cy="623.64" r="1.05" fill="#d0021b"/>
<circle cx="112.64" cy="620.17" r="1.05" fill="#d0021b"/>
<circle cx="114.67" cy="619.16" r="1.05" fill="#d0021b"/>
<circle cx="114.50" cy="606.56" r="1.05" fill="#d0021b"/>
<circle cx="114.11" cy="581.34" r="1.05" fill="#d0021b"/>
<circle cx="122.69" cy="637.30" r="1.05" fill="#d0021b"/>
<circle cx="123.49" cy="635.76" r="1.05" fill="#d0021b"/>
<circle cx="121.42" cy="635.51" r="1.05" fill="#d0021b"/>
<circle cx="122.07" cy="634.72" r="1.05" fill="#d0021b"/>
<circle cx="123.24" cy="632.74" r="1.05" fill="#d0021b"/>
<circle cx="121.66" cy="631.19" r="1.05" fill="#d0021b"/>
<circle cx="123.61" cy="628.12" r="1.05" fill="#d0021b"/>
<circle cx="122.56" cy="626.11" r="1.05" fill="#d0021b"/>
<circle cx="121.37" cy="620.39" r="1.05" fill="#d0021b"/>
<circle cx="122.23" cy="617.24" r="1.05" fill="#d0021b"/>
<circle cx="122.81" cy="616.36" r="1.05" fill="#d0021b"/>
<circle cx="122.43" cy="609.23" r="1.05" fill="#d0021b"/>
<circle cx="122.71" cy="568.93" r="1.05" fill="#d0021b"/>
<circle cx="131.34" cy="637.30" r="1.05" fill="#d0021b"/>
<circle cx="130.72" cy="636.79" r="1.05" fill="#d0021b"/>
<circle cx="130.07" cy="636.57" r="1.05" fill="#d0021b"/>
<circle cx="132.63" cy="634.41" r="1.05" fill="#d0021b"/>
<circle cx="131.87" cy="628.00" r="1.05" fill="#d0021b"/>
<circle cx="132.22" cy="622.70" r="1.05" fill="#d0021b"/>
<circle cx="130.83" cy="618.11" r="1.05" fill="#d0021b"/>
<circle cx="131.60" cy="612.80" r="1.05" fill="#d0021b"/>
<circle cx="132.64" cy="605.84" r="1.05" fill="#d0021b"/>
<circle cx="132.23" cy="598.85" r="1.05" fill="#d0021b"/>
<circle cx="131.58" cy="576.97" r="1.05" fill="#d0021b"/>
<circle cx="131.19" cy="546.33" r="1.05" fill="#d0021b"/>
<circle cx="140.05" cy="637.30" r="1.05" fill="#d0021b"/>
<circle cx="140.88" cy="636.95" r="1.05" fill="#d0021b"/>
<circle cx="141.08" cy="636.82" r="1.05" fill="#d0021b"/>
<circle cx="138.72" cy="636.74" r="1.05" fill="#d0021b"/>
<circle cx="140.93" cy="636.19" r="1.05" fill="#d0021b"/>
<circle cx="140.87" cy="635.77" r="1.05" fill="#d0021b"/>
<circle cx="141.03" cy="634.77" r="1.05" fill="#d0021b"/>
<circle cx="140.20" cy="632.81" r="1.05" fill="#d0021b"/>
<circle cx="139.37" cy="631.48" r="1.05" fill="#d0021b"/>
<circle cx="140.98" cy="629.80" r="1.05" fill="#d0021b"/>
<circle cx="140.86" cy="627.98" r="1.05" fill="#d0021b"/>
<circle cx="140.52" cy="622.73" r="1.05" fill="#d0021b"/>
<circle cx="140.25" cy="604.21" r="1.05" fill="#d0021b"/>
<circle cx="148.55" cy="636.81" r="1.05" fill="#d0021b"/>
<circle cx="149.40" cy="636.32" r="1.05" fill="#d0021b"/>
<circle cx="149.52" cy="636.16" r="1.05" fill="#d0021b"/>
<circle cx="148.59" cy="636.03" r="1.05" fill="#d0021b"/>
<circle cx="147.55" cy="634.49" r="1.05" fill="#d0021b"/>
<circle cx="149.56" cy="633.72" r="1.05" fill="#d0021b"/>
<circle cx="149.46" cy="631.89" r="1.05" fill="#d0021b"/>
<circle cx="147.95" cy="629.23" r="1.05" fill="#d0021b"/>
<circle cx="148.92" cy="627.81" r="1.05" fill="#d0021b"/>
<circle cx="149.81" cy="624.30" r="1.05" fill="#d0021b"/>
<circle cx="149.78" cy="621.72" r="1.05" fill="#d0021b"/>
<circle cx="148.76" cy="620.63" r="1.05" fill="#d0021b"/>
<circle cx="148.63" cy="617.53" r="1.05" fill="#d0021b"/>
<circle cx="148.75" cy="603.48" r="1.05" fill="#d0021b"/>
<circle cx="157.16" cy="634.38" r="1.05" fill="#d0021b"/>
<circle cx="157.77" cy="634.07" r="1.05" fill="#d0021b"/>
<circle cx="158.20" cy="633.94" r="1.05" fill="#d0021b"/>
<circle cx="156.44" cy="633.89" r="1.05" fill="#d0021b"/>
<circle cx="157.67" cy="631.04" r="1.05" fill="#d0021b"/>
<circle cx="156.97" cy="629.13" r="1.05" fill="#d0021b"/>
<circle cx="157.45" cy="626.27" r="1.05" fill="#d0021b"/>
<circle cx="156.06" cy="624.11" r="1.05" fill="#d0021b"/>
<circle cx="156.09" cy="621.56" r="1.05" fill="#d0021b"/>
<circle cx="158.77" cy="619.81" r="1.05" fill="#d0021b"/>
<circle cx="158.43" cy="617.62" r="1.05" fill="#d0021b"/>
<circle cx="157.36" cy="613.40" r="1.05" fill="#d0021b"/>
<circle cx="157.59" cy="609.40" r="1.05" fill="#d0021b"/>
<circle cx="157.26" cy="588.64" r="1.05" fill="#d0021b"/>
<circle cx="165.83" cy="637.30" r="1.05" fill="#d0021b"/>
<circle cx="166.26" cy="636.32" r="1.05" fill="#d0021b"/>
<circle cx="167.14" cy="636.14" r="1.05" fill="#d0021b"/>
<circle cx="165.98" cy="634.78" r="1.05" fill="#d0021b"/>
<circle cx="167.35" cy="632.75" r="1.05" fill="#d0021b"/>
<circle cx="167.25" cy="630.34" r="1.05" fill="#d0021b"/>
<circle cx="164.88" cy="628.08" r="1.05" fill="#d0021b"/>
<circle cx="166.37" cy="627.36" r="1.05" fill="#d0021b"/>
<circle cx="165.81" cy="626.16" r="1.05" fill="#d0021b"/>
<circle cx="165.04" cy="624.57" r="1.05" fill="#d0021b"/>
<circle cx="167.39" cy="623.19" r="1.05" fill="#d0021b"/>
<circle cx="165.42" cy="617.07" r="1.05" fill="#d0021b"/>
<circle cx="166.14" cy="584.02" r="1.05" fill="#d0021b"/>
<circle cx="174.71" cy="637.30" r="1.05" fill="#d0021b"/>
<circle cx="175.93" cy="634.10" r="1.05" fill="#d0021b"/>
<circle cx="175.93" cy="633.21" r="1.05" fill="#d0021b"/>
<circle cx="175.74" cy="632.20" r="1.05" fill="#d0021b"/>
<circle cx="173.53" cy="630.08" r="1.05" fill="#d0021b"/>
<circle cx="175.60" cy="627.36" r="1.05" fill="#d0021b"/>
<circle cx="175.39" cy="625.27" r="1.05" fill="#d0021b"/>
<circle cx="175.21" cy="620.38" r="1.05" fill="#d0021b"/>
<circle cx="176.16" cy="617.10" r="1.05" fill="#d0021b"/>
<circle cx="173.56" cy="615.62" r="1.05" fill="#d0021b"/>
<circle cx="173.81" cy="613.99" r="1.05" fill="#d0021b"/>
<circle cx="175.51" cy="610.66" r="1.05" fill="#d0021b"/>
<circle cx="175.06" cy="596.91" r="1.05" fill="#d0021b"/>
<circle cx="183.29" cy="634.87" r="1.05" fill="#d0021b"/>
<circle cx="184.00" cy="634.49" r="1.05" fill="#d0021b"/>
<circle cx="182.14" cy="634.41" r="1.05" fill="#d0021b"/>
<circle cx="184.11" cy="633.65" r="1.05" fill="#d0021b"/>
<circle cx="182.65" cy="631.06" r="1.05" fill="#d0021b"/>
<circle cx="182.20" cy="629.80" r="1.05" fill="#d0021b"/>
<circle cx="184.70" cy="627.12" r="1.05" fill="#d0021b"/>
<circle cx="182.72" cy="625.53" r="1.05" fill="#d0021b"/>
<circle cx="184.72" cy="624.11" r="1.05" fill="#d0021b"/>
<circle cx="184.53" cy="622.14" r="1.05" fill="#d0021b"/>
<circle cx="184.59" cy="621.46" r="1.05" fill="#d0021b"/>
<circle cx="182.49" cy="618.70" r="1.05" fill="#d0021b"/>
<circle cx="183.47" cy="606.64" r="1.05" fill="#d0021b"/>
<circle cx="192.03" cy="634.87" r="1.05" fill="#d0021b"/>
<circle cx="190.96" cy="633.71" r="1.05" fill="#d0021b"/>
<circle cx="192.80" cy="633.17" r="1.05" fill="#d0021b"/>
<circle cx="192.35" cy="632.32" r="1.05" fill="#d0021b"/>
<circle cx="191.21" cy="631.36" r="1.05" fill="#d0021b"/>
<circle cx="193.24" cy="630.36" r="1.05" fill="#d0021b"/>
<circle cx="191.55" cy="629.00" r="1.05" fill="#d0021b"/>
<circle cx="191.95" cy="626.40" r="1.05" fill="#d0021b"/>
<circle cx="191.24" cy="624.92" r="1.05" fill="#d0021b"/>
<circle cx="191.56" cy="623.81" r="1.05" fill="#d0021b"/>
<circle cx="193.15" cy="623.35" r="1.05" fill="#d0021b"/>
<circle cx="192.10" cy="620.03" r="1.05" fill="#d0021b"/>
<circle cx="201.19" cy="637.30" r="1.05" fill="#d0021b"/>
<circle cx="199.66" cy="636.15" r="1.05" fill="#d0021b"/>
<circle cx="202.01" cy="633.60" r="1.05" fill="#d0021b"/>
<circle cx="201.37" cy="630.67" r="1.05" fill="#d0021b"/>
<circle cx="200.09" cy="624.72" r="1.05" fill="#d0021b"/>
<circle cx="200.84" cy="622.79" r="1.05" fill="#d0021b"/>
<circle cx="200.77" cy="617.59" r="1.05" fill="#d0021b"/>
<circle cx="209.90" cy="636.57" r="1.05" fill="#d0021b"/>
<circle cx="210.79" cy="636.09" r="1.05" fill="#d0021b"/>
<circle cx="208.47" cy="632.75" r="1.05" fill="#d0021b"/>
<circle cx="209.01" cy="627.72" r="1.05" fill="#d0021b"/>
<circle cx="210.71" cy="621.97" r="1.05" fill="#d0021b"/>
<circle cx="209.33" cy="615.89" r="1.05" fill="#d0021b"/>
<circle cx="218.59" cy="636.57" r="1.05" fill="#d0021b"/>
<circle cx="216.94" cy="631.12" r="1.05" fill="#d0021b"/>
<circle cx="219.16" cy="623.01" r="1.05" fill="#d0021b"/>
<circle cx="218.20" cy="581.34" r="1.05" fill="#d0021b"/>
<line x1="108.5" y1="637.30" x2="223.80" y2="637.30" stroke="#000" stroke-width="1.1"/>
<line x1="113.90" y1="637.30" x2="113.90" y2="640.90" stroke="#000" stroke-width="0.9"/>
<line x1="122.60" y1="637.30" x2="122.60" y2="640.90" stroke="#000" stroke-width="0.9"/>
<line x1="131.30" y1="637.30" x2="131.30" y2="640.90" stroke="#000" stroke-width="0.9"/>
<line x1="140.00" y1="637.30" x2="140.00" y2="640.90" stroke="#000" stroke-width="0.9"/>
<line x1="148.70" y1="637.30" x2="148.70" y2="640.90" stroke="#000" stroke-width="0.9"/>
<line x1="157.40" y1="637.30" x2="157.40" y2="640.90" stroke="#000" stroke-width="0.9"/>
<line x1="166.10" y1="637.30" x2="166.10" y2="640.90" stroke="#000" stroke-width="0.9"/>
<line x1="174.80" y1="637.30" x2="174.80" y2="640.90" stroke="#000" stroke-width="0.9"/>
<line x1="183.50" y1="637.30" x2="183.50" y2="640.90" stroke="#000" stroke-width="0.9"/>
<line x1="192.20" y1="637.30" x2="192.20" y2="640.90" stroke="#000" stroke-width="0.9"/>
<line x1="200.90" y1="637.30" x2="200.90" y2="640.90" stroke="#000" stroke-width="0.9"/>
<line x1="209.60" y1="637.30" x2="209.60" y2="640.90" stroke="#000" stroke-width="0.9"/>
<line x1="218.30" y1="637.30" x2="218.30" y2="640.90" stroke="#000" stroke-width="0.9"/>
<line x1="109.0" y1="564.31" x2="109.0" y2="637.80" stroke="#000" stroke-width="1.1"/>
<line x1="109.0" y1="564.31" x2="112.0" y2="564.31" stroke="#000" stroke-width="0.9"/>
<line x1="105.5" y1="637.30" x2="109.0" y2="637.30" stroke="#000" stroke-width="0.9"/>
<text x="103.00" y="639.90" font-size="7.4" text-anchor="end" fill="#1a1a1a" stroke="#1a1a1a" stroke-width="0.15">0</text>
<line x1="107.0" y1="632.43" x2="109.0" y2="632.43" stroke="#000" stroke-width="0.7"/>
<line x1="107.0" y1="627.57" x2="109.0" y2="627.57" stroke="#000" stroke-width="0.7"/>
<line x1="107.0" y1="622.70" x2="109.0" y2="622.70" stroke="#000" stroke-width="0.7"/>
<line x1="107.0" y1="617.84" x2="109.0" y2="617.84" stroke="#000" stroke-width="0.7"/>
<line x1="105.5" y1="612.97" x2="109.0" y2="612.97" stroke="#000" stroke-width="0.9"/>
<text x="103.00" y="615.57" font-size="7.4" text-anchor="end" fill="#1a1a1a" stroke="#1a1a1a" stroke-width="0.15">10</text>
<line x1="107.0" y1="608.10" x2="109.0" y2="608.10" stroke="#000" stroke-width="0.7"/>
<line x1="107.0" y1="603.24" x2="109.0" y2="603.24" stroke="#000" stroke-width="0.7"/>
<line x1="107.0" y1="598.37" x2="109.0" y2="598.37" stroke="#000" stroke-width="0.7"/>
<line x1="107.0" y1="593.51" x2="109.0" y2="593.51" stroke="#000" stroke-width="0.7"/>
<line x1="105.5" y1="588.64" x2="109.0" y2="588.64" stroke="#000" stroke-width="0.9"/>
<text x="103.00" y="591.24" font-size="7.4" text-anchor="end" fill="#1a1a1a" stroke="#1a1a1a" stroke-width="0.15">20</text>
<line x1="107.0" y1="583.77" x2="109.0" y2="583.77" stroke="#000" stroke-width="0.7"/>
<line x1="107.0" y1="578.91" x2="109.0" y2="578.91" stroke="#000" stroke-width="0.7"/>
<line x1="107.0" y1="574.04" x2="109.0" y2="574.04" stroke="#000" stroke-width="0.7"/>
<line x1="107.0" y1="569.18" x2="109.0" y2="569.18" stroke="#000" stroke-width="0.7"/>
<line x1="105.5" y1="564.31" x2="109.0" y2="564.31" stroke="#000" stroke-width="0.9"/>
<text x="103.00" y="566.91" font-size="7.4" text-anchor="end" fill="#1a1a1a" stroke="#1a1a1a" stroke-width="0.15">30</text>
<line x1="109.0" y1="538.80" x2="109.0" y2="560.40" stroke="#000" stroke-width="1.1"/>
<line x1="105.5" y1="560.40" x2="112.0" y2="560.40" stroke="#000" stroke-width="0.9"/>
<line x1="105.5" y1="560.40" x2="109.0" y2="560.40" stroke="#000" stroke-width="0.9"/>
<text x="103.00" y="563.00" font-size="7.4" text-anchor="end" fill="#1a1a1a" stroke="#1a1a1a" stroke-width="0.15">30</text>
<line x1="105.5" y1="554.20" x2="109.0" y2="554.20" stroke="#000" stroke-width="0.9"/>
<text x="103.00" y="556.80" font-size="7.4" text-anchor="end" fill="#1a1a1a" stroke="#1a1a1a" stroke-width="0.15">40</text>
<line x1="105.5" y1="548.00" x2="109.0" y2="548.00" stroke="#000" stroke-width="0.9"/>
<text x="103.00" y="550.60" font-size="7.4" text-anchor="end" fill="#1a1a1a" stroke="#1a1a1a" stroke-width="0.15">50</text>
<line x1="105.5" y1="541.80" x2="109.0" y2="541.80" stroke="#000" stroke-width="0.9"/>
<text x="103.00" y="544.40" font-size="7.4" text-anchor="end" fill="#1a1a1a" stroke="#1a1a1a" stroke-width="0.15">60</text>
<text transform="translate(89.40,588.0) rotate(-90)" text-anchor="middle" font-size="9.4" font-weight="bold" textLength="50.6" lengthAdjust="spacingAndGlyphs" fill="#1a1a1a">% of CD8<tspan baseline-shift="2.2" font-size="6.4">+</tspan> T cells</text>
<text transform="translate(115.80,648.60) rotate(-45)" text-anchor="end" font-size="6.8" font-weight="bold" textLength="18.51" lengthAdjust="spacingAndGlyphs" fill="#1a1a1a" stroke="#1a1a1a" stroke-width="0.2">Donor 00</text>
<text transform="translate(124.50,648.60) rotate(-45)" text-anchor="end" font-size="6.8" font-weight="bold" textLength="37.26" lengthAdjust="spacingAndGlyphs" fill="#1a1a1a" stroke="#1a1a1a" stroke-width="0.2">Recipient pre-HCT</text>
<text transform="translate(133.20,648.60) rotate(-45)" text-anchor="end" font-size="6.8" font-weight="bold" textLength="14.39" lengthAdjust="spacingAndGlyphs" fill="#1a1a1a" stroke="#1a1a1a" stroke-width="0.2">Day +3</text>
<text transform="translate(141.90,648.60) rotate(-45)" text-anchor="end" font-size="6.8" font-weight="bold" textLength="14.39" lengthAdjust="spacingAndGlyphs" fill="#1a1a1a" stroke="#1a1a1a" stroke-width="0.2">Day +7</text>
<text transform="translate(150.60,648.60) rotate(-45)" text-anchor="end" font-size="6.8" font-weight="bold" textLength="16.89" lengthAdjust="spacingAndGlyphs" fill="#1a1a1a" stroke="#1a1a1a" stroke-width="0.2">Day +14</text>
<text transform="translate(159.30,648.60) rotate(-45)" text-anchor="end" font-size="6.8" font-weight="bold" textLength="16.89" lengthAdjust="spacingAndGlyphs" fill="#1a1a1a" stroke="#1a1a1a" stroke-width="0.2">Day +28</text>
<text transform="translate(168.00,648.60) rotate(-45)" text-anchor="end" font-size="6.8" font-weight="bold" textLength="16.89" lengthAdjust="spacingAndGlyphs" fill="#1a1a1a" stroke="#1a1a1a" stroke-width="0.2">Day +60</text>
<text transform="translate(176.70,648.60) rotate(-45)" text-anchor="end" font-size="6.8" font-weight="bold" textLength="19.39" lengthAdjust="spacingAndGlyphs" fill="#1a1a1a" stroke="#1a1a1a" stroke-width="0.2">Day +100</text>
<text transform="translate(185.40,648.60) rotate(-45)" text-anchor="end" font-size="6.8" font-weight="bold" textLength="19.39" lengthAdjust="spacingAndGlyphs" fill="#1a1a1a" stroke="#1a1a1a" stroke-width="0.2">Day +180</text>
<text transform="translate(194.10,648.60) rotate(-45)" text-anchor="end" font-size="6.8" font-weight="bold" textLength="12.51" lengthAdjust="spacingAndGlyphs" fill="#1a1a1a" stroke="#1a1a1a" stroke-width="0.2">1 year</text>
<text transform="translate(202.80,648.60) rotate(-45)" text-anchor="end" font-size="6.8" font-weight="bold" textLength="18.51" lengthAdjust="spacingAndGlyphs" fill="#1a1a1a" stroke="#1a1a1a" stroke-width="0.2">1.5 years</text>
<text transform="translate(211.50,648.60) rotate(-45)" text-anchor="end" font-size="6.8" font-weight="bold" textLength="14.76" lengthAdjust="spacingAndGlyphs" fill="#1a1a1a" stroke="#1a1a1a" stroke-width="0.2">2 years</text>
<text transform="translate(220.20,648.60) rotate(-45)" text-anchor="end" font-size="6.8" font-weight="bold" textLength="14.76" lengthAdjust="spacingAndGlyphs" fill="#1a1a1a" stroke="#1a1a1a" stroke-width="0.2">3 years</text>
<line x1="287.80" y1="599.67" x2="287.80" y2="628.67" stroke="#474747" stroke-width="1.4"/>
<line x1="285.80" y1="599.67" x2="289.80" y2="599.67" stroke="#222" stroke-width="1"/>
<line x1="285.80" y1="628.67" x2="289.80" y2="628.67" stroke="#222" stroke-width="1"/>
<line x1="296.33" y1="559.03" x2="296.33" y2="560.30" stroke="#474747" stroke-width="1.4"/>
<line x1="296.33" y1="565.39" x2="296.33" y2="637.30" stroke="#474747" stroke-width="1.4"/>
<line x1="294.33" y1="559.03" x2="298.33" y2="559.03" stroke="#222" stroke-width="1"/>
<line x1="294.33" y1="637.30" x2="298.33" y2="637.30" stroke="#222" stroke-width="1"/>
<line x1="304.86" y1="605.18" x2="304.86" y2="636.58" stroke="#474747" stroke-width="1.4"/>
<line x1="302.86" y1="605.18" x2="306.86" y2="605.18" stroke="#222" stroke-width="1"/>
<line x1="302.86" y1="636.58" x2="306.86" y2="636.58" stroke="#222" stroke-width="1"/>
<line x1="313.39" y1="583.61" x2="313.39" y2="634.66" stroke="#474747" stroke-width="1.4"/>
<line x1="311.39" y1="583.61" x2="315.39" y2="583.61" stroke="#222" stroke-width="1"/>
<line x1="311.39" y1="634.66" x2="315.39" y2="634.66" stroke="#222" stroke-width="1"/>
<line x1="321.92" y1="577.85" x2="321.92" y2="635.38" stroke="#474747" stroke-width="1.4"/>
<line x1="319.92" y1="577.85" x2="323.92" y2="577.85" stroke="#222" stroke-width="1"/>
<line x1="319.92" y1="635.38" x2="323.92" y2="635.38" stroke="#222" stroke-width="1"/>
<line x1="330.45" y1="545.45" x2="330.45" y2="560.30" stroke="#474747" stroke-width="1.4"/>
<line x1="330.45" y1="565.39" x2="330.45" y2="636.58" stroke="#474747" stroke-width="1.4"/>
<line x1="328.45" y1="545.45" x2="332.45" y2="545.45" stroke="#222" stroke-width="1"/>
<line x1="328.45" y1="636.58" x2="332.45" y2="636.58" stroke="#222" stroke-width="1"/>
<line x1="338.98" y1="606.62" x2="338.98" y2="634.90" stroke="#474747" stroke-width="1.4"/>
<line x1="336.98" y1="606.62" x2="340.98" y2="606.62" stroke="#222" stroke-width="1"/>
<line x1="336.98" y1="634.90" x2="340.98" y2="634.90" stroke="#222" stroke-width="1"/>
<line x1="347.51" y1="609.73" x2="347.51" y2="637.30" stroke="#474747" stroke-width="1.4"/>
<line x1="345.51" y1="609.73" x2="349.51" y2="609.73" stroke="#222" stroke-width="1"/>
<line x1="345.51" y1="637.30" x2="349.51" y2="637.30" stroke="#222" stroke-width="1"/>
<line x1="356.04" y1="603.98" x2="356.04" y2="637.30" stroke="#474747" stroke-width="1.4"/>
<line x1="354.04" y1="603.98" x2="358.04" y2="603.98" stroke="#222" stroke-width="1"/>
<line x1="354.04" y1="637.30" x2="358.04" y2="637.30" stroke="#222" stroke-width="1"/>
<line x1="364.57" y1="620.04" x2="364.57" y2="637.30" stroke="#474747" stroke-width="1.4"/>
<line x1="362.57" y1="620.04" x2="366.57" y2="620.04" stroke="#222" stroke-width="1"/>
<line x1="362.57" y1="637.30" x2="366.57" y2="637.30" stroke="#222" stroke-width="1"/>
<line x1="373.10" y1="621.24" x2="373.10" y2="637.30" stroke="#474747" stroke-width="1.4"/>
<line x1="371.10" y1="621.24" x2="375.10" y2="621.24" stroke="#222" stroke-width="1"/>
<line x1="371.10" y1="637.30" x2="375.10" y2="637.30" stroke="#222" stroke-width="1"/>
<line x1="381.63" y1="625.08" x2="381.63" y2="637.30" stroke="#474747" stroke-width="1.4"/>
<line x1="379.63" y1="625.08" x2="383.63" y2="625.08" stroke="#222" stroke-width="1"/>
<line x1="379.63" y1="637.30" x2="383.63" y2="637.30" stroke="#222" stroke-width="1"/>
<line x1="390.16" y1="623.40" x2="390.16" y2="637.30" stroke="#474747" stroke-width="1.4"/>
<line x1="388.16" y1="623.40" x2="392.16" y2="623.40" stroke="#222" stroke-width="1"/>
<line x1="388.16" y1="637.30" x2="392.16" y2="637.30" stroke="#222" stroke-width="1"/>
<rect x="284.90" y="603.74" width="5.8" height="18.70" fill="#e693a6"/>
<rect x="293.43" y="621.72" width="5.8" height="14.86" fill="#e693a6"/>
<rect x="301.96" y="625.08" width="5.8" height="10.31" fill="#e693a6"/>
<rect x="310.49" y="603.26" width="5.8" height="25.41" fill="#e693a6"/>
<rect x="319.02" y="607.82" width="5.8" height="27.57" fill="#e693a6"/>
<rect x="327.55" y="597.51" width="5.8" height="39.07" fill="#e693a6"/>
<rect x="336.08" y="627.47" width="5.8" height="6.47" fill="#e693a6"/>
<rect x="344.61" y="625.08" width="5.8" height="11.51" fill="#e693a6"/>
<rect x="353.14" y="625.08" width="5.8" height="11.51" fill="#e693a6"/>
<rect x="361.67" y="621.72" width="5.8" height="14.86" fill="#e693a6"/>
<rect x="370.20" y="629.15" width="5.8" height="7.43" fill="#e693a6"/>
<rect x="378.73" y="628.67" width="5.8" height="7.91" fill="#e693a6"/>
<rect x="387.26" y="629.63" width="5.8" height="6.47" fill="#e693a6"/>
<line x1="284.90" y1="611.17" x2="290.70" y2="611.17" stroke="#111" stroke-width="1.3"/>
<line x1="293.43" y1="630.11" x2="299.23" y2="630.11" stroke="#111" stroke-width="1.3"/>
<line x1="301.96" y1="629.15" x2="307.76" y2="629.15" stroke="#111" stroke-width="1.3"/>
<line x1="310.49" y1="622.44" x2="316.29" y2="622.44" stroke="#111" stroke-width="1.3"/>
<line x1="319.02" y1="614.29" x2="324.82" y2="614.29" stroke="#111" stroke-width="1.3"/>
<line x1="327.55" y1="621.24" x2="333.35" y2="621.24" stroke="#111" stroke-width="1.3"/>
<line x1="336.08" y1="629.63" x2="341.88" y2="629.63" stroke="#111" stroke-width="1.3"/>
<line x1="344.61" y1="628.67" x2="350.41" y2="628.67" stroke="#111" stroke-width="1.3"/>
<line x1="353.14" y1="633.94" x2="358.94" y2="633.94" stroke="#111" stroke-width="1.3"/>
<line x1="361.67" y1="634.42" x2="367.47" y2="634.42" stroke="#111" stroke-width="1.3"/>
<line x1="370.20" y1="633.23" x2="376.00" y2="633.23" stroke="#111" stroke-width="1.3"/>
<line x1="378.73" y1="632.51" x2="384.53" y2="632.51" stroke="#111" stroke-width="1.3"/>
<line x1="387.26" y1="634.42" x2="393.06" y2="634.42" stroke="#111" stroke-width="1.3"/>
<circle cx="287.61" cy="628.67" r="1.05" fill="#d0021b"/>
<circle cx="288.56" cy="624.35" r="1.05" fill="#d0021b"/>
<circle cx="288.39" cy="622.83" r="1.05" fill="#d0021b"/>
<circle cx="286.95" cy="619.69" r="1.05" fill="#d0021b"/>
<circle cx="286.62" cy="616.74" r="1.05" fill="#d0021b"/>
<circle cx="286.64" cy="613.88" r="1.05" fill="#d0021b"/>
<circle cx="288.10" cy="610.05" r="1.05" fill="#d0021b"/>
<circle cx="287.79" cy="606.74" r="1.05" fill="#d0021b"/>
<circle cx="287.17" cy="605.47" r="1.05" fill="#d0021b"/>
<circle cx="286.98" cy="603.64" r="1.05" fill="#d0021b"/>
<circle cx="288.11" cy="603.15" r="1.05" fill="#d0021b"/>
<circle cx="287.92" cy="599.67" r="1.05" fill="#d0021b"/>
<circle cx="296.55" cy="637.30" r="1.05" fill="#d0021b"/>
<circle cx="296.31" cy="636.72" r="1.05" fill="#d0021b"/>
<circle cx="294.97" cy="636.60" r="1.05" fill="#d0021b"/>
<circle cx="297.48" cy="636.50" r="1.05" fill="#d0021b"/>
<circle cx="296.26" cy="634.70" r="1.05" fill="#d0021b"/>
<circle cx="297.37" cy="631.78" r="1.05" fill="#d0021b"/>
<circle cx="295.68" cy="630.24" r="1.05" fill="#d0021b"/>
<circle cx="295.45" cy="627.13" r="1.05" fill="#d0021b"/>
<circle cx="297.26" cy="625.75" r="1.05" fill="#d0021b"/>
<circle cx="295.96" cy="621.80" r="1.05" fill="#d0021b"/>
<circle cx="295.39" cy="619.25" r="1.05" fill="#d0021b"/>
<circle cx="295.97" cy="591.19" r="1.05" fill="#d0021b"/>
<circle cx="296.39" cy="559.03" r="1.05" fill="#d0021b"/>
<circle cx="304.79" cy="636.58" r="1.05" fill="#d0021b"/>
<circle cx="305.56" cy="635.79" r="1.05" fill="#d0021b"/>
<circle cx="303.63" cy="635.40" r="1.05" fill="#d0021b"/>
<circle cx="305.90" cy="634.42" r="1.05" fill="#d0021b"/>
<circle cx="306.13" cy="632.24" r="1.05" fill="#d0021b"/>
<circle cx="304.85" cy="630.74" r="1.05" fill="#d0021b"/>
<circle cx="304.90" cy="628.27" r="1.05" fill="#d0021b"/>
<circle cx="304.95" cy="626.81" r="1.05" fill="#d0021b"/>
<circle cx="304.96" cy="625.41" r="1.05" fill="#d0021b"/>
<circle cx="303.52" cy="624.87" r="1.05" fill="#d0021b"/>
<circle cx="306.17" cy="619.75" r="1.05" fill="#d0021b"/>
<circle cx="304.69" cy="605.18" r="1.05" fill="#d0021b"/>
<circle cx="313.40" cy="634.66" r="1.05" fill="#d0021b"/>
<circle cx="313.96" cy="630.67" r="1.05" fill="#d0021b"/>
<circle cx="312.28" cy="629.15" r="1.05" fill="#d0021b"/>
<circle cx="314.42" cy="628.53" r="1.05" fill="#d0021b"/>
<circle cx="314.00" cy="625.85" r="1.05" fill="#d0021b"/>
<circle cx="312.12" cy="624.99" r="1.05" fill="#d0021b"/>
<circle cx="312.33" cy="622.98" r="1.05" fill="#d0021b"/>
<circle cx="313.37" cy="615.72" r="1.05" fill="#d0021b"/>
<circle cx="313.39" cy="611.90" r="1.05" fill="#d0021b"/>
<circle cx="312.77" cy="606.73" r="1.05" fill="#d0021b"/>
<circle cx="312.33" cy="602.31" r="1.05" fill="#d0021b"/>
<circle cx="313.13" cy="597.88" r="1.05" fill="#d0021b"/>
<circle cx="313.17" cy="583.61" r="1.05" fill="#d0021b"/>
<circle cx="321.86" cy="635.38" r="1.05" fill="#d0021b"/>
<circle cx="323.16" cy="635.38" r="1.05" fill="#d0021b"/>
<circle cx="322.70" cy="635.38" r="1.05" fill="#d0021b"/>
<circle cx="321.47" cy="635.38" r="1.05" fill="#d0021b"/>
<circle cx="321.19" cy="629.05" r="1.05" fill="#d0021b"/>
<circle cx="321.46" cy="622.29" r="1.05" fill="#d0021b"/>
<circle cx="321.74" cy="618.72" r="1.05" fill="#d0021b"/>
<circle cx="323.27" cy="612.94" r="1.05" fill="#d0021b"/>
<circle cx="322.77" cy="610.95" r="1.05" fill="#d0021b"/>
<circle cx="323.08" cy="609.81" r="1.05" fill="#d0021b"/>
<circle cx="322.80" cy="607.92" r="1.05" fill="#d0021b"/>
<circle cx="322.89" cy="604.77" r="1.05" fill="#d0021b"/>
<circle cx="320.67" cy="598.90" r="1.05" fill="#d0021b"/>
<circle cx="321.93" cy="577.85" r="1.05" fill="#d0021b"/>
<circle cx="330.73" cy="636.58" r="1.05" fill="#d0021b"/>
<circle cx="331.22" cy="636.58" r="1.05" fill="#d0021b"/>
<circle cx="331.67" cy="636.58" r="1.05" fill="#d0021b"/>
<circle cx="330.82" cy="636.58" r="1.05" fill="#d0021b"/>
<circle cx="331.32" cy="632.44" r="1.05" fill="#d0021b"/>
<circle cx="331.53" cy="627.41" r="1.05" fill="#d0021b"/>
<circle cx="331.53" cy="623.85" r="1.05" fill="#d0021b"/>
<circle cx="329.15" cy="617.70" r="1.05" fill="#d0021b"/>
<circle cx="330.85" cy="613.11" r="1.05" fill="#d0021b"/>
<circle cx="329.79" cy="604.61" r="1.05" fill="#d0021b"/>
<circle cx="330.95" cy="597.51" r="1.05" fill="#d0021b"/>
<circle cx="329.82" cy="593.91" r="1.05" fill="#d0021b"/>
<circle cx="330.57" cy="567.29" r="1.05" fill="#d0021b"/>
<circle cx="330.70" cy="545.45" r="1.05" fill="#d0021b"/>
<circle cx="338.99" cy="634.90" r="1.05" fill="#d0021b"/>
<circle cx="338.33" cy="634.16" r="1.05" fill="#d0021b"/>
<circle cx="338.89" cy="634.00" r="1.05" fill="#d0021b"/>
<circle cx="339.07" cy="633.59" r="1.05" fill="#d0021b"/>
<circle cx="338.00" cy="632.35" r="1.05" fill="#d0021b"/>
<circle cx="337.93" cy="630.54" r="1.05" fill="#d0021b"/>
<circle cx="337.95" cy="629.83" r="1.05" fill="#d0021b"/>
<circle cx="338.40" cy="629.06" r="1.05" fill="#d0021b"/>
<circle cx="338.72" cy="628.23" r="1.05" fill="#d0021b"/>
<circle cx="338.39" cy="627.81" r="1.05" fill="#d0021b"/>
<circle cx="338.26" cy="626.48" r="1.05" fill="#d0021b"/>
<circle cx="337.83" cy="619.75" r="1.05" fill="#d0021b"/>
<circle cx="339.01" cy="606.62" r="1.05" fill="#d0021b"/>
<circle cx="347.36" cy="637.30" r="1.05" fill="#d0021b"/>
<circle cx="346.73" cy="636.71" r="1.05" fill="#d0021b"/>
<circle cx="347.54" cy="636.60" r="1.05" fill="#d0021b"/>
<circle cx="347.18" cy="635.85" r="1.05" fill="#d0021b"/>
<circle cx="347.75" cy="633.28" r="1.05" fill="#d0021b"/>
<circle cx="346.14" cy="631.61" r="1.05" fill="#d0021b"/>
<circle cx="347.10" cy="628.51" r="1.05" fill="#d0021b"/>
<circle cx="348.52" cy="627.59" r="1.05" fill="#d0021b"/>
<circle cx="346.78" cy="626.42" r="1.05" fill="#d0021b"/>
<circle cx="347.67" cy="625.26" r="1.05" fill="#d0021b"/>
<circle cx="347.49" cy="624.50" r="1.05" fill="#d0021b"/>
<circle cx="346.91" cy="621.77" r="1.05" fill="#d0021b"/>
<circle cx="347.80" cy="609.73" r="1.05" fill="#d0021b"/>
<circle cx="355.88" cy="637.30" r="1.05" fill="#d0021b"/>
<circle cx="357.33" cy="636.80" r="1.05" fill="#d0021b"/>
<circle cx="356.71" cy="636.60" r="1.05" fill="#d0021b"/>
<circle cx="355.07" cy="636.57" r="1.05" fill="#d0021b"/>
<circle cx="355.58" cy="635.81" r="1.05" fill="#d0021b"/>
<circle cx="355.63" cy="634.54" r="1.05" fill="#d0021b"/>
<circle cx="356.53" cy="633.98" r="1.05" fill="#d0021b"/>
<circle cx="356.37" cy="632.05" r="1.05" fill="#d0021b"/>
<circle cx="357.02" cy="628.70" r="1.05" fill="#d0021b"/>
<circle cx="356.94" cy="625.87" r="1.05" fill="#d0021b"/>
<circle cx="356.09" cy="623.78" r="1.05" fill="#d0021b"/>
<circle cx="356.71" cy="621.36" r="1.05" fill="#d0021b"/>
<circle cx="356.19" cy="603.98" r="1.05" fill="#d0021b"/>
<circle cx="364.57" cy="637.30" r="1.05" fill="#d0021b"/>
<circle cx="365.87" cy="636.70" r="1.05" fill="#d0021b"/>
<circle cx="364.77" cy="636.60" r="1.05" fill="#d0021b"/>
<circle cx="364.34" cy="636.08" r="1.05" fill="#d0021b"/>
<circle cx="365.36" cy="635.40" r="1.05" fill="#d0021b"/>
<circle cx="365.61" cy="634.57" r="1.05" fill="#d0021b"/>
<circle cx="364.87" cy="633.41" r="1.05" fill="#d0021b"/>
<circle cx="364.23" cy="626.97" r="1.05" fill="#d0021b"/>
<circle cx="364.44" cy="625.31" r="1.05" fill="#d0021b"/>
<circle cx="364.45" cy="621.65" r="1.05" fill="#d0021b"/>
<circle cx="365.19" cy="621.32" r="1.05" fill="#d0021b"/>
<circle cx="364.45" cy="620.04" r="1.05" fill="#d0021b"/>
<circle cx="373.31" cy="637.30" r="1.05" fill="#d0021b"/>
<circle cx="373.10" cy="636.60" r="1.05" fill="#d0021b"/>
<circle cx="372.94" cy="635.07" r="1.05" fill="#d0021b"/>
<circle cx="372.22" cy="633.38" r="1.05" fill="#d0021b"/>
<circle cx="372.55" cy="631.19" r="1.05" fill="#d0021b"/>
<circle cx="372.11" cy="628.75" r="1.05" fill="#d0021b"/>
<circle cx="373.15" cy="621.24" r="1.05" fill="#d0021b"/>
<circle cx="381.84" cy="637.30" r="1.05" fill="#d0021b"/>
<circle cx="382.58" cy="636.43" r="1.05" fill="#d0021b"/>
<circle cx="382.91" cy="634.65" r="1.05" fill="#d0021b"/>
<circle cx="380.80" cy="630.48" r="1.05" fill="#d0021b"/>
<circle cx="381.42" cy="628.99" r="1.05" fill="#d0021b"/>
<circle cx="381.88" cy="625.08" r="1.05" fill="#d0021b"/>
<circle cx="390.20" cy="637.30" r="1.05" fill="#d0021b"/>
<circle cx="390.15" cy="635.84" r="1.05" fill="#d0021b"/>
<circle cx="391.34" cy="633.55" r="1.05" fill="#d0021b"/>
<circle cx="390.32" cy="623.40" r="1.05" fill="#d0021b"/>
<line x1="281.9" y1="637.30" x2="395.66" y2="637.30" stroke="#000" stroke-width="1.1"/>
<line x1="287.80" y1="637.30" x2="287.80" y2="640.90" stroke="#000" stroke-width="0.9"/>
<line x1="296.33" y1="637.30" x2="296.33" y2="640.90" stroke="#000" stroke-width="0.9"/>
<line x1="304.86" y1="637.30" x2="304.86" y2="640.90" stroke="#000" stroke-width="0.9"/>
<line x1="313.39" y1="637.30" x2="313.39" y2="640.90" stroke="#000" stroke-width="0.9"/>
<line x1="321.92" y1="637.30" x2="321.92" y2="640.90" stroke="#000" stroke-width="0.9"/>
<line x1="330.45" y1="637.30" x2="330.45" y2="640.90" stroke="#000" stroke-width="0.9"/>
<line x1="338.98" y1="637.30" x2="338.98" y2="640.90" stroke="#000" stroke-width="0.9"/>
<line x1="347.51" y1="637.30" x2="347.51" y2="640.90" stroke="#000" stroke-width="0.9"/>
<line x1="356.04" y1="637.30" x2="356.04" y2="640.90" stroke="#000" stroke-width="0.9"/>
<line x1="364.57" y1="637.30" x2="364.57" y2="640.90" stroke="#000" stroke-width="0.9"/>
<line x1="373.10" y1="637.30" x2="373.10" y2="640.90" stroke="#000" stroke-width="0.9"/>
<line x1="381.63" y1="637.30" x2="381.63" y2="640.90" stroke="#000" stroke-width="0.9"/>
<line x1="390.16" y1="637.30" x2="390.16" y2="640.90" stroke="#000" stroke-width="0.9"/>
<line x1="282.4" y1="565.39" x2="282.4" y2="637.80" stroke="#000" stroke-width="1.1"/>
<line x1="282.4" y1="565.39" x2="285.4" y2="565.39" stroke="#000" stroke-width="0.9"/>
<line x1="278.9" y1="637.30" x2="282.4" y2="637.30" stroke="#000" stroke-width="0.9"/>
<text x="276.40" y="639.90" font-size="7.4" text-anchor="end" fill="#1a1a1a" stroke="#1a1a1a" stroke-width="0.15">0</text>
<line x1="280.4" y1="632.51" x2="282.4" y2="632.51" stroke="#000" stroke-width="0.7"/>
<line x1="280.4" y1="627.71" x2="282.4" y2="627.71" stroke="#000" stroke-width="0.7"/>
<line x1="280.4" y1="622.92" x2="282.4" y2="622.92" stroke="#000" stroke-width="0.7"/>
<line x1="280.4" y1="618.12" x2="282.4" y2="618.12" stroke="#000" stroke-width="0.7"/>
<line x1="278.9" y1="613.33" x2="282.4" y2="613.33" stroke="#000" stroke-width="0.9"/>
<text x="276.40" y="615.93" font-size="7.4" text-anchor="end" fill="#1a1a1a" stroke="#1a1a1a" stroke-width="0.15">10</text>
<line x1="280.4" y1="608.54" x2="282.4" y2="608.54" stroke="#000" stroke-width="0.7"/>
<line x1="280.4" y1="603.74" x2="282.4" y2="603.74" stroke="#000" stroke-width="0.7"/>
<line x1="280.4" y1="598.95" x2="282.4" y2="598.95" stroke="#000" stroke-width="0.7"/>
<line x1="280.4" y1="594.15" x2="282.4" y2="594.15" stroke="#000" stroke-width="0.7"/>
<line x1="278.9" y1="589.36" x2="282.4" y2="589.36" stroke="#000" stroke-width="0.9"/>
<text x="276.40" y="591.96" font-size="7.4" text-anchor="end" fill="#1a1a1a" stroke="#1a1a1a" stroke-width="0.15">20</text>
<line x1="280.4" y1="584.57" x2="282.4" y2="584.57" stroke="#000" stroke-width="0.7"/>
<line x1="280.4" y1="579.77" x2="282.4" y2="579.77" stroke="#000" stroke-width="0.7"/>
<line x1="280.4" y1="574.98" x2="282.4" y2="574.98" stroke="#000" stroke-width="0.7"/>
<line x1="280.4" y1="570.18" x2="282.4" y2="570.18" stroke="#000" stroke-width="0.7"/>
<line x1="278.9" y1="565.39" x2="282.4" y2="565.39" stroke="#000" stroke-width="0.9"/>
<text x="276.40" y="567.99" font-size="7.4" text-anchor="end" fill="#1a1a1a" stroke="#1a1a1a" stroke-width="0.15">30</text>
<line x1="282.4" y1="540.20" x2="282.4" y2="560.80" stroke="#000" stroke-width="1.1"/>
<line x1="278.9" y1="560.80" x2="285.4" y2="560.80" stroke="#000" stroke-width="0.9"/>
<line x1="278.9" y1="560.80" x2="282.4" y2="560.80" stroke="#000" stroke-width="0.9"/>
<text x="276.40" y="563.40" font-size="7.4" text-anchor="end" fill="#1a1a1a" stroke="#1a1a1a" stroke-width="0.15">40</text>
<line x1="280.4" y1="559.03" x2="282.4" y2="559.03" stroke="#000" stroke-width="0.5"/>
<line x1="280.4" y1="557.26" x2="282.4" y2="557.26" stroke="#000" stroke-width="0.5"/>
<line x1="280.4" y1="555.49" x2="282.4" y2="555.49" stroke="#000" stroke-width="0.5"/>
<line x1="280.4" y1="553.72" x2="282.4" y2="553.72" stroke="#000" stroke-width="0.5"/>
<line x1="278.9" y1="551.95" x2="282.4" y2="551.95" stroke="#000" stroke-width="0.9"/>
<text x="276.40" y="554.55" font-size="7.4" text-anchor="end" fill="#1a1a1a" stroke="#1a1a1a" stroke-width="0.15">60</text>
<line x1="280.4" y1="550.18" x2="282.4" y2="550.18" stroke="#000" stroke-width="0.5"/>
<line x1="280.4" y1="548.41" x2="282.4" y2="548.41" stroke="#000" stroke-width="0.5"/>
<line x1="280.4" y1="546.64" x2="282.4" y2="546.64" stroke="#000" stroke-width="0.5"/>
<line x1="280.4" y1="544.87" x2="282.4" y2="544.87" stroke="#000" stroke-width="0.5"/>
<line x1="278.9" y1="543.10" x2="282.4" y2="543.10" stroke="#000" stroke-width="0.9"/>
<text x="276.40" y="545.70" font-size="7.4" text-anchor="end" fill="#1a1a1a" stroke="#1a1a1a" stroke-width="0.15">80</text>
<text transform="translate(262.80,588.0) rotate(-90)" text-anchor="middle" font-size="9.4" font-weight="bold" textLength="50.6" lengthAdjust="spacingAndGlyphs" fill="#1a1a1a">% of CD8<tspan baseline-shift="2.2" font-size="6.4">+</tspan> T cells</text>
<text transform="translate(289.70,648.60) rotate(-45)" text-anchor="end" font-size="6.8" font-weight="bold" textLength="18.51" lengthAdjust="spacingAndGlyphs" fill="#1a1a1a" stroke="#1a1a1a" stroke-width="0.2">Donor 00</text>
<text transform="translate(298.23,648.60) rotate(-45)" text-anchor="end" font-size="6.8" font-weight="bold" textLength="37.26" lengthAdjust="spacingAndGlyphs" fill="#1a1a1a" stroke="#1a1a1a" stroke-width="0.2">Recipient pre-HCT</text>
<text transform="translate(306.76,648.60) rotate(-45)" text-anchor="end" font-size="6.8" font-weight="bold" textLength="14.39" lengthAdjust="spacingAndGlyphs" fill="#1a1a1a" stroke="#1a1a1a" stroke-width="0.2">Day +3</text>
<text transform="translate(315.29,648.60) rotate(-45)" text-anchor="end" font-size="6.8" font-weight="bold" textLength="14.39" lengthAdjust="spacingAndGlyphs" fill="#1a1a1a" stroke="#1a1a1a" stroke-width="0.2">Day +7</text>
<text transform="translate(323.82,648.60) rotate(-45)" text-anchor="end" font-size="6.8" font-weight="bold" textLength="16.89" lengthAdjust="spacingAndGlyphs" fill="#1a1a1a" stroke="#1a1a1a" stroke-width="0.2">Day +14</text>
<text transform="translate(332.35,648.60) rotate(-45)" text-anchor="end" font-size="6.8" font-weight="bold" textLength="16.89" lengthAdjust="spacingAndGlyphs" fill="#1a1a1a" stroke="#1a1a1a" stroke-width="0.2">Day +28</text>
<text transform="translate(340.88,648.60) rotate(-45)" text-anchor="end" font-size="6.8" font-weight="bold" textLength="16.89" lengthAdjust="spacingAndGlyphs" fill="#1a1a1a" stroke="#1a1a1a" stroke-width="0.2">Day +60</text>
<text transform="translate(349.41,648.60) rotate(-45)" text-anchor="end" font-size="6.8" font-weight="bold" textLength="19.39" lengthAdjust="spacingAndGlyphs" fill="#1a1a1a" stroke="#1a1a1a" stroke-width="0.2">Day +100</text>
<text transform="translate(357.94,648.60) rotate(-45)" text-anchor="end" font-size="6.8" font-weight="bold" textLength="19.39" lengthAdjust="spacingAndGlyphs" fill="#1a1a1a" stroke="#1a1a1a" stroke-width="0.2">Day +180</text>
<text transform="translate(366.47,648.60) rotate(-45)" text-anchor="end" font-size="6.8" font-weight="bold" textLength="12.51" lengthAdjust="spacingAndGlyphs" fill="#1a1a1a" stroke="#1a1a1a" stroke-width="0.2">1 year</text>
<text transform="translate(375.00,648.60) rotate(-45)" text-anchor="end" font-size="6.8" font-weight="bold" textLength="18.51" lengthAdjust="spacingAndGlyphs" fill="#1a1a1a" stroke="#1a1a1a" stroke-width="0.2">1.5 years</text>
<text transform="translate(383.53,648.60) rotate(-45)" text-anchor="end" font-size="6.8" font-weight="bold" textLength="14.76" lengthAdjust="spacingAndGlyphs" fill="#1a1a1a" stroke="#1a1a1a" stroke-width="0.2">2 years</text>
<text transform="translate(392.06,648.60) rotate(-45)" text-anchor="end" font-size="6.8" font-weight="bold" textLength="14.76" lengthAdjust="spacingAndGlyphs" fill="#1a1a1a" stroke="#1a1a1a" stroke-width="0.2">3 years</text>
<text x="7.3" y="193.8" font-size="10.6" font-weight="bold" fill="#000">B</text>
<text x="94.3" y="192.3" font-size="8.6" text-anchor="middle" textLength="20.8" lengthAdjust="spacingAndGlyphs" fill="#1e1e1e" stroke="#1e1e1e" stroke-width="0.25">Naïve</text>
<text x="94.8" y="202.2" font-size="8.6" text-anchor="middle" textLength="106.6" lengthAdjust="spacingAndGlyphs" fill="#1e1e1e" stroke="#1e1e1e" stroke-width="0.25">(CD45RA<tspan baseline-shift="2.2" font-size="6.4">+</tspan>CCR7<tspan baseline-shift="2.2" font-size="6.4">+</tspan>CD95<tspan baseline-shift="2.2" font-size="6.4">−</tspan>)</text>
<text x="259.2" y="192.3" font-size="8.6" fill="#1e1e1e" stroke="#1e1e1e" stroke-width="0.25">T<tspan baseline-shift="-2" font-size="6.6">scm</tspan></text>
<text x="267.5" y="202.2" font-size="8.6" text-anchor="middle" textLength="105.7" lengthAdjust="spacingAndGlyphs" fill="#1e1e1e" stroke="#1e1e1e" stroke-width="0.25">(CD45RA<tspan baseline-shift="2.2" font-size="6.4">+</tspan>CCR7<tspan baseline-shift="2.2" font-size="6.4">+</tspan>CD95<tspan baseline-shift="2.2" font-size="6.4">+</tspan>)</text>
<text x="441.2" y="192.3" font-size="8.6" text-anchor="middle" textLength="61.1" lengthAdjust="spacingAndGlyphs" fill="#1e1e1e" stroke="#1e1e1e" stroke-width="0.25">Central memory</text>
<text x="441.0" y="202.2" font-size="8.6" text-anchor="middle" textLength="75.7" lengthAdjust="spacingAndGlyphs" fill="#1e1e1e" stroke="#1e1e1e" stroke-width="0.25">(CD45RA<tspan baseline-shift="2.2" font-size="6.4">−</tspan>CCR7<tspan baseline-shift="2.2" font-size="6.4">+</tspan>)</text>
<text x="94.8" y="366.5" font-size="8.6" text-anchor="middle" textLength="142.6" lengthAdjust="spacingAndGlyphs" fill="#1e1e1e" stroke="#1e1e1e" stroke-width="0.25">Effector memory (CD45RA<tspan baseline-shift="2.2" font-size="6.4">−</tspan>CCR7<tspan baseline-shift="2.2" font-size="6.4">−</tspan>)</text>
<text x="268.8" y="366.6" font-size="8.6" text-anchor="middle" textLength="110" lengthAdjust="spacingAndGlyphs" fill="#1e1e1e" stroke="#1e1e1e" stroke-width="0.25">TEMRA (CD45RA<tspan baseline-shift="2.2" font-size="6.4">+</tspan>CCR7<tspan baseline-shift="2.2" font-size="6.4">−</tspan>)</text>
<text x="426.9" y="366.6" font-size="8.6" textLength="28.5" lengthAdjust="spacingAndGlyphs" fill="#1e1e1e" stroke="#1e1e1e" stroke-width="0.25">CD25<tspan baseline-shift="2.2" font-size="6.4">+</tspan></text>
<text x="72.3" y="528.8" font-size="10.6" font-weight="bold" fill="#000">C</text>
<text x="165.7" y="528.8" font-size="8.6" text-anchor="middle" textLength="76" lengthAdjust="spacingAndGlyphs" fill="#1e1e1e" stroke="#1e1e1e" stroke-width="0.25">CD161<tspan baseline-shift="2.2" font-size="6.4">+</tspan> non-MAIT</text>
<text x="165.7" y="539.6" font-size="8.6" text-anchor="middle" textLength="85.2" lengthAdjust="spacingAndGlyphs" fill="#1e1e1e" stroke="#1e1e1e" stroke-width="0.25">(CD161<tspan baseline-shift="2.2" font-size="6.4">+</tspan>TCRVα7.2<tspan baseline-shift="2.2" font-size="6.4">−</tspan>)</text>
<text x="339.9" y="529.3" font-size="8.6" text-anchor="middle" textLength="24.2" lengthAdjust="spacingAndGlyphs" fill="#1e1e1e" stroke="#1e1e1e" stroke-width="0.25">MAITs</text>
<text x="339.6" y="539.2" font-size="8.6" text-anchor="middle" textLength="86.1" lengthAdjust="spacingAndGlyphs" fill="#1e1e1e" stroke="#1e1e1e" stroke-width="0.25">(CD161<tspan baseline-shift="2.2" font-size="6.4">+</tspan>TCRVα7.2<tspan baseline-shift="2.2" font-size="6.4">+</tspan>)</text>
</svg>
</body></html>
